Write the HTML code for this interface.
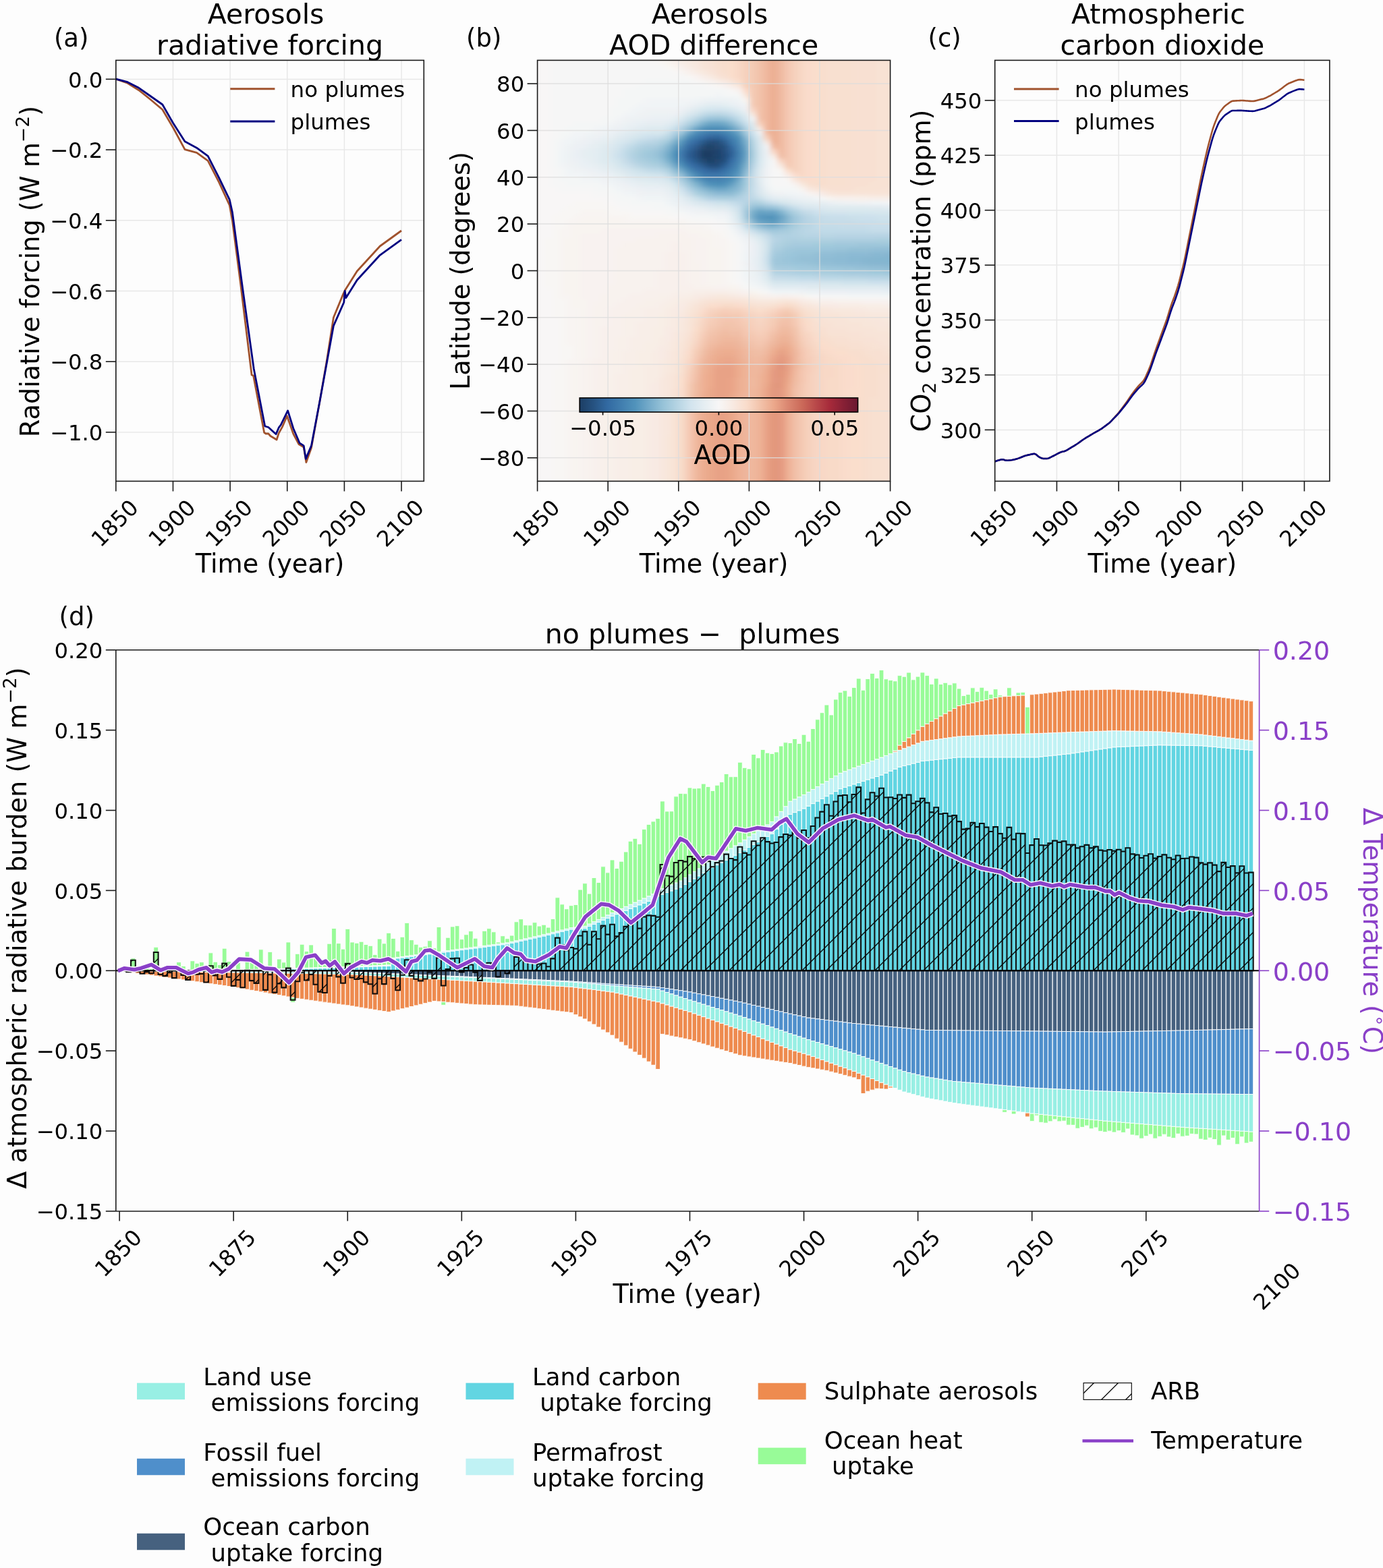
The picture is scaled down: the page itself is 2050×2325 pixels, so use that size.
<!DOCTYPE html>
<html><head><meta charset="utf-8"><title>figure</title>
<style>html,body{margin:0;padding:0;background:#fdfdfd;}svg{display:block;}text{font-family:"DejaVu Sans","Liberation Sans",sans-serif;white-space:pre;}</style>
</head><body>
<svg xmlns="http://www.w3.org/2000/svg" width="2050" height="2325" viewBox="0 0 2050 2325">
<rect x="0" y="0" width="2050" height="2325" fill="#fdfdfd"/>
<line x1="171.8" y1="89.4" x2="171.8" y2="713.5" stroke="#e8e8e8" stroke-width="1.5"/>
<line x1="256.45" y1="89.4" x2="256.45" y2="713.5" stroke="#e8e8e8" stroke-width="1.5"/>
<line x1="341.1" y1="89.4" x2="341.1" y2="713.5" stroke="#e8e8e8" stroke-width="1.5"/>
<line x1="425.75" y1="89.4" x2="425.75" y2="713.5" stroke="#e8e8e8" stroke-width="1.5"/>
<line x1="510.4" y1="89.4" x2="510.4" y2="713.5" stroke="#e8e8e8" stroke-width="1.5"/>
<line x1="595.05" y1="89.4" x2="595.05" y2="713.5" stroke="#e8e8e8" stroke-width="1.5"/>
<line x1="171.8" y1="117.4" x2="628.3" y2="117.4" stroke="#e8e8e8" stroke-width="1.5"/>
<line x1="171.8" y1="222.1" x2="628.3" y2="222.1" stroke="#e8e8e8" stroke-width="1.5"/>
<line x1="171.8" y1="326.8" x2="628.3" y2="326.8" stroke="#e8e8e8" stroke-width="1.5"/>
<line x1="171.8" y1="431.5" x2="628.3" y2="431.5" stroke="#e8e8e8" stroke-width="1.5"/>
<line x1="171.8" y1="536.2" x2="628.3" y2="536.2" stroke="#e8e8e8" stroke-width="1.5"/>
<line x1="171.8" y1="640.9" x2="628.3" y2="640.9" stroke="#e8e8e8" stroke-width="1.5"/>
<polyline points="171.7,117.2 189,123.3 205.8,133.7 223,147.5 240.8,162.5 257,190 274,221.7 291.5,226.3 308.2,238.3 324.8,270.6 340.3,304.4 344.4,327 356.7,421.5 373.1,556 375.6,557 391.6,641.3 394,643 397.8,643 400.9,646.5 410.1,652 413.2,642.4 418.4,633.1 425.5,616.7 434.8,643.4 443,658.8 450.2,663 453.9,685.5 461.5,664 473.8,596 484.1,536.6 494.4,470.8 508.8,435.9 511.8,429.7 529.3,402 563.2,365 595,342" fill="none" stroke="#a0522d" stroke-width="2.8" stroke-linejoin="round"/>
<polyline points="171.7,117.2 189,121.7 205.8,130.3 223,142.5 240.8,155 256.6,182.5 274,209.7 291.5,219.2 308.2,231.3 324.8,264 340.3,296.2 344.4,314.7 358.8,421.5 376.2,546.8 392.7,632 397.8,633.5 401.9,637.2 409.1,643.8 413.2,634.2 416.3,630 426.6,608.9 434.8,635.2 444,656.8 450.2,660.9 453.3,680.4 461.5,660.9 473.8,596 494.4,483.1 509.8,448.2 511.2,431.4 512.9,441.6 529.3,415.3 563.2,378.3 595,355.3" fill="none" stroke="#000080" stroke-width="2.8" stroke-linejoin="round"/>
<rect x="171.8" y="89.4" width="456.5" height="624.1" fill="none" stroke="#1a1a1a" stroke-width="1.6"/>
<line x1="171.8" y1="713.5" x2="171.8" y2="728.5" stroke="#1a1a1a" stroke-width="1.6"/>
<text x="169.5" y="787.31" font-size="32.3" text-anchor="middle" transform="rotate(-45 169.5 775.2)">1850</text>
<line x1="256.45" y1="713.5" x2="256.45" y2="728.5" stroke="#1a1a1a" stroke-width="1.6"/>
<text x="254.15" y="787.31" font-size="32.3" text-anchor="middle" transform="rotate(-45 254.15 775.2)">1900</text>
<line x1="341.1" y1="713.5" x2="341.1" y2="728.5" stroke="#1a1a1a" stroke-width="1.6"/>
<text x="338.8" y="787.31" font-size="32.3" text-anchor="middle" transform="rotate(-45 338.8 775.2)">1950</text>
<line x1="425.75" y1="713.5" x2="425.75" y2="728.5" stroke="#1a1a1a" stroke-width="1.6"/>
<text x="423.45" y="787.31" font-size="32.3" text-anchor="middle" transform="rotate(-45 423.45 775.2)">2000</text>
<line x1="510.4" y1="713.5" x2="510.4" y2="728.5" stroke="#1a1a1a" stroke-width="1.6"/>
<text x="508.1" y="787.31" font-size="32.3" text-anchor="middle" transform="rotate(-45 508.1 775.2)">2050</text>
<line x1="595.05" y1="713.5" x2="595.05" y2="728.5" stroke="#1a1a1a" stroke-width="1.6"/>
<text x="592.75" y="787.31" font-size="32.3" text-anchor="middle" transform="rotate(-45 592.75 775.2)">2100</text>
<line x1="156.8" y1="117.4" x2="171.8" y2="117.4" stroke="#1a1a1a" stroke-width="1.6"/>
<text x="152.4" y="129.51" font-size="32.3" text-anchor="end">0.0</text>
<line x1="156.8" y1="222.1" x2="171.8" y2="222.1" stroke="#1a1a1a" stroke-width="1.6"/>
<text x="152.4" y="234.21" font-size="32.3" text-anchor="end">−0.2</text>
<line x1="156.8" y1="326.8" x2="171.8" y2="326.8" stroke="#1a1a1a" stroke-width="1.6"/>
<text x="152.4" y="338.91" font-size="32.3" text-anchor="end">−0.4</text>
<line x1="156.8" y1="431.5" x2="171.8" y2="431.5" stroke="#1a1a1a" stroke-width="1.6"/>
<text x="152.4" y="443.61" font-size="32.3" text-anchor="end">−0.6</text>
<line x1="156.8" y1="536.2" x2="171.8" y2="536.2" stroke="#1a1a1a" stroke-width="1.6"/>
<text x="152.4" y="548.31" font-size="32.3" text-anchor="end">−0.8</text>
<line x1="156.8" y1="640.9" x2="171.8" y2="640.9" stroke="#1a1a1a" stroke-width="1.6"/>
<text x="152.4" y="653.01" font-size="32.3" text-anchor="end">−1.0</text>
<line x1="341.3" y1="131.8" x2="407.4" y2="131.8" stroke="#a0522d" stroke-width="3"/>
<line x1="341.3" y1="180" x2="407.4" y2="180" stroke="#000080" stroke-width="3"/>
<text x="430.6" y="144.2" font-size="32.5">no plumes</text>
<text x="430.6" y="191.7" font-size="32.5">plumes</text>
<text x="394.05" y="35.2" font-size="41" text-anchor="middle">Aerosols</text>
<text x="400.05" y="80.8" font-size="41" text-anchor="middle">radiative forcing</text>
<text x="79.9" y="68.9" font-size="37">(a)</text>
<text x="400.05" y="849.3" font-size="38.2" text-anchor="middle">Time (year)</text>
<text x="58.1" y="402.5" font-size="38.2" text-anchor="middle" transform="rotate(-90 58.1 402.5)">Radiative forcing (W m<tspan font-size="26.74" dy="-15">−2</tspan><tspan dy="15">)</tspan></text>
<line x1="1474.7" y1="89.4" x2="1474.7" y2="713.5" stroke="#e8e8e8" stroke-width="1.5"/>
<line x1="1566.44" y1="89.4" x2="1566.44" y2="713.5" stroke="#e8e8e8" stroke-width="1.5"/>
<line x1="1658.18" y1="89.4" x2="1658.18" y2="713.5" stroke="#e8e8e8" stroke-width="1.5"/>
<line x1="1749.92" y1="89.4" x2="1749.92" y2="713.5" stroke="#e8e8e8" stroke-width="1.5"/>
<line x1="1841.66" y1="89.4" x2="1841.66" y2="713.5" stroke="#e8e8e8" stroke-width="1.5"/>
<line x1="1933.4" y1="89.4" x2="1933.4" y2="713.5" stroke="#e8e8e8" stroke-width="1.5"/>
<line x1="1474.7" y1="637.4" x2="1970.9" y2="637.4" stroke="#e8e8e8" stroke-width="1.5"/>
<line x1="1474.7" y1="555.98" x2="1970.9" y2="555.98" stroke="#e8e8e8" stroke-width="1.5"/>
<line x1="1474.7" y1="474.55" x2="1970.9" y2="474.55" stroke="#e8e8e8" stroke-width="1.5"/>
<line x1="1474.7" y1="393.12" x2="1970.9" y2="393.12" stroke="#e8e8e8" stroke-width="1.5"/>
<line x1="1474.7" y1="311.7" x2="1970.9" y2="311.7" stroke="#e8e8e8" stroke-width="1.5"/>
<line x1="1474.7" y1="230.27" x2="1970.9" y2="230.27" stroke="#e8e8e8" stroke-width="1.5"/>
<line x1="1474.7" y1="148.85" x2="1970.9" y2="148.85" stroke="#e8e8e8" stroke-width="1.5"/>
<polyline points="1474.7,684.25 1476.53,683.66 1478.37,683.07 1480.2,682.49 1482.04,681.9 1483.87,681.38 1485.71,681.22 1487.54,681.59 1489.38,682.2 1491.21,682.67 1493.05,682.79 1494.88,682.66 1496.72,682.48 1498.55,682.29 1500.39,682.02 1502.22,681.63 1504.06,681.17 1505.89,680.71 1507.73,680.22 1509.56,679.63 1511.4,678.93 1513.23,678.2 1515.07,677.46 1516.9,676.73 1518.74,676.05 1520.57,675.5 1522.4,675.05 1524.24,674.63 1526.07,674.21 1527.91,673.79 1529.74,673.37 1531.58,672.95 1533.41,672.84 1535.25,673.59 1537.08,675.12 1538.92,676.65 1540.75,677.79 1542.59,678.77 1544.42,679.57 1546.26,679.94 1548.09,680 1549.93,680 1551.76,679.98 1553.6,679.7 1555.43,678.99 1557.27,678.07 1559.1,677.15 1560.94,676.23 1562.77,675.29 1564.61,674.35 1566.44,673.39 1568.27,672.44 1570.11,671.48 1571.94,670.63 1573.78,670.02 1575.61,669.6 1577.45,669.2 1579.28,668.58 1581.12,667.63 1582.95,666.53 1584.79,665.43 1586.62,664.32 1588.46,663.22 1590.29,662.12 1592.13,661.02 1593.96,659.92 1595.8,658.77 1597.63,657.51 1599.47,656.2 1601.3,654.88 1603.14,653.55 1604.97,652.24 1606.81,650.99 1608.64,649.84 1610.48,648.74 1612.31,647.64 1614.14,646.53 1615.98,645.43 1617.81,644.34 1619.65,643.25 1621.48,642.2 1623.32,641.16 1625.15,640.12 1626.99,639.08 1628.82,638.04 1630.66,636.99 1632.49,635.84 1634.33,634.56 1636.16,633.21 1638,631.87 1639.83,630.52 1641.67,629.17 1643.5,627.79 1645.34,626.19 1647.17,624.3 1649.01,622.28 1650.84,620.27 1652.68,618.25 1654.51,616.23 1656.35,614.18 1658.18,612 1660.01,609.63 1661.85,607.18 1663.68,604.73 1665.52,602.29 1667.35,599.84 1669.19,597.37 1671.02,594.8 1672.86,592.1 1674.69,589.34 1676.53,586.59 1678.36,583.92 1680.2,581.44 1682.03,579.11 1683.87,576.81 1685.7,574.53 1687.54,572.36 1689.37,570.42 1691.21,568.58 1693.04,566.75 1694.88,564.68 1696.71,561.8 1698.55,558.01 1700.38,553.88 1702.22,549.75 1704.05,545.36 1705.88,540.35 1707.72,534.93 1709.55,529.42 1711.39,523.93 1713.22,518.57 1715.06,513.43 1716.89,508.38 1718.73,503.34 1720.56,498.29 1722.4,493.25 1724.23,488.2 1726.07,483.15 1727.9,478.11 1729.74,472.83 1731.57,467.06 1733.41,460.98 1735.24,455.01 1737.08,449.57 1738.91,444.73 1740.75,439.89 1742.58,434.6 1744.42,429.09 1746.25,423.32 1748.09,416.83 1749.92,409.68 1751.75,402.34 1753.59,395 1755.42,387.23 1757.26,378.57 1759.09,369.42 1760.93,360.25 1762.76,351.08 1764.6,341.9 1766.43,332.73 1768.27,323.55 1770.1,314.38 1771.94,305.21 1773.77,296.03 1775.61,286.86 1777.44,277.68 1779.28,268.52 1781.11,259.58 1782.95,251.1 1784.78,242.85 1786.62,234.59 1788.45,226.47 1790.29,218.82 1792.12,211.73 1793.96,204.85 1795.79,197.97 1797.62,191.52 1799.46,186.07 1801.29,181.34 1803.13,176.75 1804.96,172.23 1806.8,168.34 1808.63,165.54 1810.47,163.24 1812.3,160.95 1814.14,158.77 1815.97,156.95 1817.81,155.5 1819.64,154.18 1821.48,152.86 1823.31,151.54 1825.15,150.42 1826.98,149.82 1828.82,149.61 1830.65,149.51 1832.49,149.4 1834.32,149.3 1836.16,149.19 1837.99,149.09 1839.83,149.02 1841.66,149.04 1843.49,149.15 1845.33,149.29 1847.16,149.43 1849,149.56 1850.83,149.7 1852.67,149.84 1854.5,149.98 1856.34,150.07 1858.17,149.98 1860.01,149.63 1861.84,149.17 1863.68,148.71 1865.51,148.25 1867.35,147.79 1869.18,147.33 1871.02,146.87 1872.85,146.41 1874.69,145.84 1876.52,145.04 1878.36,144.12 1880.19,143.2 1882.03,142.27 1883.86,141.27 1885.7,140.2 1887.53,139.1 1889.36,138 1891.2,136.9 1893.03,135.8 1894.87,134.66 1896.7,133.42 1898.54,132.06 1900.37,130.66 1902.21,129.25 1904.04,127.84 1905.88,126.44 1907.71,125.11 1909.55,124.02 1911.38,123.19 1913.22,122.46 1915.05,121.72 1916.89,120.99 1918.72,120.26 1920.56,119.54 1922.39,118.9 1924.23,118.36 1926.06,118.06 1927.9,118.11 1929.73,118.32 1931.57,118.52 1933.4,118.72" fill="none" stroke="#a0522d" stroke-width="2.6" stroke-linejoin="round"/>
<polyline points="1474.7,684.25 1476.53,683.66 1478.37,683.07 1480.2,682.49 1482.04,681.9 1483.87,681.38 1485.71,681.22 1487.54,681.59 1489.38,682.2 1491.21,682.67 1493.05,682.79 1494.88,682.66 1496.72,682.48 1498.55,682.29 1500.39,682.02 1502.22,681.63 1504.06,681.17 1505.89,680.71 1507.73,680.22 1509.56,679.63 1511.4,678.93 1513.23,678.2 1515.07,677.46 1516.9,676.73 1518.74,676.05 1520.57,675.5 1522.4,675.05 1524.24,674.63 1526.07,674.21 1527.91,673.79 1529.74,673.37 1531.58,672.95 1533.41,672.84 1535.25,673.59 1537.08,675.12 1538.92,676.65 1540.75,677.79 1542.59,678.77 1544.42,679.57 1546.26,679.94 1548.09,680 1549.93,680 1551.76,679.98 1553.6,679.7 1555.43,678.99 1557.27,678.07 1559.1,677.15 1560.94,676.23 1562.77,675.29 1564.61,674.35 1566.44,673.39 1568.27,672.44 1570.11,671.48 1571.94,670.63 1573.78,670.02 1575.61,669.6 1577.45,669.2 1579.28,668.58 1581.12,667.63 1582.95,666.53 1584.79,665.43 1586.62,664.32 1588.46,663.22 1590.29,662.12 1592.13,661.02 1593.96,659.92 1595.8,658.77 1597.63,657.51 1599.47,656.2 1601.3,654.88 1603.14,653.55 1604.97,652.24 1606.81,650.99 1608.64,649.84 1610.48,648.74 1612.31,647.64 1614.14,646.53 1615.98,645.43 1617.81,644.34 1619.65,643.25 1621.48,642.2 1623.32,641.16 1625.15,640.12 1626.99,639.08 1628.82,638.04 1630.66,636.99 1632.49,635.84 1634.33,634.56 1636.16,633.21 1638,631.87 1639.83,630.52 1641.67,629.17 1643.5,627.79 1645.34,626.19 1647.17,624.3 1649.01,622.28 1650.84,620.44 1652.68,618.6 1654.51,616.75 1656.35,614.88 1658.18,612.86 1660.01,610.67 1661.85,608.4 1663.68,606.12 1665.52,603.85 1667.35,601.58 1669.19,599.28 1671.02,596.88 1672.86,594.35 1674.69,591.78 1676.53,589.2 1678.36,586.68 1680.2,584.35 1682.03,582.17 1683.87,580.03 1685.7,577.89 1687.54,575.88 1689.37,574.09 1691.21,572.4 1693.04,570.72 1694.88,568.8 1696.71,566.07 1698.55,562.44 1700.38,558.46 1702.22,554.48 1704.05,550.24 1705.88,545.38 1707.72,540.1 1709.55,534.74 1711.39,529.39 1713.22,524.18 1715.06,519.17 1716.89,514.27 1718.73,509.37 1720.56,504.47 1722.4,499.56 1724.23,494.66 1726.07,489.76 1727.9,484.86 1729.74,479.73 1731.57,474.1 1733.41,468.16 1735.24,462.33 1737.08,457.03 1738.91,452.34 1740.75,447.64 1742.58,442.49 1744.42,437.13 1746.25,431.5 1748.09,425.15 1749.92,418.15 1751.75,410.98 1753.59,403.81 1755.42,396.21 1757.26,387.72 1759.09,378.74 1760.93,369.73 1762.76,360.73 1764.6,351.72 1766.43,342.72 1768.27,333.72 1770.1,324.71 1771.94,315.71 1773.77,306.7 1775.61,297.7 1777.44,288.69 1779.28,279.69 1781.11,270.93 1782.95,262.62 1784.78,254.53 1786.62,246.45 1788.45,238.49 1790.29,231.01 1792.12,224.09 1793.96,217.38 1795.79,210.67 1797.62,204.31 1799.46,198.95 1801.29,194.31 1803.13,189.82 1804.96,185.39 1806.8,181.59 1808.63,178.88 1810.47,176.68 1812.3,174.47 1814.14,172.39 1815.97,170.66 1817.81,169.3 1819.64,168.07 1821.48,166.84 1823.31,165.61 1825.15,164.58 1826.98,164.07 1828.82,163.96 1830.65,163.94 1832.49,163.93 1834.32,163.91 1836.16,163.9 1837.99,163.89 1839.83,163.91 1841.66,164.02 1843.49,164.11 1845.33,164.23 1847.16,164.35 1849,164.47 1850.83,164.59 1852.67,164.7 1854.5,164.82 1856.34,164.9 1858.17,164.78 1860.01,164.41 1861.84,163.93 1863.68,163.46 1865.51,162.98 1867.35,162.5 1869.18,162.02 1871.02,161.54 1872.85,161.06 1874.69,160.47 1876.52,159.65 1878.36,158.71 1880.19,157.77 1882.03,156.82 1883.86,155.8 1885.7,154.71 1887.53,153.59 1889.36,152.47 1891.2,151.35 1893.03,150.23 1894.87,149.08 1896.7,147.82 1898.54,146.44 1900.37,145.01 1902.21,143.59 1904.04,142.16 1905.88,140.74 1907.71,139.38 1909.55,138.28 1911.38,137.43 1913.22,136.68 1915.05,135.92 1916.89,135.17 1918.72,134.42 1920.56,133.69 1922.39,133.02 1924.23,132.46 1926.06,132.15 1927.9,132.18 1929.73,132.36 1931.57,132.54 1933.4,132.73" fill="none" stroke="#000080" stroke-width="2.6" stroke-linejoin="round"/>
<rect x="1474.7" y="89.4" width="496.2" height="624.1" fill="none" stroke="#1a1a1a" stroke-width="1.6"/>
<line x1="1474.7" y1="713.5" x2="1474.7" y2="728.5" stroke="#1a1a1a" stroke-width="1.6"/>
<text x="1472.4" y="787.31" font-size="32.3" text-anchor="middle" transform="rotate(-45 1472.4 775.2)">1850</text>
<line x1="1566.44" y1="713.5" x2="1566.44" y2="728.5" stroke="#1a1a1a" stroke-width="1.6"/>
<text x="1564.14" y="787.31" font-size="32.3" text-anchor="middle" transform="rotate(-45 1564.14 775.2)">1900</text>
<line x1="1658.18" y1="713.5" x2="1658.18" y2="728.5" stroke="#1a1a1a" stroke-width="1.6"/>
<text x="1655.88" y="787.31" font-size="32.3" text-anchor="middle" transform="rotate(-45 1655.88 775.2)">1950</text>
<line x1="1749.92" y1="713.5" x2="1749.92" y2="728.5" stroke="#1a1a1a" stroke-width="1.6"/>
<text x="1747.62" y="787.31" font-size="32.3" text-anchor="middle" transform="rotate(-45 1747.62 775.2)">2000</text>
<line x1="1841.66" y1="713.5" x2="1841.66" y2="728.5" stroke="#1a1a1a" stroke-width="1.6"/>
<text x="1839.36" y="787.31" font-size="32.3" text-anchor="middle" transform="rotate(-45 1839.36 775.2)">2050</text>
<line x1="1933.4" y1="713.5" x2="1933.4" y2="728.5" stroke="#1a1a1a" stroke-width="1.6"/>
<text x="1931.1" y="787.31" font-size="32.3" text-anchor="middle" transform="rotate(-45 1931.1 775.2)">2100</text>
<line x1="1459.7" y1="637.4" x2="1474.7" y2="637.4" stroke="#1a1a1a" stroke-width="1.6"/>
<text x="1455.3" y="649.51" font-size="32.3" text-anchor="end">300</text>
<line x1="1459.7" y1="555.98" x2="1474.7" y2="555.98" stroke="#1a1a1a" stroke-width="1.6"/>
<text x="1455.3" y="568.09" font-size="32.3" text-anchor="end">325</text>
<line x1="1459.7" y1="474.55" x2="1474.7" y2="474.55" stroke="#1a1a1a" stroke-width="1.6"/>
<text x="1455.3" y="486.66" font-size="32.3" text-anchor="end">350</text>
<line x1="1459.7" y1="393.12" x2="1474.7" y2="393.12" stroke="#1a1a1a" stroke-width="1.6"/>
<text x="1455.3" y="405.24" font-size="32.3" text-anchor="end">375</text>
<line x1="1459.7" y1="311.7" x2="1474.7" y2="311.7" stroke="#1a1a1a" stroke-width="1.6"/>
<text x="1455.3" y="323.81" font-size="32.3" text-anchor="end">400</text>
<line x1="1459.7" y1="230.27" x2="1474.7" y2="230.27" stroke="#1a1a1a" stroke-width="1.6"/>
<text x="1455.3" y="242.39" font-size="32.3" text-anchor="end">425</text>
<line x1="1459.7" y1="148.85" x2="1474.7" y2="148.85" stroke="#1a1a1a" stroke-width="1.6"/>
<text x="1455.3" y="160.96" font-size="32.3" text-anchor="end">450</text>
<line x1="1503" y1="132" x2="1569.6" y2="132" stroke="#a0522d" stroke-width="3"/>
<line x1="1503" y1="179.6" x2="1569.6" y2="179.6" stroke="#000080" stroke-width="3"/>
<text x="1593.1" y="144.2" font-size="32.5">no plumes</text>
<text x="1593.1" y="191.7" font-size="32.5">plumes</text>
<text x="1716.8" y="35.2" font-size="41" text-anchor="middle">Atmospheric</text>
<text x="1722.8" y="80.8" font-size="41" text-anchor="middle">carbon dioxide</text>
<text x="1375.6" y="68.9" font-size="37">(c)</text>
<text x="1722.8" y="849.3" font-size="38.2" text-anchor="middle">Time (year)</text>
<text x="1378.5" y="401.5" font-size="38.2" text-anchor="middle" transform="rotate(-90 1378.5 401.5)">CO<tspan font-size="26.74" dy="8">2</tspan><tspan dy="-8"> concentration (ppm)</tspan></text>
<defs><clipPath id="clipb"><rect x="796.6" y="89.4" width="523" height="624.1"/></clipPath>
<filter id="blurb" filterUnits="userSpaceOnUse" x="775.68" y="75.53" width="564.84" height="651.84"><feGaussianBlur stdDeviation="4 2.5"/></filter></defs>
<g clip-path="url(#clipb)"><g filter="url(#blurb)"><g transform="translate(775.68 75.53) scale(10.4600 6.9344)">
<path fill="#f8f6f6" d="M0 0h1.05v1.05h-1.05zM1 0h1.05v1.05h-1.05zM2 0h1.05v1.05h-1.05zM3 0h1.05v1.05h-1.05zM16 0h1.05v1.05h-1.05zM17 0h1.05v1.05h-1.05zM0 1h1.05v1.05h-1.05zM1 1h1.05v1.05h-1.05zM2 1h1.05v1.05h-1.05zM3 1h1.05v1.05h-1.05zM16 1h1.05v1.05h-1.05zM17 1h1.05v1.05h-1.05zM0 2h1.05v1.05h-1.05zM1 2h1.05v1.05h-1.05zM2 2h1.05v1.05h-1.05zM3 2h1.05v1.05h-1.05zM18 2h1.05v1.05h-1.05zM0 3h1.05v1.05h-1.05zM1 3h1.05v1.05h-1.05zM2 3h1.05v1.05h-1.05zM3 3h1.05v1.05h-1.05zM0 4h1.05v1.05h-1.05zM1 4h1.05v1.05h-1.05zM2 4h1.05v1.05h-1.05zM3 4h1.05v1.05h-1.05zM21 4h1.05v1.05h-1.05zM0 5h1.05v1.05h-1.05zM1 5h1.05v1.05h-1.05zM2 5h1.05v1.05h-1.05zM3 5h1.05v1.05h-1.05zM0 6h1.05v1.05h-1.05zM1 6h1.05v1.05h-1.05zM2 6h1.05v1.05h-1.05zM3 6h1.05v1.05h-1.05zM24 6h1.05v1.05h-1.05zM0 7h1.05v1.05h-1.05zM1 7h1.05v1.05h-1.05zM2 7h1.05v1.05h-1.05zM3 7h1.05v1.05h-1.05zM0 8h1.05v1.05h-1.05zM1 8h1.05v1.05h-1.05zM2 8h1.05v1.05h-1.05zM3 8h1.05v1.05h-1.05zM29 8h1.05v1.05h-1.05zM0 9h1.05v1.05h-1.05zM1 9h1.05v1.05h-1.05zM2 9h1.05v1.05h-1.05zM3 9h1.05v1.05h-1.05zM0 10h1.05v1.05h-1.05zM1 10h1.05v1.05h-1.05zM2 10h1.05v1.05h-1.05zM3 10h1.05v1.05h-1.05zM0 11h1.05v1.05h-1.05zM1 11h1.05v1.05h-1.05zM2 11h1.05v1.05h-1.05zM3 11h1.05v1.05h-1.05zM0 12h1.05v1.05h-1.05zM1 12h1.05v1.05h-1.05zM2 12h1.05v1.05h-1.05zM3 12h1.05v1.05h-1.05zM0 13h1.05v1.05h-1.05zM1 13h1.05v1.05h-1.05zM2 13h1.05v1.05h-1.05zM3 13h1.05v1.05h-1.05zM0 14h1.05v1.05h-1.05zM1 14h1.05v1.05h-1.05zM2 14h1.05v1.05h-1.05zM3 14h1.05v1.05h-1.05zM0 15h1.05v1.05h-1.05zM1 15h1.05v1.05h-1.05zM2 15h1.05v1.05h-1.05zM3 15h1.05v1.05h-1.05zM0 16h1.05v1.05h-1.05zM1 16h1.05v1.05h-1.05zM2 16h1.05v1.05h-1.05zM3 16h1.05v1.05h-1.05zM0 17h1.05v1.05h-1.05zM1 17h1.05v1.05h-1.05zM2 17h1.05v1.05h-1.05zM3 17h1.05v1.05h-1.05zM0 18h1.05v1.05h-1.05zM1 18h1.05v1.05h-1.05zM2 18h1.05v1.05h-1.05zM3 18h1.05v1.05h-1.05zM0 19h1.05v1.05h-1.05zM1 19h1.05v1.05h-1.05zM2 19h1.05v1.05h-1.05zM3 19h1.05v1.05h-1.05zM0 20h1.05v1.05h-1.05zM1 20h1.05v1.05h-1.05zM2 20h1.05v1.05h-1.05zM3 20h1.05v1.05h-1.05zM0 21h1.05v1.05h-1.05zM1 21h1.05v1.05h-1.05zM2 21h1.05v1.05h-1.05zM3 21h1.05v1.05h-1.05zM0 22h1.05v1.05h-1.05zM1 22h1.05v1.05h-1.05zM2 22h1.05v1.05h-1.05zM3 22h1.05v1.05h-1.05zM0 23h1.05v1.05h-1.05zM1 23h1.05v1.05h-1.05zM2 23h1.05v1.05h-1.05zM3 23h1.05v1.05h-1.05zM0 24h1.05v1.05h-1.05zM1 24h1.05v1.05h-1.05zM2 24h1.05v1.05h-1.05zM3 24h1.05v1.05h-1.05zM0 25h1.05v1.05h-1.05zM1 25h1.05v1.05h-1.05zM2 25h1.05v1.05h-1.05zM3 25h1.05v1.05h-1.05zM0 26h1.05v1.05h-1.05zM1 26h1.05v1.05h-1.05zM2 26h1.05v1.05h-1.05zM3 26h1.05v1.05h-1.05zM0 27h1.05v1.05h-1.05zM1 27h1.05v1.05h-1.05zM2 27h1.05v1.05h-1.05zM3 27h1.05v1.05h-1.05zM0 28h1.05v1.05h-1.05zM1 28h1.05v1.05h-1.05zM2 28h1.05v1.05h-1.05zM3 28h1.05v1.05h-1.05zM0 29h1.05v1.05h-1.05zM1 29h1.05v1.05h-1.05zM2 29h1.05v1.05h-1.05zM3 29h1.05v1.05h-1.05zM4 29h1.05v1.05h-1.05zM0 30h1.05v1.05h-1.05zM1 30h1.05v1.05h-1.05zM2 30h1.05v1.05h-1.05zM3 30h1.05v1.05h-1.05zM4 30h1.05v1.05h-1.05zM5 30h1.05v1.05h-1.05zM6 30h1.05v1.05h-1.05zM7 30h1.05v1.05h-1.05zM8 30h1.05v1.05h-1.05zM9 30h1.05v1.05h-1.05zM0 31h1.05v1.05h-1.05zM1 31h1.05v1.05h-1.05zM2 31h1.05v1.05h-1.05zM3 31h1.05v1.05h-1.05zM4 31h1.05v1.05h-1.05zM5 31h1.05v1.05h-1.05zM6 31h1.05v1.05h-1.05zM7 31h1.05v1.05h-1.05zM8 31h1.05v1.05h-1.05zM9 31h1.05v1.05h-1.05zM10 31h1.05v1.05h-1.05zM11 31h1.05v1.05h-1.05zM0 32h1.05v1.05h-1.05zM1 32h1.05v1.05h-1.05zM2 32h1.05v1.05h-1.05zM3 32h1.05v1.05h-1.05zM4 32h1.05v1.05h-1.05zM5 32h1.05v1.05h-1.05zM6 32h1.05v1.05h-1.05zM12 32h1.05v1.05h-1.05zM0 33h1.05v1.05h-1.05zM1 33h1.05v1.05h-1.05zM2 33h1.05v1.05h-1.05zM3 33h1.05v1.05h-1.05zM4 33h1.05v1.05h-1.05zM5 33h1.05v1.05h-1.05zM13 33h1.05v1.05h-1.05zM14 33h1.05v1.05h-1.05zM0 34h1.05v1.05h-1.05zM1 34h1.05v1.05h-1.05zM2 34h1.05v1.05h-1.05zM3 34h1.05v1.05h-1.05zM4 34h1.05v1.05h-1.05zM15 34h1.05v1.05h-1.05zM16 34h1.05v1.05h-1.05zM17 34h1.05v1.05h-1.05zM18 34h1.05v1.05h-1.05zM19 34h1.05v1.05h-1.05zM0 35h1.05v1.05h-1.05zM1 35h1.05v1.05h-1.05zM2 35h1.05v1.05h-1.05zM3 35h1.05v1.05h-1.05zM21 35h1.05v1.05h-1.05zM22 35h1.05v1.05h-1.05zM0 36h1.05v1.05h-1.05zM1 36h1.05v1.05h-1.05zM2 36h1.05v1.05h-1.05zM3 36h1.05v1.05h-1.05zM25 36h1.05v1.05h-1.05zM26 36h1.05v1.05h-1.05zM0 37h1.05v1.05h-1.05zM1 37h1.05v1.05h-1.05zM2 37h1.05v1.05h-1.05zM3 37h1.05v1.05h-1.05zM27 37h1.05v1.05h-1.05zM28 37h1.05v1.05h-1.05zM0 38h1.05v1.05h-1.05zM1 38h1.05v1.05h-1.05zM2 38h1.05v1.05h-1.05zM3 38h1.05v1.05h-1.05zM0 39h1.05v1.05h-1.05zM1 39h1.05v1.05h-1.05zM2 39h1.05v1.05h-1.05zM3 39h1.05v1.05h-1.05zM0 40h1.05v1.05h-1.05zM1 40h1.05v1.05h-1.05zM2 40h1.05v1.05h-1.05zM29 40h1.05v1.05h-1.05zM0 41h1.05v1.05h-1.05zM1 41h1.05v1.05h-1.05zM2 41h1.05v1.05h-1.05zM0 42h1.05v1.05h-1.05zM1 42h1.05v1.05h-1.05zM2 42h1.05v1.05h-1.05zM0 43h1.05v1.05h-1.05zM1 43h1.05v1.05h-1.05zM2 43h1.05v1.05h-1.05zM0 44h1.05v1.05h-1.05zM1 44h1.05v1.05h-1.05zM2 44h1.05v1.05h-1.05zM0 45h1.05v1.05h-1.05zM1 45h1.05v1.05h-1.05zM2 45h1.05v1.05h-1.05zM0 46h1.05v1.05h-1.05zM1 46h1.05v1.05h-1.05zM2 46h1.05v1.05h-1.05zM0 47h1.05v1.05h-1.05zM1 47h1.05v1.05h-1.05zM2 47h1.05v1.05h-1.05zM0 48h1.05v1.05h-1.05zM1 48h1.05v1.05h-1.05zM2 48h1.05v1.05h-1.05zM0 49h1.05v1.05h-1.05zM1 49h1.05v1.05h-1.05zM2 49h1.05v1.05h-1.05zM30 49h1.05v1.05h-1.05zM0 50h1.05v1.05h-1.05zM1 50h1.05v1.05h-1.05zM2 50h1.05v1.05h-1.05zM0 51h1.05v1.05h-1.05zM1 51h1.05v1.05h-1.05zM2 51h1.05v1.05h-1.05zM3 51h1.05v1.05h-1.05zM0 52h1.05v1.05h-1.05zM1 52h1.05v1.05h-1.05zM2 52h1.05v1.05h-1.05zM3 52h1.05v1.05h-1.05zM41 52h1.05v1.05h-1.05zM0 53h1.05v1.05h-1.05zM1 53h1.05v1.05h-1.05zM2 53h1.05v1.05h-1.05zM3 53h1.05v1.05h-1.05zM0 54h1.05v1.05h-1.05zM1 54h1.05v1.05h-1.05zM2 54h1.05v1.05h-1.05zM3 54h1.05v1.05h-1.05zM0 55h1.05v1.05h-1.05zM1 55h1.05v1.05h-1.05zM2 55h1.05v1.05h-1.05zM3 55h1.05v1.05h-1.05zM0 56h1.05v1.05h-1.05zM1 56h1.05v1.05h-1.05zM2 56h1.05v1.05h-1.05zM3 56h1.05v1.05h-1.05zM0 57h1.05v1.05h-1.05zM1 57h1.05v1.05h-1.05zM2 57h1.05v1.05h-1.05zM3 57h1.05v1.05h-1.05zM4 57h1.05v1.05h-1.05zM0 58h1.05v1.05h-1.05zM1 58h1.05v1.05h-1.05zM2 58h1.05v1.05h-1.05zM3 58h1.05v1.05h-1.05zM4 58h1.05v1.05h-1.05zM0 59h1.05v1.05h-1.05zM1 59h1.05v1.05h-1.05zM2 59h1.05v1.05h-1.05zM3 59h1.05v1.05h-1.05zM4 59h1.05v1.05h-1.05zM0 60h1.05v1.05h-1.05zM1 60h1.05v1.05h-1.05zM2 60h1.05v1.05h-1.05zM3 60h1.05v1.05h-1.05zM4 60h1.05v1.05h-1.05zM0 61h1.05v1.05h-1.05zM1 61h1.05v1.05h-1.05zM2 61h1.05v1.05h-1.05zM3 61h1.05v1.05h-1.05zM4 61h1.05v1.05h-1.05zM0 62h1.05v1.05h-1.05zM1 62h1.05v1.05h-1.05zM2 62h1.05v1.05h-1.05zM3 62h1.05v1.05h-1.05zM4 62h1.05v1.05h-1.05zM0 63h1.05v1.05h-1.05zM1 63h1.05v1.05h-1.05zM2 63h1.05v1.05h-1.05zM3 63h1.05v1.05h-1.05zM4 63h1.05v1.05h-1.05zM0 64h1.05v1.05h-1.05zM1 64h1.05v1.05h-1.05zM2 64h1.05v1.05h-1.05zM3 64h1.05v1.05h-1.05zM4 64h1.05v1.05h-1.05zM0 65h1.05v1.05h-1.05zM1 65h1.05v1.05h-1.05zM2 65h1.05v1.05h-1.05zM3 65h1.05v1.05h-1.05zM4 65h1.05v1.05h-1.05zM0 66h1.05v1.05h-1.05zM1 66h1.05v1.05h-1.05zM2 66h1.05v1.05h-1.05zM3 66h1.05v1.05h-1.05zM4 66h1.05v1.05h-1.05zM0 67h1.05v1.05h-1.05zM1 67h1.05v1.05h-1.05zM2 67h1.05v1.05h-1.05zM3 67h1.05v1.05h-1.05zM4 67h1.05v1.05h-1.05zM0 68h1.05v1.05h-1.05zM1 68h1.05v1.05h-1.05zM2 68h1.05v1.05h-1.05zM3 68h1.05v1.05h-1.05zM0 69h1.05v1.05h-1.05zM1 69h1.05v1.05h-1.05zM2 69h1.05v1.05h-1.05zM3 69h1.05v1.05h-1.05zM0 70h1.05v1.05h-1.05zM1 70h1.05v1.05h-1.05zM2 70h1.05v1.05h-1.05zM3 70h1.05v1.05h-1.05zM0 71h1.05v1.05h-1.05zM1 71h1.05v1.05h-1.05zM2 71h1.05v1.05h-1.05zM3 71h1.05v1.05h-1.05zM0 72h1.05v1.05h-1.05zM1 72h1.05v1.05h-1.05zM2 72h1.05v1.05h-1.05zM3 72h1.05v1.05h-1.05zM0 73h1.05v1.05h-1.05zM1 73h1.05v1.05h-1.05zM2 73h1.05v1.05h-1.05zM3 73h1.05v1.05h-1.05zM0 74h1.05v1.05h-1.05zM1 74h1.05v1.05h-1.05zM2 74h1.05v1.05h-1.05zM3 74h1.05v1.05h-1.05zM0 75h1.05v1.05h-1.05zM1 75h1.05v1.05h-1.05zM2 75h1.05v1.05h-1.05zM3 75h1.05v1.05h-1.05zM0 76h1.05v1.05h-1.05zM1 76h1.05v1.05h-1.05zM2 76h1.05v1.05h-1.05zM3 76h1.05v1.05h-1.05zM0 77h1.05v1.05h-1.05zM1 77h1.05v1.05h-1.05zM2 77h1.05v1.05h-1.05zM3 77h1.05v1.05h-1.05zM0 78h1.05v1.05h-1.05zM1 78h1.05v1.05h-1.05zM2 78h1.05v1.05h-1.05zM3 78h1.05v1.05h-1.05zM0 79h1.05v1.05h-1.05zM1 79h1.05v1.05h-1.05zM2 79h1.05v1.05h-1.05zM3 79h1.05v1.05h-1.05zM0 80h1.05v1.05h-1.05zM1 80h1.05v1.05h-1.05zM2 80h1.05v1.05h-1.05zM3 80h1.05v1.05h-1.05zM0 81h1.05v1.05h-1.05zM1 81h1.05v1.05h-1.05zM2 81h1.05v1.05h-1.05zM3 81h1.05v1.05h-1.05zM0 82h1.05v1.05h-1.05zM1 82h1.05v1.05h-1.05zM2 82h1.05v1.05h-1.05zM3 82h1.05v1.05h-1.05zM0 83h1.05v1.05h-1.05zM1 83h1.05v1.05h-1.05zM2 83h1.05v1.05h-1.05zM3 83h1.05v1.05h-1.05zM0 84h1.05v1.05h-1.05zM1 84h1.05v1.05h-1.05zM2 84h1.05v1.05h-1.05zM3 84h1.05v1.05h-1.05zM0 85h1.05v1.05h-1.05zM1 85h1.05v1.05h-1.05zM2 85h1.05v1.05h-1.05zM3 85h1.05v1.05h-1.05zM0 86h1.05v1.05h-1.05zM1 86h1.05v1.05h-1.05zM2 86h1.05v1.05h-1.05zM3 86h1.05v1.05h-1.05zM0 87h1.05v1.05h-1.05zM1 87h1.05v1.05h-1.05zM2 87h1.05v1.05h-1.05zM3 87h1.05v1.05h-1.05zM0 88h1.05v1.05h-1.05zM1 88h1.05v1.05h-1.05zM2 88h1.05v1.05h-1.05zM3 88h1.05v1.05h-1.05zM0 89h1.05v1.05h-1.05zM1 89h1.05v1.05h-1.05zM2 89h1.05v1.05h-1.05zM3 89h1.05v1.05h-1.05zM0 90h1.05v1.05h-1.05zM1 90h1.05v1.05h-1.05zM2 90h1.05v1.05h-1.05zM3 90h1.05v1.05h-1.05zM0 91h1.05v1.05h-1.05zM1 91h1.05v1.05h-1.05zM2 91h1.05v1.05h-1.05zM3 91h1.05v1.05h-1.05zM0 92h1.05v1.05h-1.05zM1 92h1.05v1.05h-1.05zM2 92h1.05v1.05h-1.05zM3 92h1.05v1.05h-1.05zM0 93h1.05v1.05h-1.05zM1 93h1.05v1.05h-1.05zM2 93h1.05v1.05h-1.05zM3 93h1.05v1.05h-1.05z"/>
<path fill="#f6f6f6" d="M4 0h1.05v1.05h-1.05zM5 0h1.05v1.05h-1.05zM6 0h1.05v1.05h-1.05zM7 0h1.05v1.05h-1.05zM8 0h1.05v1.05h-1.05zM9 0h1.05v1.05h-1.05zM10 0h1.05v1.05h-1.05zM11 0h1.05v1.05h-1.05zM12 0h1.05v1.05h-1.05zM13 0h1.05v1.05h-1.05zM14 0h1.05v1.05h-1.05zM15 0h1.05v1.05h-1.05zM4 1h1.05v1.05h-1.05zM5 1h1.05v1.05h-1.05zM6 1h1.05v1.05h-1.05zM7 1h1.05v1.05h-1.05zM8 1h1.05v1.05h-1.05zM9 1h1.05v1.05h-1.05zM10 1h1.05v1.05h-1.05zM11 1h1.05v1.05h-1.05zM12 1h1.05v1.05h-1.05zM13 1h1.05v1.05h-1.05zM14 1h1.05v1.05h-1.05zM15 1h1.05v1.05h-1.05zM4 2h1.05v1.05h-1.05zM5 2h1.05v1.05h-1.05zM6 2h1.05v1.05h-1.05zM7 2h1.05v1.05h-1.05zM8 2h1.05v1.05h-1.05zM9 2h1.05v1.05h-1.05zM10 2h1.05v1.05h-1.05zM11 2h1.05v1.05h-1.05zM12 2h1.05v1.05h-1.05zM13 2h1.05v1.05h-1.05zM14 2h1.05v1.05h-1.05zM15 2h1.05v1.05h-1.05zM16 2h1.05v1.05h-1.05zM17 2h1.05v1.05h-1.05zM4 3h1.05v1.05h-1.05zM5 3h1.05v1.05h-1.05zM6 3h1.05v1.05h-1.05zM7 3h1.05v1.05h-1.05zM8 3h1.05v1.05h-1.05zM9 3h1.05v1.05h-1.05zM10 3h1.05v1.05h-1.05zM11 3h1.05v1.05h-1.05zM12 3h1.05v1.05h-1.05zM13 3h1.05v1.05h-1.05zM14 3h1.05v1.05h-1.05zM15 3h1.05v1.05h-1.05zM16 3h1.05v1.05h-1.05zM17 3h1.05v1.05h-1.05zM18 3h1.05v1.05h-1.05zM19 3h1.05v1.05h-1.05zM4 4h1.05v1.05h-1.05zM5 4h1.05v1.05h-1.05zM6 4h1.05v1.05h-1.05zM7 4h1.05v1.05h-1.05zM8 4h1.05v1.05h-1.05zM9 4h1.05v1.05h-1.05zM10 4h1.05v1.05h-1.05zM11 4h1.05v1.05h-1.05zM12 4h1.05v1.05h-1.05zM13 4h1.05v1.05h-1.05zM14 4h1.05v1.05h-1.05zM15 4h1.05v1.05h-1.05zM16 4h1.05v1.05h-1.05zM17 4h1.05v1.05h-1.05zM18 4h1.05v1.05h-1.05zM19 4h1.05v1.05h-1.05zM20 4h1.05v1.05h-1.05zM4 5h1.05v1.05h-1.05zM5 5h1.05v1.05h-1.05zM6 5h1.05v1.05h-1.05zM7 5h1.05v1.05h-1.05zM8 5h1.05v1.05h-1.05zM9 5h1.05v1.05h-1.05zM10 5h1.05v1.05h-1.05zM11 5h1.05v1.05h-1.05zM12 5h1.05v1.05h-1.05zM13 5h1.05v1.05h-1.05zM14 5h1.05v1.05h-1.05zM15 5h1.05v1.05h-1.05zM16 5h1.05v1.05h-1.05zM17 5h1.05v1.05h-1.05zM18 5h1.05v1.05h-1.05zM19 5h1.05v1.05h-1.05zM20 5h1.05v1.05h-1.05zM21 5h1.05v1.05h-1.05zM22 5h1.05v1.05h-1.05zM4 6h1.05v1.05h-1.05zM5 6h1.05v1.05h-1.05zM6 6h1.05v1.05h-1.05zM7 6h1.05v1.05h-1.05zM8 6h1.05v1.05h-1.05zM9 6h1.05v1.05h-1.05zM10 6h1.05v1.05h-1.05zM11 6h1.05v1.05h-1.05zM12 6h1.05v1.05h-1.05zM13 6h1.05v1.05h-1.05zM14 6h1.05v1.05h-1.05zM15 6h1.05v1.05h-1.05zM16 6h1.05v1.05h-1.05zM4 7h1.05v1.05h-1.05zM5 7h1.05v1.05h-1.05zM6 7h1.05v1.05h-1.05zM7 7h1.05v1.05h-1.05zM8 7h1.05v1.05h-1.05zM9 7h1.05v1.05h-1.05zM10 7h1.05v1.05h-1.05zM11 7h1.05v1.05h-1.05zM12 7h1.05v1.05h-1.05zM13 7h1.05v1.05h-1.05zM14 7h1.05v1.05h-1.05zM15 7h1.05v1.05h-1.05zM26 7h1.05v1.05h-1.05zM4 8h1.05v1.05h-1.05zM5 8h1.05v1.05h-1.05zM6 8h1.05v1.05h-1.05zM7 8h1.05v1.05h-1.05zM8 8h1.05v1.05h-1.05zM9 8h1.05v1.05h-1.05zM10 8h1.05v1.05h-1.05zM11 8h1.05v1.05h-1.05zM12 8h1.05v1.05h-1.05zM13 8h1.05v1.05h-1.05zM4 9h1.05v1.05h-1.05zM5 9h1.05v1.05h-1.05zM6 9h1.05v1.05h-1.05zM7 9h1.05v1.05h-1.05zM8 9h1.05v1.05h-1.05zM9 9h1.05v1.05h-1.05zM10 9h1.05v1.05h-1.05zM11 9h1.05v1.05h-1.05zM12 9h1.05v1.05h-1.05zM13 9h1.05v1.05h-1.05zM4 10h1.05v1.05h-1.05zM5 10h1.05v1.05h-1.05zM6 10h1.05v1.05h-1.05zM7 10h1.05v1.05h-1.05zM8 10h1.05v1.05h-1.05zM9 10h1.05v1.05h-1.05zM10 10h1.05v1.05h-1.05zM11 10h1.05v1.05h-1.05zM12 10h1.05v1.05h-1.05zM4 11h1.05v1.05h-1.05zM5 11h1.05v1.05h-1.05zM6 11h1.05v1.05h-1.05zM7 11h1.05v1.05h-1.05zM8 11h1.05v1.05h-1.05zM9 11h1.05v1.05h-1.05zM10 11h1.05v1.05h-1.05zM11 11h1.05v1.05h-1.05zM12 11h1.05v1.05h-1.05zM4 12h1.05v1.05h-1.05zM5 12h1.05v1.05h-1.05zM6 12h1.05v1.05h-1.05zM7 12h1.05v1.05h-1.05zM8 12h1.05v1.05h-1.05zM9 12h1.05v1.05h-1.05zM10 12h1.05v1.05h-1.05zM11 12h1.05v1.05h-1.05zM4 13h1.05v1.05h-1.05zM5 13h1.05v1.05h-1.05zM6 13h1.05v1.05h-1.05zM7 13h1.05v1.05h-1.05zM8 13h1.05v1.05h-1.05zM9 13h1.05v1.05h-1.05zM10 13h1.05v1.05h-1.05zM11 13h1.05v1.05h-1.05zM4 14h1.05v1.05h-1.05zM5 14h1.05v1.05h-1.05zM6 14h1.05v1.05h-1.05zM7 14h1.05v1.05h-1.05zM8 14h1.05v1.05h-1.05zM9 14h1.05v1.05h-1.05zM10 14h1.05v1.05h-1.05zM4 15h1.05v1.05h-1.05zM5 15h1.05v1.05h-1.05zM6 15h1.05v1.05h-1.05zM4 16h1.05v1.05h-1.05zM5 16h1.05v1.05h-1.05zM4 17h1.05v1.05h-1.05zM4 18h1.05v1.05h-1.05zM35 23h1.05v1.05h-1.05zM35 24h1.05v1.05h-1.05zM4 25h1.05v1.05h-1.05zM35 25h1.05v1.05h-1.05zM4 26h1.05v1.05h-1.05zM35 26h1.05v1.05h-1.05zM36 26h1.05v1.05h-1.05zM4 27h1.05v1.05h-1.05zM35 27h1.05v1.05h-1.05zM36 27h1.05v1.05h-1.05zM4 28h1.05v1.05h-1.05zM5 28h1.05v1.05h-1.05zM35 28h1.05v1.05h-1.05zM36 28h1.05v1.05h-1.05zM37 28h1.05v1.05h-1.05zM5 29h1.05v1.05h-1.05zM6 29h1.05v1.05h-1.05zM7 29h1.05v1.05h-1.05zM8 29h1.05v1.05h-1.05zM9 29h1.05v1.05h-1.05zM10 30h1.05v1.05h-1.05zM11 30h1.05v1.05h-1.05zM12 31h1.05v1.05h-1.05zM42 31h1.05v1.05h-1.05zM13 32h1.05v1.05h-1.05zM14 32h1.05v1.05h-1.05zM15 33h1.05v1.05h-1.05zM16 33h1.05v1.05h-1.05zM17 33h1.05v1.05h-1.05zM20 34h1.05v1.05h-1.05zM23 35h1.05v1.05h-1.05zM27 36h1.05v1.05h-1.05zM29 39h1.05v1.05h-1.05zM30 41h1.05v1.05h-1.05zM30 42h1.05v1.05h-1.05zM30 43h1.05v1.05h-1.05zM30 44h1.05v1.05h-1.05zM30 45h1.05v1.05h-1.05zM30 46h1.05v1.05h-1.05zM30 47h1.05v1.05h-1.05zM30 48h1.05v1.05h-1.05zM31 50h1.05v1.05h-1.05zM34 51h1.05v1.05h-1.05zM42 52h1.05v1.05h-1.05zM43 52h1.05v1.05h-1.05zM44 52h1.05v1.05h-1.05zM45 52h1.05v1.05h-1.05z"/>
<path fill="#f8f6f4" d="M18 0h1.05v1.05h-1.05zM18 1h1.05v1.05h-1.05zM19 2h1.05v1.05h-1.05zM20 3h1.05v1.05h-1.05zM23 5h1.05v1.05h-1.05zM27 7h1.05v1.05h-1.05zM36 25h1.05v1.05h-1.05zM37 27h1.05v1.05h-1.05zM7 32h1.05v1.05h-1.05zM8 32h1.05v1.05h-1.05zM9 32h1.05v1.05h-1.05zM10 32h1.05v1.05h-1.05zM11 32h1.05v1.05h-1.05zM6 33h1.05v1.05h-1.05zM7 33h1.05v1.05h-1.05zM8 33h1.05v1.05h-1.05zM9 33h1.05v1.05h-1.05zM10 33h1.05v1.05h-1.05zM11 33h1.05v1.05h-1.05zM12 33h1.05v1.05h-1.05zM5 34h1.05v1.05h-1.05zM6 34h1.05v1.05h-1.05zM7 34h1.05v1.05h-1.05zM12 34h1.05v1.05h-1.05zM13 34h1.05v1.05h-1.05zM14 34h1.05v1.05h-1.05zM4 35h1.05v1.05h-1.05zM5 35h1.05v1.05h-1.05zM6 35h1.05v1.05h-1.05zM15 35h1.05v1.05h-1.05zM16 35h1.05v1.05h-1.05zM17 35h1.05v1.05h-1.05zM18 35h1.05v1.05h-1.05zM19 35h1.05v1.05h-1.05zM20 35h1.05v1.05h-1.05zM4 36h1.05v1.05h-1.05zM5 36h1.05v1.05h-1.05zM23 36h1.05v1.05h-1.05zM24 36h1.05v1.05h-1.05zM4 37h1.05v1.05h-1.05zM5 37h1.05v1.05h-1.05zM26 37h1.05v1.05h-1.05zM4 38h1.05v1.05h-1.05zM27 38h1.05v1.05h-1.05zM28 38h1.05v1.05h-1.05zM4 39h1.05v1.05h-1.05zM28 39h1.05v1.05h-1.05zM3 40h1.05v1.05h-1.05zM4 40h1.05v1.05h-1.05zM3 41h1.05v1.05h-1.05zM4 41h1.05v1.05h-1.05zM29 41h1.05v1.05h-1.05zM3 42h1.05v1.05h-1.05zM4 42h1.05v1.05h-1.05zM29 42h1.05v1.05h-1.05zM3 43h1.05v1.05h-1.05zM4 43h1.05v1.05h-1.05zM29 43h1.05v1.05h-1.05zM3 44h1.05v1.05h-1.05zM4 44h1.05v1.05h-1.05zM29 44h1.05v1.05h-1.05zM3 45h1.05v1.05h-1.05zM4 45h1.05v1.05h-1.05zM29 45h1.05v1.05h-1.05zM3 46h1.05v1.05h-1.05zM4 46h1.05v1.05h-1.05zM29 46h1.05v1.05h-1.05zM3 47h1.05v1.05h-1.05zM4 47h1.05v1.05h-1.05zM29 47h1.05v1.05h-1.05zM3 48h1.05v1.05h-1.05zM4 48h1.05v1.05h-1.05zM29 48h1.05v1.05h-1.05zM3 49h1.05v1.05h-1.05zM4 49h1.05v1.05h-1.05zM29 49h1.05v1.05h-1.05zM3 50h1.05v1.05h-1.05zM4 50h1.05v1.05h-1.05zM4 51h1.05v1.05h-1.05zM33 51h1.05v1.05h-1.05zM4 52h1.05v1.05h-1.05zM40 52h1.05v1.05h-1.05zM4 53h1.05v1.05h-1.05zM5 53h1.05v1.05h-1.05zM4 54h1.05v1.05h-1.05zM5 54h1.05v1.05h-1.05zM4 55h1.05v1.05h-1.05zM5 55h1.05v1.05h-1.05zM4 56h1.05v1.05h-1.05zM5 56h1.05v1.05h-1.05zM5 57h1.05v1.05h-1.05zM5 58h1.05v1.05h-1.05zM5 59h1.05v1.05h-1.05zM5 60h1.05v1.05h-1.05zM5 61h1.05v1.05h-1.05zM5 62h1.05v1.05h-1.05zM5 63h1.05v1.05h-1.05zM6 63h1.05v1.05h-1.05zM5 64h1.05v1.05h-1.05zM6 64h1.05v1.05h-1.05zM5 65h1.05v1.05h-1.05zM6 65h1.05v1.05h-1.05zM5 66h1.05v1.05h-1.05zM5 67h1.05v1.05h-1.05zM4 68h1.05v1.05h-1.05zM5 68h1.05v1.05h-1.05zM4 69h1.05v1.05h-1.05zM5 69h1.05v1.05h-1.05zM4 70h1.05v1.05h-1.05zM5 70h1.05v1.05h-1.05zM4 71h1.05v1.05h-1.05zM5 71h1.05v1.05h-1.05zM4 72h1.05v1.05h-1.05zM5 72h1.05v1.05h-1.05zM4 73h1.05v1.05h-1.05zM5 73h1.05v1.05h-1.05zM4 74h1.05v1.05h-1.05zM5 74h1.05v1.05h-1.05zM4 75h1.05v1.05h-1.05zM5 75h1.05v1.05h-1.05zM4 76h1.05v1.05h-1.05zM5 76h1.05v1.05h-1.05zM4 77h1.05v1.05h-1.05zM5 77h1.05v1.05h-1.05zM4 78h1.05v1.05h-1.05zM5 78h1.05v1.05h-1.05zM4 79h1.05v1.05h-1.05zM5 79h1.05v1.05h-1.05zM4 80h1.05v1.05h-1.05zM5 80h1.05v1.05h-1.05zM4 81h1.05v1.05h-1.05zM5 81h1.05v1.05h-1.05zM4 82h1.05v1.05h-1.05zM5 82h1.05v1.05h-1.05zM4 83h1.05v1.05h-1.05zM5 83h1.05v1.05h-1.05zM4 84h1.05v1.05h-1.05zM5 84h1.05v1.05h-1.05zM4 85h1.05v1.05h-1.05zM5 85h1.05v1.05h-1.05zM4 86h1.05v1.05h-1.05zM5 86h1.05v1.05h-1.05zM4 87h1.05v1.05h-1.05zM5 87h1.05v1.05h-1.05zM4 88h1.05v1.05h-1.05zM5 88h1.05v1.05h-1.05zM4 89h1.05v1.05h-1.05zM5 89h1.05v1.05h-1.05zM4 90h1.05v1.05h-1.05zM5 90h1.05v1.05h-1.05zM4 91h1.05v1.05h-1.05zM5 91h1.05v1.05h-1.05zM4 92h1.05v1.05h-1.05zM5 92h1.05v1.05h-1.05zM4 93h1.05v1.05h-1.05zM5 93h1.05v1.05h-1.05z"/>
<path fill="#f8f4f2" d="M19 0h1.05v1.05h-1.05zM19 1h1.05v1.05h-1.05zM22 4h1.05v1.05h-1.05zM25 6h1.05v1.05h-1.05zM40 30h1.05v1.05h-1.05zM8 34h1.05v1.05h-1.05zM9 34h1.05v1.05h-1.05zM10 34h1.05v1.05h-1.05zM11 34h1.05v1.05h-1.05zM7 35h1.05v1.05h-1.05zM8 35h1.05v1.05h-1.05zM9 35h1.05v1.05h-1.05zM10 35h1.05v1.05h-1.05zM11 35h1.05v1.05h-1.05zM12 35h1.05v1.05h-1.05zM13 35h1.05v1.05h-1.05zM14 35h1.05v1.05h-1.05zM6 36h1.05v1.05h-1.05zM7 36h1.05v1.05h-1.05zM14 36h1.05v1.05h-1.05zM15 36h1.05v1.05h-1.05zM16 36h1.05v1.05h-1.05zM17 36h1.05v1.05h-1.05zM18 36h1.05v1.05h-1.05zM19 36h1.05v1.05h-1.05zM20 36h1.05v1.05h-1.05zM21 36h1.05v1.05h-1.05zM22 36h1.05v1.05h-1.05zM6 37h1.05v1.05h-1.05zM23 37h1.05v1.05h-1.05zM24 37h1.05v1.05h-1.05zM25 37h1.05v1.05h-1.05zM5 38h1.05v1.05h-1.05zM6 38h1.05v1.05h-1.05zM25 38h1.05v1.05h-1.05zM26 38h1.05v1.05h-1.05zM5 39h1.05v1.05h-1.05zM6 39h1.05v1.05h-1.05zM27 39h1.05v1.05h-1.05zM5 40h1.05v1.05h-1.05zM27 40h1.05v1.05h-1.05zM28 40h1.05v1.05h-1.05zM5 41h1.05v1.05h-1.05zM27 41h1.05v1.05h-1.05zM28 41h1.05v1.05h-1.05zM5 42h1.05v1.05h-1.05zM28 42h1.05v1.05h-1.05zM5 43h1.05v1.05h-1.05zM28 43h1.05v1.05h-1.05zM5 44h1.05v1.05h-1.05zM28 44h1.05v1.05h-1.05zM5 45h1.05v1.05h-1.05zM28 45h1.05v1.05h-1.05zM5 46h1.05v1.05h-1.05zM28 46h1.05v1.05h-1.05zM5 47h1.05v1.05h-1.05zM28 47h1.05v1.05h-1.05zM5 48h1.05v1.05h-1.05zM28 48h1.05v1.05h-1.05zM5 49h1.05v1.05h-1.05zM28 49h1.05v1.05h-1.05zM5 50h1.05v1.05h-1.05zM30 50h1.05v1.05h-1.05zM5 51h1.05v1.05h-1.05zM5 52h1.05v1.05h-1.05zM6 52h1.05v1.05h-1.05zM6 53h1.05v1.05h-1.05zM6 54h1.05v1.05h-1.05zM6 55h1.05v1.05h-1.05zM7 55h1.05v1.05h-1.05zM6 56h1.05v1.05h-1.05zM7 56h1.05v1.05h-1.05zM6 57h1.05v1.05h-1.05zM7 57h1.05v1.05h-1.05zM6 58h1.05v1.05h-1.05zM7 58h1.05v1.05h-1.05zM6 59h1.05v1.05h-1.05zM7 59h1.05v1.05h-1.05zM6 60h1.05v1.05h-1.05zM7 60h1.05v1.05h-1.05zM6 61h1.05v1.05h-1.05zM7 61h1.05v1.05h-1.05zM6 62h1.05v1.05h-1.05zM7 62h1.05v1.05h-1.05zM7 63h1.05v1.05h-1.05zM7 64h1.05v1.05h-1.05zM7 65h1.05v1.05h-1.05zM6 66h1.05v1.05h-1.05zM7 66h1.05v1.05h-1.05zM6 67h1.05v1.05h-1.05zM6 68h1.05v1.05h-1.05zM6 69h1.05v1.05h-1.05zM6 70h1.05v1.05h-1.05zM6 71h1.05v1.05h-1.05zM6 72h1.05v1.05h-1.05zM6 73h1.05v1.05h-1.05zM6 74h1.05v1.05h-1.05zM6 75h1.05v1.05h-1.05zM6 76h1.05v1.05h-1.05zM6 77h1.05v1.05h-1.05zM6 78h1.05v1.05h-1.05zM6 79h1.05v1.05h-1.05zM6 80h1.05v1.05h-1.05zM6 81h1.05v1.05h-1.05zM6 82h1.05v1.05h-1.05zM6 83h1.05v1.05h-1.05zM6 84h1.05v1.05h-1.05zM6 85h1.05v1.05h-1.05zM6 86h1.05v1.05h-1.05zM6 87h1.05v1.05h-1.05zM6 88h1.05v1.05h-1.05zM6 89h1.05v1.05h-1.05zM6 90h1.05v1.05h-1.05zM6 91h1.05v1.05h-1.05zM6 92h1.05v1.05h-1.05zM6 93h1.05v1.05h-1.05z"/>
<path fill="#f8f2ee" d="M20 0h1.05v1.05h-1.05zM20 1h1.05v1.05h-1.05zM26 6h1.05v1.05h-1.05zM19 39h1.05v1.05h-1.05zM20 39h1.05v1.05h-1.05zM21 39h1.05v1.05h-1.05zM22 39h1.05v1.05h-1.05zM16 40h1.05v1.05h-1.05zM17 40h1.05v1.05h-1.05zM18 40h1.05v1.05h-1.05zM19 40h1.05v1.05h-1.05zM20 40h1.05v1.05h-1.05zM21 40h1.05v1.05h-1.05zM22 40h1.05v1.05h-1.05zM23 40h1.05v1.05h-1.05zM14 41h1.05v1.05h-1.05zM15 41h1.05v1.05h-1.05zM16 41h1.05v1.05h-1.05zM17 41h1.05v1.05h-1.05zM18 41h1.05v1.05h-1.05zM19 41h1.05v1.05h-1.05zM20 41h1.05v1.05h-1.05zM22 41h1.05v1.05h-1.05zM23 41h1.05v1.05h-1.05zM13 42h1.05v1.05h-1.05zM14 42h1.05v1.05h-1.05zM15 42h1.05v1.05h-1.05zM16 42h1.05v1.05h-1.05zM17 42h1.05v1.05h-1.05zM18 42h1.05v1.05h-1.05zM19 42h1.05v1.05h-1.05zM20 42h1.05v1.05h-1.05zM22 42h1.05v1.05h-1.05zM23 42h1.05v1.05h-1.05zM13 43h1.05v1.05h-1.05zM14 43h1.05v1.05h-1.05zM15 43h1.05v1.05h-1.05zM16 43h1.05v1.05h-1.05zM17 43h1.05v1.05h-1.05zM18 43h1.05v1.05h-1.05zM19 43h1.05v1.05h-1.05zM23 43h1.05v1.05h-1.05zM13 44h1.05v1.05h-1.05zM14 44h1.05v1.05h-1.05zM15 44h1.05v1.05h-1.05zM16 44h1.05v1.05h-1.05zM17 44h1.05v1.05h-1.05zM18 44h1.05v1.05h-1.05zM19 44h1.05v1.05h-1.05zM23 44h1.05v1.05h-1.05zM13 45h1.05v1.05h-1.05zM14 45h1.05v1.05h-1.05zM15 45h1.05v1.05h-1.05zM16 45h1.05v1.05h-1.05zM17 45h1.05v1.05h-1.05zM18 45h1.05v1.05h-1.05zM19 45h1.05v1.05h-1.05zM23 45h1.05v1.05h-1.05zM24 45h1.05v1.05h-1.05zM13 46h1.05v1.05h-1.05zM14 46h1.05v1.05h-1.05zM15 46h1.05v1.05h-1.05zM16 46h1.05v1.05h-1.05zM17 46h1.05v1.05h-1.05zM18 46h1.05v1.05h-1.05zM19 46h1.05v1.05h-1.05zM23 46h1.05v1.05h-1.05zM24 46h1.05v1.05h-1.05zM13 47h1.05v1.05h-1.05zM14 47h1.05v1.05h-1.05zM15 47h1.05v1.05h-1.05zM16 47h1.05v1.05h-1.05zM17 47h1.05v1.05h-1.05zM18 47h1.05v1.05h-1.05zM23 47h1.05v1.05h-1.05zM24 47h1.05v1.05h-1.05zM13 48h1.05v1.05h-1.05zM14 48h1.05v1.05h-1.05zM15 48h1.05v1.05h-1.05zM16 48h1.05v1.05h-1.05zM17 48h1.05v1.05h-1.05zM18 48h1.05v1.05h-1.05zM23 48h1.05v1.05h-1.05zM24 48h1.05v1.05h-1.05zM13 49h1.05v1.05h-1.05zM14 49h1.05v1.05h-1.05zM15 49h1.05v1.05h-1.05zM16 49h1.05v1.05h-1.05zM17 49h1.05v1.05h-1.05zM18 49h1.05v1.05h-1.05zM23 49h1.05v1.05h-1.05zM24 49h1.05v1.05h-1.05zM12 50h1.05v1.05h-1.05zM13 50h1.05v1.05h-1.05zM14 50h1.05v1.05h-1.05zM15 50h1.05v1.05h-1.05zM16 50h1.05v1.05h-1.05zM17 50h1.05v1.05h-1.05zM18 50h1.05v1.05h-1.05zM24 50h1.05v1.05h-1.05zM25 50h1.05v1.05h-1.05zM26 50h1.05v1.05h-1.05zM12 51h1.05v1.05h-1.05zM13 51h1.05v1.05h-1.05zM14 51h1.05v1.05h-1.05zM15 51h1.05v1.05h-1.05zM16 51h1.05v1.05h-1.05zM11 52h1.05v1.05h-1.05zM12 52h1.05v1.05h-1.05zM13 52h1.05v1.05h-1.05zM14 52h1.05v1.05h-1.05zM35 52h1.05v1.05h-1.05zM38 52h1.05v1.05h-1.05zM11 53h1.05v1.05h-1.05zM12 53h1.05v1.05h-1.05zM13 53h1.05v1.05h-1.05zM44 53h1.05v1.05h-1.05zM45 53h1.05v1.05h-1.05zM46 53h1.05v1.05h-1.05zM47 53h1.05v1.05h-1.05zM10 54h1.05v1.05h-1.05zM11 54h1.05v1.05h-1.05zM12 54h1.05v1.05h-1.05zM10 55h1.05v1.05h-1.05zM11 55h1.05v1.05h-1.05zM10 56h1.05v1.05h-1.05zM11 56h1.05v1.05h-1.05zM10 57h1.05v1.05h-1.05zM11 57h1.05v1.05h-1.05zM10 58h1.05v1.05h-1.05zM11 58h1.05v1.05h-1.05zM10 59h1.05v1.05h-1.05zM10 60h1.05v1.05h-1.05zM10 61h1.05v1.05h-1.05zM10 62h1.05v1.05h-1.05zM10 63h1.05v1.05h-1.05zM10 64h1.05v1.05h-1.05zM10 65h1.05v1.05h-1.05zM9 66h1.05v1.05h-1.05zM9 67h1.05v1.05h-1.05zM9 68h1.05v1.05h-1.05zM9 69h1.05v1.05h-1.05zM9 70h1.05v1.05h-1.05zM9 71h1.05v1.05h-1.05zM9 72h1.05v1.05h-1.05zM9 73h1.05v1.05h-1.05zM9 74h1.05v1.05h-1.05zM9 75h1.05v1.05h-1.05zM9 76h1.05v1.05h-1.05zM9 77h1.05v1.05h-1.05zM9 78h1.05v1.05h-1.05zM9 79h1.05v1.05h-1.05zM9 80h1.05v1.05h-1.05zM9 81h1.05v1.05h-1.05zM9 82h1.05v1.05h-1.05zM9 83h1.05v1.05h-1.05zM9 84h1.05v1.05h-1.05zM9 85h1.05v1.05h-1.05zM9 86h1.05v1.05h-1.05zM9 87h1.05v1.05h-1.05zM9 88h1.05v1.05h-1.05zM9 89h1.05v1.05h-1.05zM9 90h1.05v1.05h-1.05zM9 91h1.05v1.05h-1.05zM9 92h1.05v1.05h-1.05zM9 93h1.05v1.05h-1.05z"/>
<path fill="#f8eee8" d="M21 0h1.05v1.05h-1.05zM21 1h1.05v1.05h-1.05zM25 5h1.05v1.05h-1.05zM27 6h1.05v1.05h-1.05zM29 7h1.05v1.05h-1.05zM49 31h1.05v1.05h-1.05zM50 31h1.05v1.05h-1.05zM51 31h1.05v1.05h-1.05zM52 31h1.05v1.05h-1.05zM53 31h1.05v1.05h-1.05zM24 51h1.05v1.05h-1.05zM25 51h1.05v1.05h-1.05zM26 51h1.05v1.05h-1.05zM27 51h1.05v1.05h-1.05zM28 51h1.05v1.05h-1.05zM21 52h1.05v1.05h-1.05zM22 52h1.05v1.05h-1.05zM20 53h1.05v1.05h-1.05zM19 54h1.05v1.05h-1.05zM51 54h1.05v1.05h-1.05zM52 54h1.05v1.05h-1.05zM53 54h1.05v1.05h-1.05zM17 55h1.05v1.05h-1.05zM18 55h1.05v1.05h-1.05zM19 55h1.05v1.05h-1.05zM17 56h1.05v1.05h-1.05zM18 56h1.05v1.05h-1.05zM17 57h1.05v1.05h-1.05zM18 57h1.05v1.05h-1.05zM16 58h1.05v1.05h-1.05zM17 58h1.05v1.05h-1.05zM18 58h1.05v1.05h-1.05zM16 59h1.05v1.05h-1.05zM17 59h1.05v1.05h-1.05zM16 60h1.05v1.05h-1.05zM17 60h1.05v1.05h-1.05zM15 61h1.05v1.05h-1.05zM16 61h1.05v1.05h-1.05zM17 61h1.05v1.05h-1.05zM15 62h1.05v1.05h-1.05zM16 62h1.05v1.05h-1.05zM15 63h1.05v1.05h-1.05zM16 63h1.05v1.05h-1.05zM14 64h1.05v1.05h-1.05zM15 64h1.05v1.05h-1.05zM14 65h1.05v1.05h-1.05zM15 65h1.05v1.05h-1.05zM14 66h1.05v1.05h-1.05zM15 66h1.05v1.05h-1.05zM14 67h1.05v1.05h-1.05zM15 67h1.05v1.05h-1.05zM14 68h1.05v1.05h-1.05zM13 69h1.05v1.05h-1.05zM14 69h1.05v1.05h-1.05zM13 70h1.05v1.05h-1.05zM14 70h1.05v1.05h-1.05zM13 71h1.05v1.05h-1.05zM14 71h1.05v1.05h-1.05zM13 72h1.05v1.05h-1.05zM14 72h1.05v1.05h-1.05zM13 73h1.05v1.05h-1.05zM14 73h1.05v1.05h-1.05zM13 74h1.05v1.05h-1.05zM14 74h1.05v1.05h-1.05zM13 75h1.05v1.05h-1.05zM14 75h1.05v1.05h-1.05zM13 76h1.05v1.05h-1.05zM14 76h1.05v1.05h-1.05zM13 77h1.05v1.05h-1.05zM14 77h1.05v1.05h-1.05zM13 78h1.05v1.05h-1.05zM14 78h1.05v1.05h-1.05zM13 79h1.05v1.05h-1.05zM14 79h1.05v1.05h-1.05zM13 80h1.05v1.05h-1.05zM14 80h1.05v1.05h-1.05zM13 81h1.05v1.05h-1.05zM14 81h1.05v1.05h-1.05zM13 82h1.05v1.05h-1.05zM14 82h1.05v1.05h-1.05zM13 83h1.05v1.05h-1.05zM14 83h1.05v1.05h-1.05zM13 84h1.05v1.05h-1.05zM14 84h1.05v1.05h-1.05zM13 85h1.05v1.05h-1.05zM14 85h1.05v1.05h-1.05zM13 86h1.05v1.05h-1.05zM14 86h1.05v1.05h-1.05zM13 87h1.05v1.05h-1.05zM14 87h1.05v1.05h-1.05zM13 88h1.05v1.05h-1.05zM14 88h1.05v1.05h-1.05zM13 89h1.05v1.05h-1.05zM14 89h1.05v1.05h-1.05zM13 90h1.05v1.05h-1.05zM14 90h1.05v1.05h-1.05zM13 91h1.05v1.05h-1.05zM14 91h1.05v1.05h-1.05zM13 92h1.05v1.05h-1.05zM14 92h1.05v1.05h-1.05zM13 93h1.05v1.05h-1.05zM14 93h1.05v1.05h-1.05z"/>
<path fill="#f8ece4" d="M22 0h1.05v1.05h-1.05zM22 1h1.05v1.05h-1.05zM23 3h1.05v1.05h-1.05zM24 4h1.05v1.05h-1.05zM35 22h1.05v1.05h-1.05zM31 52h1.05v1.05h-1.05zM22 53h1.05v1.05h-1.05zM21 54h1.05v1.05h-1.05zM45 54h1.05v1.05h-1.05zM46 54h1.05v1.05h-1.05zM47 54h1.05v1.05h-1.05zM20 55h1.05v1.05h-1.05zM20 56h1.05v1.05h-1.05zM20 57h1.05v1.05h-1.05zM20 58h1.05v1.05h-1.05zM19 61h1.05v1.05h-1.05zM19 62h1.05v1.05h-1.05zM18 64h1.05v1.05h-1.05zM18 65h1.05v1.05h-1.05zM18 66h1.05v1.05h-1.05zM17 67h1.05v1.05h-1.05zM18 67h1.05v1.05h-1.05zM17 68h1.05v1.05h-1.05zM18 68h1.05v1.05h-1.05zM17 69h1.05v1.05h-1.05zM18 69h1.05v1.05h-1.05zM17 70h1.05v1.05h-1.05zM18 70h1.05v1.05h-1.05zM17 71h1.05v1.05h-1.05zM17 72h1.05v1.05h-1.05zM17 73h1.05v1.05h-1.05zM17 74h1.05v1.05h-1.05zM17 75h1.05v1.05h-1.05zM17 76h1.05v1.05h-1.05zM17 77h1.05v1.05h-1.05zM17 78h1.05v1.05h-1.05zM17 79h1.05v1.05h-1.05zM17 80h1.05v1.05h-1.05zM17 81h1.05v1.05h-1.05zM17 82h1.05v1.05h-1.05zM17 83h1.05v1.05h-1.05zM17 84h1.05v1.05h-1.05zM17 85h1.05v1.05h-1.05zM17 86h1.05v1.05h-1.05zM17 87h1.05v1.05h-1.05zM17 88h1.05v1.05h-1.05zM17 89h1.05v1.05h-1.05zM17 90h1.05v1.05h-1.05zM17 91h1.05v1.05h-1.05zM17 92h1.05v1.05h-1.05zM17 93h1.05v1.05h-1.05z"/>
<path fill="#f8eae2" d="M23 0h1.05v1.05h-1.05zM23 1h1.05v1.05h-1.05zM23 2h1.05v1.05h-1.05zM26 5h1.05v1.05h-1.05zM25 52h1.05v1.05h-1.05zM30 52h1.05v1.05h-1.05zM23 53h1.05v1.05h-1.05zM42 54h1.05v1.05h-1.05zM22 55h1.05v1.05h-1.05zM49 55h1.05v1.05h-1.05zM50 55h1.05v1.05h-1.05zM51 55h1.05v1.05h-1.05zM52 55h1.05v1.05h-1.05zM53 55h1.05v1.05h-1.05zM21 56h1.05v1.05h-1.05zM21 57h1.05v1.05h-1.05zM21 58h1.05v1.05h-1.05zM21 59h1.05v1.05h-1.05zM20 62h1.05v1.05h-1.05zM20 63h1.05v1.05h-1.05zM19 66h1.05v1.05h-1.05zM19 67h1.05v1.05h-1.05zM19 68h1.05v1.05h-1.05zM19 69h1.05v1.05h-1.05z"/>
<path fill="#f8e8de" d="M24 0h1.05v1.05h-1.05zM24 1h1.05v1.05h-1.05zM24 2h1.05v1.05h-1.05zM25 4h1.05v1.05h-1.05zM30 7h1.05v1.05h-1.05zM31 9h1.05v1.05h-1.05zM32 13h1.05v1.05h-1.05zM33 16h1.05v1.05h-1.05zM39 28h1.05v1.05h-1.05zM27 52h1.05v1.05h-1.05zM28 52h1.05v1.05h-1.05zM24 53h1.05v1.05h-1.05zM33 53h1.05v1.05h-1.05zM34 53h1.05v1.05h-1.05zM35 53h1.05v1.05h-1.05zM23 54h1.05v1.05h-1.05zM44 55h1.05v1.05h-1.05zM45 55h1.05v1.05h-1.05zM46 55h1.05v1.05h-1.05zM49 56h1.05v1.05h-1.05zM50 56h1.05v1.05h-1.05zM51 56h1.05v1.05h-1.05zM51 57h1.05v1.05h-1.05zM52 57h1.05v1.05h-1.05zM53 57h1.05v1.05h-1.05zM22 58h1.05v1.05h-1.05zM22 59h1.05v1.05h-1.05zM21 62h1.05v1.05h-1.05zM21 63h1.05v1.05h-1.05zM20 66h1.05v1.05h-1.05zM20 67h1.05v1.05h-1.05zM20 68h1.05v1.05h-1.05z"/>
<path fill="#f8e4d8" d="M25 0h1.05v1.05h-1.05zM25 1h1.05v1.05h-1.05zM25 2h1.05v1.05h-1.05zM25 3h1.05v1.05h-1.05zM26 4h1.05v1.05h-1.05zM27 5h1.05v1.05h-1.05zM29 6h1.05v1.05h-1.05zM41 29h1.05v1.05h-1.05zM44 30h1.05v1.05h-1.05zM45 30h1.05v1.05h-1.05zM46 30h1.05v1.05h-1.05zM47 30h1.05v1.05h-1.05zM48 30h1.05v1.05h-1.05zM49 30h1.05v1.05h-1.05zM50 30h1.05v1.05h-1.05zM51 30h1.05v1.05h-1.05zM52 30h1.05v1.05h-1.05zM53 30h1.05v1.05h-1.05zM25 53h1.05v1.05h-1.05zM31 53h1.05v1.05h-1.05zM37 53h1.05v1.05h-1.05zM24 54h1.05v1.05h-1.05zM39 54h1.05v1.05h-1.05zM41 55h1.05v1.05h-1.05zM23 56h1.05v1.05h-1.05zM42 56h1.05v1.05h-1.05zM43 56h1.05v1.05h-1.05zM44 56h1.05v1.05h-1.05zM23 57h1.05v1.05h-1.05zM43 57h1.05v1.05h-1.05zM44 57h1.05v1.05h-1.05zM45 57h1.05v1.05h-1.05zM23 58h1.05v1.05h-1.05zM44 58h1.05v1.05h-1.05zM45 58h1.05v1.05h-1.05zM46 58h1.05v1.05h-1.05zM47 58h1.05v1.05h-1.05zM23 59h1.05v1.05h-1.05zM46 59h1.05v1.05h-1.05zM47 59h1.05v1.05h-1.05zM48 59h1.05v1.05h-1.05zM49 59h1.05v1.05h-1.05zM48 60h1.05v1.05h-1.05zM49 60h1.05v1.05h-1.05zM50 60h1.05v1.05h-1.05zM51 60h1.05v1.05h-1.05zM50 61h1.05v1.05h-1.05zM51 61h1.05v1.05h-1.05zM52 61h1.05v1.05h-1.05zM53 61h1.05v1.05h-1.05zM22 62h1.05v1.05h-1.05zM51 62h1.05v1.05h-1.05zM52 62h1.05v1.05h-1.05zM53 62h1.05v1.05h-1.05zM22 63h1.05v1.05h-1.05zM21 69h1.05v1.05h-1.05zM21 70h1.05v1.05h-1.05zM21 71h1.05v1.05h-1.05z"/>
<path fill="#f8e2d6" d="M26 0h1.05v1.05h-1.05zM26 1h1.05v1.05h-1.05zM26 2h1.05v1.05h-1.05zM26 3h1.05v1.05h-1.05zM51 29h1.05v1.05h-1.05zM52 29h1.05v1.05h-1.05zM53 29h1.05v1.05h-1.05zM26 53h1.05v1.05h-1.05zM30 53h1.05v1.05h-1.05zM42 57h1.05v1.05h-1.05zM43 58h1.05v1.05h-1.05zM43 59h1.05v1.05h-1.05zM44 59h1.05v1.05h-1.05zM45 59h1.05v1.05h-1.05zM23 60h1.05v1.05h-1.05zM46 60h1.05v1.05h-1.05zM47 60h1.05v1.05h-1.05zM48 61h1.05v1.05h-1.05zM49 61h1.05v1.05h-1.05zM50 62h1.05v1.05h-1.05zM51 63h1.05v1.05h-1.05zM52 63h1.05v1.05h-1.05zM53 63h1.05v1.05h-1.05zM22 64h1.05v1.05h-1.05zM21 72h1.05v1.05h-1.05zM21 73h1.05v1.05h-1.05zM21 74h1.05v1.05h-1.05zM21 75h1.05v1.05h-1.05z"/>
<path fill="#f8e0d0" d="M27 0h1.05v1.05h-1.05zM43 0h1.05v1.05h-1.05zM44 0h1.05v1.05h-1.05zM45 0h1.05v1.05h-1.05zM46 0h1.05v1.05h-1.05zM27 1h1.05v1.05h-1.05zM43 1h1.05v1.05h-1.05zM44 1h1.05v1.05h-1.05zM45 1h1.05v1.05h-1.05zM46 1h1.05v1.05h-1.05zM27 2h1.05v1.05h-1.05zM43 2h1.05v1.05h-1.05zM44 2h1.05v1.05h-1.05zM45 2h1.05v1.05h-1.05zM46 2h1.05v1.05h-1.05zM27 3h1.05v1.05h-1.05zM43 3h1.05v1.05h-1.05zM44 3h1.05v1.05h-1.05zM45 3h1.05v1.05h-1.05zM46 3h1.05v1.05h-1.05zM43 4h1.05v1.05h-1.05zM44 4h1.05v1.05h-1.05zM45 4h1.05v1.05h-1.05zM46 4h1.05v1.05h-1.05zM43 5h1.05v1.05h-1.05zM44 5h1.05v1.05h-1.05zM45 5h1.05v1.05h-1.05zM46 5h1.05v1.05h-1.05zM43 6h1.05v1.05h-1.05zM44 6h1.05v1.05h-1.05zM45 6h1.05v1.05h-1.05zM46 6h1.05v1.05h-1.05zM43 7h1.05v1.05h-1.05zM44 7h1.05v1.05h-1.05zM45 7h1.05v1.05h-1.05zM46 7h1.05v1.05h-1.05zM43 8h1.05v1.05h-1.05zM44 8h1.05v1.05h-1.05zM45 8h1.05v1.05h-1.05zM46 8h1.05v1.05h-1.05zM43 9h1.05v1.05h-1.05zM44 9h1.05v1.05h-1.05zM45 9h1.05v1.05h-1.05zM46 9h1.05v1.05h-1.05zM43 10h1.05v1.05h-1.05zM44 10h1.05v1.05h-1.05zM45 10h1.05v1.05h-1.05zM46 10h1.05v1.05h-1.05zM43 11h1.05v1.05h-1.05zM44 11h1.05v1.05h-1.05zM45 11h1.05v1.05h-1.05zM46 11h1.05v1.05h-1.05zM43 12h1.05v1.05h-1.05zM44 12h1.05v1.05h-1.05zM45 12h1.05v1.05h-1.05zM46 12h1.05v1.05h-1.05zM43 13h1.05v1.05h-1.05zM44 13h1.05v1.05h-1.05zM45 13h1.05v1.05h-1.05zM46 13h1.05v1.05h-1.05zM43 14h1.05v1.05h-1.05zM44 14h1.05v1.05h-1.05zM45 14h1.05v1.05h-1.05zM46 14h1.05v1.05h-1.05zM43 15h1.05v1.05h-1.05zM44 15h1.05v1.05h-1.05zM45 15h1.05v1.05h-1.05zM46 15h1.05v1.05h-1.05zM43 16h1.05v1.05h-1.05zM44 16h1.05v1.05h-1.05zM45 16h1.05v1.05h-1.05zM46 16h1.05v1.05h-1.05zM43 17h1.05v1.05h-1.05zM44 17h1.05v1.05h-1.05zM45 17h1.05v1.05h-1.05zM46 17h1.05v1.05h-1.05zM43 18h1.05v1.05h-1.05zM44 18h1.05v1.05h-1.05zM45 18h1.05v1.05h-1.05zM46 18h1.05v1.05h-1.05zM43 19h1.05v1.05h-1.05zM44 19h1.05v1.05h-1.05zM45 19h1.05v1.05h-1.05zM46 19h1.05v1.05h-1.05zM43 20h1.05v1.05h-1.05zM44 20h1.05v1.05h-1.05zM45 20h1.05v1.05h-1.05zM46 20h1.05v1.05h-1.05zM43 21h1.05v1.05h-1.05zM44 21h1.05v1.05h-1.05zM45 21h1.05v1.05h-1.05zM46 21h1.05v1.05h-1.05zM43 22h1.05v1.05h-1.05zM44 22h1.05v1.05h-1.05zM45 22h1.05v1.05h-1.05zM46 22h1.05v1.05h-1.05zM43 23h1.05v1.05h-1.05zM44 23h1.05v1.05h-1.05zM45 23h1.05v1.05h-1.05zM46 23h1.05v1.05h-1.05zM43 24h1.05v1.05h-1.05zM44 24h1.05v1.05h-1.05zM45 24h1.05v1.05h-1.05zM46 24h1.05v1.05h-1.05zM43 25h1.05v1.05h-1.05zM44 25h1.05v1.05h-1.05zM45 25h1.05v1.05h-1.05zM46 25h1.05v1.05h-1.05zM43 26h1.05v1.05h-1.05zM44 26h1.05v1.05h-1.05zM45 26h1.05v1.05h-1.05zM46 26h1.05v1.05h-1.05zM43 27h1.05v1.05h-1.05zM44 27h1.05v1.05h-1.05zM45 27h1.05v1.05h-1.05zM40 28h1.05v1.05h-1.05zM43 28h1.05v1.05h-1.05zM44 28h1.05v1.05h-1.05zM45 28h1.05v1.05h-1.05zM35 54h1.05v1.05h-1.05zM24 56h1.05v1.05h-1.05zM40 56h1.05v1.05h-1.05zM24 57h1.05v1.05h-1.05zM41 59h1.05v1.05h-1.05zM42 60h1.05v1.05h-1.05zM43 61h1.05v1.05h-1.05zM23 62h1.05v1.05h-1.05zM44 62h1.05v1.05h-1.05zM45 62h1.05v1.05h-1.05zM46 63h1.05v1.05h-1.05zM47 63h1.05v1.05h-1.05zM48 64h1.05v1.05h-1.05zM49 65h1.05v1.05h-1.05zM50 66h1.05v1.05h-1.05zM22 67h1.05v1.05h-1.05zM50 67h1.05v1.05h-1.05zM51 67h1.05v1.05h-1.05zM22 68h1.05v1.05h-1.05zM50 68h1.05v1.05h-1.05zM51 68h1.05v1.05h-1.05zM50 69h1.05v1.05h-1.05zM50 70h1.05v1.05h-1.05zM50 71h1.05v1.05h-1.05zM50 72h1.05v1.05h-1.05zM50 73h1.05v1.05h-1.05zM49 74h1.05v1.05h-1.05zM50 74h1.05v1.05h-1.05zM49 75h1.05v1.05h-1.05zM50 75h1.05v1.05h-1.05zM49 76h1.05v1.05h-1.05zM50 76h1.05v1.05h-1.05zM49 77h1.05v1.05h-1.05zM50 77h1.05v1.05h-1.05zM49 78h1.05v1.05h-1.05zM50 78h1.05v1.05h-1.05zM49 79h1.05v1.05h-1.05zM50 79h1.05v1.05h-1.05zM49 80h1.05v1.05h-1.05zM50 80h1.05v1.05h-1.05zM49 81h1.05v1.05h-1.05zM50 81h1.05v1.05h-1.05zM49 82h1.05v1.05h-1.05zM50 82h1.05v1.05h-1.05zM49 83h1.05v1.05h-1.05zM50 83h1.05v1.05h-1.05zM49 84h1.05v1.05h-1.05zM50 84h1.05v1.05h-1.05zM49 85h1.05v1.05h-1.05zM50 85h1.05v1.05h-1.05zM49 86h1.05v1.05h-1.05zM50 86h1.05v1.05h-1.05zM49 87h1.05v1.05h-1.05zM50 87h1.05v1.05h-1.05zM49 88h1.05v1.05h-1.05zM50 88h1.05v1.05h-1.05zM49 89h1.05v1.05h-1.05zM50 89h1.05v1.05h-1.05zM49 90h1.05v1.05h-1.05zM50 90h1.05v1.05h-1.05zM49 91h1.05v1.05h-1.05zM50 91h1.05v1.05h-1.05zM49 92h1.05v1.05h-1.05zM50 92h1.05v1.05h-1.05zM49 93h1.05v1.05h-1.05zM50 93h1.05v1.05h-1.05z"/>
<path fill="#f8dece" d="M28 0h1.05v1.05h-1.05zM42 0h1.05v1.05h-1.05zM28 1h1.05v1.05h-1.05zM42 1h1.05v1.05h-1.05zM28 2h1.05v1.05h-1.05zM42 2h1.05v1.05h-1.05zM28 3h1.05v1.05h-1.05zM42 3h1.05v1.05h-1.05zM28 4h1.05v1.05h-1.05zM42 4h1.05v1.05h-1.05zM42 5h1.05v1.05h-1.05zM42 6h1.05v1.05h-1.05zM42 7h1.05v1.05h-1.05zM42 8h1.05v1.05h-1.05zM42 9h1.05v1.05h-1.05zM42 10h1.05v1.05h-1.05zM42 11h1.05v1.05h-1.05zM42 12h1.05v1.05h-1.05zM42 13h1.05v1.05h-1.05zM42 14h1.05v1.05h-1.05zM42 15h1.05v1.05h-1.05zM42 16h1.05v1.05h-1.05zM42 17h1.05v1.05h-1.05zM42 18h1.05v1.05h-1.05zM42 19h1.05v1.05h-1.05zM42 20h1.05v1.05h-1.05zM42 21h1.05v1.05h-1.05zM42 22h1.05v1.05h-1.05zM42 23h1.05v1.05h-1.05zM42 24h1.05v1.05h-1.05zM42 25h1.05v1.05h-1.05zM42 26h1.05v1.05h-1.05zM39 27h1.05v1.05h-1.05zM42 27h1.05v1.05h-1.05zM41 28h1.05v1.05h-1.05zM42 28h1.05v1.05h-1.05zM31 54h1.05v1.05h-1.05zM38 54h1.05v1.05h-1.05zM39 55h1.05v1.05h-1.05zM40 57h1.05v1.05h-1.05zM24 58h1.05v1.05h-1.05zM41 60h1.05v1.05h-1.05zM42 61h1.05v1.05h-1.05zM43 62h1.05v1.05h-1.05zM23 63h1.05v1.05h-1.05zM44 63h1.05v1.05h-1.05zM45 63h1.05v1.05h-1.05zM46 64h1.05v1.05h-1.05zM47 64h1.05v1.05h-1.05zM47 65h1.05v1.05h-1.05zM48 65h1.05v1.05h-1.05zM48 66h1.05v1.05h-1.05zM49 66h1.05v1.05h-1.05zM48 67h1.05v1.05h-1.05zM49 67h1.05v1.05h-1.05zM48 68h1.05v1.05h-1.05zM49 68h1.05v1.05h-1.05zM22 69h1.05v1.05h-1.05zM48 69h1.05v1.05h-1.05zM49 69h1.05v1.05h-1.05zM48 70h1.05v1.05h-1.05zM49 70h1.05v1.05h-1.05zM48 71h1.05v1.05h-1.05zM49 71h1.05v1.05h-1.05zM48 72h1.05v1.05h-1.05zM49 72h1.05v1.05h-1.05zM48 73h1.05v1.05h-1.05zM49 73h1.05v1.05h-1.05zM48 74h1.05v1.05h-1.05zM48 75h1.05v1.05h-1.05zM48 76h1.05v1.05h-1.05zM48 77h1.05v1.05h-1.05zM48 78h1.05v1.05h-1.05zM48 79h1.05v1.05h-1.05zM48 80h1.05v1.05h-1.05zM48 81h1.05v1.05h-1.05zM48 82h1.05v1.05h-1.05zM48 83h1.05v1.05h-1.05zM48 84h1.05v1.05h-1.05zM48 85h1.05v1.05h-1.05zM48 86h1.05v1.05h-1.05zM48 87h1.05v1.05h-1.05zM48 88h1.05v1.05h-1.05zM48 89h1.05v1.05h-1.05zM48 90h1.05v1.05h-1.05zM48 91h1.05v1.05h-1.05zM48 92h1.05v1.05h-1.05zM48 93h1.05v1.05h-1.05z"/>
<path fill="#fadecc" d="M29 0h1.05v1.05h-1.05zM41 0h1.05v1.05h-1.05zM29 1h1.05v1.05h-1.05zM41 1h1.05v1.05h-1.05zM29 2h1.05v1.05h-1.05zM41 2h1.05v1.05h-1.05zM29 3h1.05v1.05h-1.05zM41 3h1.05v1.05h-1.05zM29 4h1.05v1.05h-1.05zM41 4h1.05v1.05h-1.05zM29 5h1.05v1.05h-1.05zM41 5h1.05v1.05h-1.05zM30 6h1.05v1.05h-1.05zM41 6h1.05v1.05h-1.05zM41 7h1.05v1.05h-1.05zM41 8h1.05v1.05h-1.05zM41 9h1.05v1.05h-1.05zM41 10h1.05v1.05h-1.05zM41 11h1.05v1.05h-1.05zM41 12h1.05v1.05h-1.05zM41 13h1.05v1.05h-1.05zM41 14h1.05v1.05h-1.05zM41 15h1.05v1.05h-1.05zM41 16h1.05v1.05h-1.05zM41 17h1.05v1.05h-1.05zM41 18h1.05v1.05h-1.05zM41 19h1.05v1.05h-1.05zM41 20h1.05v1.05h-1.05zM41 21h1.05v1.05h-1.05zM41 22h1.05v1.05h-1.05zM41 23h1.05v1.05h-1.05zM41 24h1.05v1.05h-1.05zM37 25h1.05v1.05h-1.05zM41 25h1.05v1.05h-1.05zM41 26h1.05v1.05h-1.05zM41 27h1.05v1.05h-1.05zM26 54h1.05v1.05h-1.05zM33 55h1.05v1.05h-1.05zM40 58h1.05v1.05h-1.05zM24 59h1.05v1.05h-1.05zM42 62h1.05v1.05h-1.05zM43 63h1.05v1.05h-1.05zM44 64h1.05v1.05h-1.05zM45 64h1.05v1.05h-1.05zM46 65h1.05v1.05h-1.05zM46 66h1.05v1.05h-1.05zM47 66h1.05v1.05h-1.05zM47 67h1.05v1.05h-1.05zM47 68h1.05v1.05h-1.05zM47 69h1.05v1.05h-1.05zM22 70h1.05v1.05h-1.05zM47 70h1.05v1.05h-1.05zM22 71h1.05v1.05h-1.05zM47 71h1.05v1.05h-1.05zM46 72h1.05v1.05h-1.05zM47 72h1.05v1.05h-1.05zM46 73h1.05v1.05h-1.05zM47 73h1.05v1.05h-1.05zM46 74h1.05v1.05h-1.05zM47 74h1.05v1.05h-1.05zM46 75h1.05v1.05h-1.05zM47 75h1.05v1.05h-1.05zM46 76h1.05v1.05h-1.05zM47 76h1.05v1.05h-1.05zM46 77h1.05v1.05h-1.05zM47 77h1.05v1.05h-1.05zM46 78h1.05v1.05h-1.05zM47 78h1.05v1.05h-1.05zM46 79h1.05v1.05h-1.05zM47 79h1.05v1.05h-1.05zM46 80h1.05v1.05h-1.05zM47 80h1.05v1.05h-1.05zM46 81h1.05v1.05h-1.05zM47 81h1.05v1.05h-1.05zM46 82h1.05v1.05h-1.05zM47 82h1.05v1.05h-1.05zM46 83h1.05v1.05h-1.05zM47 83h1.05v1.05h-1.05zM46 84h1.05v1.05h-1.05zM47 84h1.05v1.05h-1.05zM46 85h1.05v1.05h-1.05zM47 85h1.05v1.05h-1.05zM46 86h1.05v1.05h-1.05zM47 86h1.05v1.05h-1.05zM46 87h1.05v1.05h-1.05zM47 87h1.05v1.05h-1.05zM46 88h1.05v1.05h-1.05zM47 88h1.05v1.05h-1.05zM46 89h1.05v1.05h-1.05zM47 89h1.05v1.05h-1.05zM46 90h1.05v1.05h-1.05zM47 90h1.05v1.05h-1.05zM46 91h1.05v1.05h-1.05zM47 91h1.05v1.05h-1.05zM46 92h1.05v1.05h-1.05zM47 92h1.05v1.05h-1.05zM46 93h1.05v1.05h-1.05zM47 93h1.05v1.05h-1.05z"/>
<path fill="#f8d8c6" d="M30 0h1.05v1.05h-1.05zM39 0h1.05v1.05h-1.05zM30 1h1.05v1.05h-1.05zM39 1h1.05v1.05h-1.05zM30 2h1.05v1.05h-1.05zM39 2h1.05v1.05h-1.05zM30 3h1.05v1.05h-1.05zM39 3h1.05v1.05h-1.05zM30 4h1.05v1.05h-1.05zM39 4h1.05v1.05h-1.05zM30 5h1.05v1.05h-1.05zM39 5h1.05v1.05h-1.05zM39 6h1.05v1.05h-1.05zM39 7h1.05v1.05h-1.05zM39 8h1.05v1.05h-1.05zM39 9h1.05v1.05h-1.05zM39 10h1.05v1.05h-1.05zM39 11h1.05v1.05h-1.05zM39 12h1.05v1.05h-1.05zM39 13h1.05v1.05h-1.05zM39 14h1.05v1.05h-1.05zM39 15h1.05v1.05h-1.05zM39 16h1.05v1.05h-1.05zM39 17h1.05v1.05h-1.05zM39 18h1.05v1.05h-1.05zM39 19h1.05v1.05h-1.05zM39 20h1.05v1.05h-1.05zM39 21h1.05v1.05h-1.05zM39 22h1.05v1.05h-1.05zM39 23h1.05v1.05h-1.05zM39 24h1.05v1.05h-1.05zM39 25h1.05v1.05h-1.05zM39 26h1.05v1.05h-1.05zM25 56h1.05v1.05h-1.05zM33 56h1.05v1.05h-1.05zM39 57h1.05v1.05h-1.05zM40 60h1.05v1.05h-1.05zM24 61h1.05v1.05h-1.05zM41 63h1.05v1.05h-1.05zM42 65h1.05v1.05h-1.05zM42 66h1.05v1.05h-1.05zM42 67h1.05v1.05h-1.05zM43 67h1.05v1.05h-1.05zM42 68h1.05v1.05h-1.05zM43 68h1.05v1.05h-1.05zM42 69h1.05v1.05h-1.05zM43 69h1.05v1.05h-1.05zM42 70h1.05v1.05h-1.05zM42 71h1.05v1.05h-1.05zM42 72h1.05v1.05h-1.05zM42 73h1.05v1.05h-1.05zM42 74h1.05v1.05h-1.05zM42 75h1.05v1.05h-1.05zM42 76h1.05v1.05h-1.05zM42 77h1.05v1.05h-1.05zM42 78h1.05v1.05h-1.05zM42 79h1.05v1.05h-1.05zM42 80h1.05v1.05h-1.05zM42 81h1.05v1.05h-1.05zM42 82h1.05v1.05h-1.05zM42 83h1.05v1.05h-1.05zM42 84h1.05v1.05h-1.05zM42 85h1.05v1.05h-1.05zM42 86h1.05v1.05h-1.05zM42 87h1.05v1.05h-1.05zM42 88h1.05v1.05h-1.05zM42 89h1.05v1.05h-1.05zM42 90h1.05v1.05h-1.05zM42 91h1.05v1.05h-1.05zM42 92h1.05v1.05h-1.05zM42 93h1.05v1.05h-1.05z"/>
<path fill="#f6d2be" d="M31 0h1.05v1.05h-1.05zM38 0h1.05v1.05h-1.05zM31 1h1.05v1.05h-1.05zM38 1h1.05v1.05h-1.05zM31 2h1.05v1.05h-1.05zM38 2h1.05v1.05h-1.05zM31 3h1.05v1.05h-1.05zM38 3h1.05v1.05h-1.05zM31 4h1.05v1.05h-1.05zM38 4h1.05v1.05h-1.05zM31 5h1.05v1.05h-1.05zM38 5h1.05v1.05h-1.05zM31 6h1.05v1.05h-1.05zM38 6h1.05v1.05h-1.05zM31 7h1.05v1.05h-1.05zM38 7h1.05v1.05h-1.05zM38 8h1.05v1.05h-1.05zM38 9h1.05v1.05h-1.05zM38 10h1.05v1.05h-1.05zM38 11h1.05v1.05h-1.05zM38 12h1.05v1.05h-1.05zM38 13h1.05v1.05h-1.05zM38 14h1.05v1.05h-1.05zM38 15h1.05v1.05h-1.05zM38 16h1.05v1.05h-1.05zM38 17h1.05v1.05h-1.05zM38 18h1.05v1.05h-1.05zM38 19h1.05v1.05h-1.05zM38 20h1.05v1.05h-1.05zM38 21h1.05v1.05h-1.05zM38 22h1.05v1.05h-1.05zM38 23h1.05v1.05h-1.05zM38 24h1.05v1.05h-1.05zM38 25h1.05v1.05h-1.05zM27 55h1.05v1.05h-1.05zM32 57h1.05v1.05h-1.05zM34 57h1.05v1.05h-1.05zM25 59h1.05v1.05h-1.05zM33 59h1.05v1.05h-1.05zM39 60h1.05v1.05h-1.05zM40 63h1.05v1.05h-1.05zM41 67h1.05v1.05h-1.05zM23 68h1.05v1.05h-1.05zM40 75h1.05v1.05h-1.05zM40 76h1.05v1.05h-1.05zM40 77h1.05v1.05h-1.05zM40 78h1.05v1.05h-1.05zM40 79h1.05v1.05h-1.05zM40 80h1.05v1.05h-1.05zM40 81h1.05v1.05h-1.05zM40 82h1.05v1.05h-1.05zM40 83h1.05v1.05h-1.05zM40 84h1.05v1.05h-1.05zM40 85h1.05v1.05h-1.05zM40 86h1.05v1.05h-1.05zM40 87h1.05v1.05h-1.05zM40 88h1.05v1.05h-1.05zM40 89h1.05v1.05h-1.05zM40 90h1.05v1.05h-1.05zM40 91h1.05v1.05h-1.05zM40 92h1.05v1.05h-1.05zM40 93h1.05v1.05h-1.05z"/>
<path fill="#f4cab4" d="M32 0h1.05v1.05h-1.05zM32 1h1.05v1.05h-1.05zM32 2h1.05v1.05h-1.05zM32 3h1.05v1.05h-1.05zM32 4h1.05v1.05h-1.05zM32 5h1.05v1.05h-1.05zM32 6h1.05v1.05h-1.05zM32 7h1.05v1.05h-1.05zM32 8h1.05v1.05h-1.05zM32 9h1.05v1.05h-1.05zM32 10h1.05v1.05h-1.05zM32 11h1.05v1.05h-1.05zM37 24h1.05v1.05h-1.05zM29 56h1.05v1.05h-1.05zM30 56h1.05v1.05h-1.05zM27 57h1.05v1.05h-1.05zM38 57h1.05v1.05h-1.05zM35 58h1.05v1.05h-1.05zM32 60h1.05v1.05h-1.05zM34 60h1.05v1.05h-1.05zM25 61h1.05v1.05h-1.05zM33 61h1.05v1.05h-1.05zM23 73h1.05v1.05h-1.05zM39 73h1.05v1.05h-1.05zM23 74h1.05v1.05h-1.05zM39 74h1.05v1.05h-1.05zM39 75h1.05v1.05h-1.05zM39 76h1.05v1.05h-1.05zM39 77h1.05v1.05h-1.05zM39 78h1.05v1.05h-1.05zM39 79h1.05v1.05h-1.05zM39 80h1.05v1.05h-1.05zM39 81h1.05v1.05h-1.05zM39 82h1.05v1.05h-1.05zM39 83h1.05v1.05h-1.05zM39 84h1.05v1.05h-1.05zM39 85h1.05v1.05h-1.05zM39 86h1.05v1.05h-1.05zM39 87h1.05v1.05h-1.05zM39 88h1.05v1.05h-1.05zM39 89h1.05v1.05h-1.05zM39 90h1.05v1.05h-1.05zM39 91h1.05v1.05h-1.05zM39 92h1.05v1.05h-1.05zM39 93h1.05v1.05h-1.05z"/>
<path fill="#f2c2aa" d="M33 0h1.05v1.05h-1.05zM33 1h1.05v1.05h-1.05zM33 2h1.05v1.05h-1.05zM33 3h1.05v1.05h-1.05zM33 4h1.05v1.05h-1.05zM33 5h1.05v1.05h-1.05zM33 6h1.05v1.05h-1.05zM33 7h1.05v1.05h-1.05zM33 8h1.05v1.05h-1.05zM33 9h1.05v1.05h-1.05zM33 10h1.05v1.05h-1.05zM33 11h1.05v1.05h-1.05zM33 12h1.05v1.05h-1.05zM33 13h1.05v1.05h-1.05zM33 14h1.05v1.05h-1.05zM37 57h1.05v1.05h-1.05zM29 59h1.05v1.05h-1.05zM30 59h1.05v1.05h-1.05zM38 60h1.05v1.05h-1.05zM31 61h1.05v1.05h-1.05zM32 62h1.05v1.05h-1.05zM25 63h1.05v1.05h-1.05zM33 63h1.05v1.05h-1.05zM24 67h1.05v1.05h-1.05zM24 68h1.05v1.05h-1.05z"/>
<path fill="#f0b89e" d="M34 0h1.05v1.05h-1.05zM34 1h1.05v1.05h-1.05zM34 2h1.05v1.05h-1.05zM34 3h1.05v1.05h-1.05zM34 4h1.05v1.05h-1.05zM34 5h1.05v1.05h-1.05zM34 6h1.05v1.05h-1.05zM34 7h1.05v1.05h-1.05zM34 8h1.05v1.05h-1.05zM34 9h1.05v1.05h-1.05zM34 10h1.05v1.05h-1.05zM34 11h1.05v1.05h-1.05zM34 12h1.05v1.05h-1.05zM34 13h1.05v1.05h-1.05zM34 14h1.05v1.05h-1.05zM34 15h1.05v1.05h-1.05zM34 16h1.05v1.05h-1.05zM35 20h1.05v1.05h-1.05zM36 60h1.05v1.05h-1.05zM37 60h1.05v1.05h-1.05zM28 61h1.05v1.05h-1.05zM29 61h1.05v1.05h-1.05zM27 62h1.05v1.05h-1.05zM26 63h1.05v1.05h-1.05zM38 63h1.05v1.05h-1.05zM31 64h1.05v1.05h-1.05zM34 64h1.05v1.05h-1.05zM32 66h1.05v1.05h-1.05zM33 66h1.05v1.05h-1.05zM32 67h1.05v1.05h-1.05zM32 68h1.05v1.05h-1.05zM38 68h1.05v1.05h-1.05zM32 69h1.05v1.05h-1.05zM32 72h1.05v1.05h-1.05zM32 73h1.05v1.05h-1.05zM32 74h1.05v1.05h-1.05zM32 75h1.05v1.05h-1.05zM24 76h1.05v1.05h-1.05zM32 76h1.05v1.05h-1.05zM24 77h1.05v1.05h-1.05zM32 77h1.05v1.05h-1.05zM24 78h1.05v1.05h-1.05zM32 78h1.05v1.05h-1.05zM24 79h1.05v1.05h-1.05zM32 79h1.05v1.05h-1.05zM24 80h1.05v1.05h-1.05zM32 80h1.05v1.05h-1.05zM24 81h1.05v1.05h-1.05zM32 81h1.05v1.05h-1.05zM24 82h1.05v1.05h-1.05zM32 82h1.05v1.05h-1.05zM24 83h1.05v1.05h-1.05zM32 83h1.05v1.05h-1.05zM24 84h1.05v1.05h-1.05zM32 84h1.05v1.05h-1.05zM24 85h1.05v1.05h-1.05zM32 85h1.05v1.05h-1.05zM24 86h1.05v1.05h-1.05zM32 86h1.05v1.05h-1.05zM24 87h1.05v1.05h-1.05zM32 87h1.05v1.05h-1.05zM24 88h1.05v1.05h-1.05zM32 88h1.05v1.05h-1.05zM24 89h1.05v1.05h-1.05zM32 89h1.05v1.05h-1.05zM24 90h1.05v1.05h-1.05zM32 90h1.05v1.05h-1.05zM24 91h1.05v1.05h-1.05zM32 91h1.05v1.05h-1.05zM24 92h1.05v1.05h-1.05zM32 92h1.05v1.05h-1.05zM24 93h1.05v1.05h-1.05zM32 93h1.05v1.05h-1.05z"/>
<path fill="#ecae92" d="M35 0h1.05v1.05h-1.05zM35 1h1.05v1.05h-1.05zM35 2h1.05v1.05h-1.05zM35 3h1.05v1.05h-1.05zM35 4h1.05v1.05h-1.05zM35 5h1.05v1.05h-1.05zM35 6h1.05v1.05h-1.05zM35 7h1.05v1.05h-1.05zM35 8h1.05v1.05h-1.05zM35 9h1.05v1.05h-1.05zM35 10h1.05v1.05h-1.05zM35 11h1.05v1.05h-1.05zM35 12h1.05v1.05h-1.05zM35 13h1.05v1.05h-1.05zM35 14h1.05v1.05h-1.05zM35 15h1.05v1.05h-1.05zM35 16h1.05v1.05h-1.05zM35 17h1.05v1.05h-1.05zM35 18h1.05v1.05h-1.05zM35 19h1.05v1.05h-1.05zM36 62h1.05v1.05h-1.05zM37 62h1.05v1.05h-1.05zM27 64h1.05v1.05h-1.05zM30 65h1.05v1.05h-1.05zM26 66h1.05v1.05h-1.05zM34 67h1.05v1.05h-1.05zM30 70h1.05v1.05h-1.05zM30 71h1.05v1.05h-1.05zM30 72h1.05v1.05h-1.05zM25 73h1.05v1.05h-1.05zM25 74h1.05v1.05h-1.05zM37 74h1.05v1.05h-1.05zM25 75h1.05v1.05h-1.05zM37 75h1.05v1.05h-1.05zM25 76h1.05v1.05h-1.05zM37 76h1.05v1.05h-1.05zM25 77h1.05v1.05h-1.05zM25 78h1.05v1.05h-1.05zM25 79h1.05v1.05h-1.05zM25 80h1.05v1.05h-1.05zM25 81h1.05v1.05h-1.05zM25 82h1.05v1.05h-1.05zM25 83h1.05v1.05h-1.05zM25 84h1.05v1.05h-1.05zM25 85h1.05v1.05h-1.05zM25 86h1.05v1.05h-1.05zM25 87h1.05v1.05h-1.05zM25 88h1.05v1.05h-1.05zM25 89h1.05v1.05h-1.05zM25 90h1.05v1.05h-1.05zM25 91h1.05v1.05h-1.05zM25 92h1.05v1.05h-1.05zM25 93h1.05v1.05h-1.05z"/>
<path fill="#f0baa0" d="M36 0h1.05v1.05h-1.05zM36 1h1.05v1.05h-1.05zM36 2h1.05v1.05h-1.05zM36 3h1.05v1.05h-1.05zM36 4h1.05v1.05h-1.05zM36 5h1.05v1.05h-1.05zM36 6h1.05v1.05h-1.05zM36 7h1.05v1.05h-1.05zM36 8h1.05v1.05h-1.05zM36 9h1.05v1.05h-1.05zM36 10h1.05v1.05h-1.05zM36 11h1.05v1.05h-1.05zM36 12h1.05v1.05h-1.05zM36 13h1.05v1.05h-1.05zM36 14h1.05v1.05h-1.05zM36 15h1.05v1.05h-1.05zM36 16h1.05v1.05h-1.05zM34 17h1.05v1.05h-1.05zM36 17h1.05v1.05h-1.05zM36 18h1.05v1.05h-1.05zM36 19h1.05v1.05h-1.05zM36 20h1.05v1.05h-1.05zM36 21h1.05v1.05h-1.05zM30 61h1.05v1.05h-1.05zM31 63h1.05v1.05h-1.05zM25 65h1.05v1.05h-1.05zM32 65h1.05v1.05h-1.05zM33 65h1.05v1.05h-1.05zM38 69h1.05v1.05h-1.05zM32 70h1.05v1.05h-1.05zM32 71h1.05v1.05h-1.05zM24 73h1.05v1.05h-1.05zM24 74h1.05v1.05h-1.05zM24 75h1.05v1.05h-1.05z"/>
<path fill="#f4c8b2" d="M37 0h1.05v1.05h-1.05zM37 1h1.05v1.05h-1.05zM37 2h1.05v1.05h-1.05zM37 3h1.05v1.05h-1.05zM37 4h1.05v1.05h-1.05zM37 5h1.05v1.05h-1.05zM37 6h1.05v1.05h-1.05zM37 7h1.05v1.05h-1.05zM37 8h1.05v1.05h-1.05zM37 9h1.05v1.05h-1.05zM37 10h1.05v1.05h-1.05zM37 11h1.05v1.05h-1.05zM37 12h1.05v1.05h-1.05zM37 13h1.05v1.05h-1.05zM37 14h1.05v1.05h-1.05zM37 15h1.05v1.05h-1.05zM37 16h1.05v1.05h-1.05zM37 17h1.05v1.05h-1.05zM37 18h1.05v1.05h-1.05zM37 19h1.05v1.05h-1.05zM37 20h1.05v1.05h-1.05zM37 21h1.05v1.05h-1.05zM37 22h1.05v1.05h-1.05zM37 23h1.05v1.05h-1.05zM28 56h1.05v1.05h-1.05zM30 57h1.05v1.05h-1.05zM27 58h1.05v1.05h-1.05zM38 58h1.05v1.05h-1.05zM26 59h1.05v1.05h-1.05zM31 59h1.05v1.05h-1.05zM39 63h1.05v1.05h-1.05zM24 65h1.05v1.05h-1.05zM39 71h1.05v1.05h-1.05zM39 72h1.05v1.05h-1.05zM23 75h1.05v1.05h-1.05zM23 76h1.05v1.05h-1.05zM23 77h1.05v1.05h-1.05zM23 78h1.05v1.05h-1.05zM23 79h1.05v1.05h-1.05zM23 80h1.05v1.05h-1.05zM23 81h1.05v1.05h-1.05zM23 82h1.05v1.05h-1.05zM23 83h1.05v1.05h-1.05zM23 84h1.05v1.05h-1.05zM23 85h1.05v1.05h-1.05zM23 86h1.05v1.05h-1.05zM23 87h1.05v1.05h-1.05zM23 88h1.05v1.05h-1.05zM23 89h1.05v1.05h-1.05zM23 90h1.05v1.05h-1.05zM23 91h1.05v1.05h-1.05zM23 92h1.05v1.05h-1.05zM23 93h1.05v1.05h-1.05z"/>
<path fill="#fadccc" d="M40 0h1.05v1.05h-1.05zM40 1h1.05v1.05h-1.05zM40 2h1.05v1.05h-1.05zM40 3h1.05v1.05h-1.05zM40 4h1.05v1.05h-1.05zM40 5h1.05v1.05h-1.05zM40 6h1.05v1.05h-1.05zM40 7h1.05v1.05h-1.05zM31 8h1.05v1.05h-1.05zM40 8h1.05v1.05h-1.05zM40 9h1.05v1.05h-1.05zM40 10h1.05v1.05h-1.05zM40 11h1.05v1.05h-1.05zM40 12h1.05v1.05h-1.05zM40 13h1.05v1.05h-1.05zM40 14h1.05v1.05h-1.05zM40 15h1.05v1.05h-1.05zM40 16h1.05v1.05h-1.05zM40 17h1.05v1.05h-1.05zM40 18h1.05v1.05h-1.05zM40 19h1.05v1.05h-1.05zM40 20h1.05v1.05h-1.05zM40 21h1.05v1.05h-1.05zM40 22h1.05v1.05h-1.05zM40 23h1.05v1.05h-1.05zM40 24h1.05v1.05h-1.05zM40 25h1.05v1.05h-1.05zM38 26h1.05v1.05h-1.05zM40 26h1.05v1.05h-1.05zM40 27h1.05v1.05h-1.05zM27 54h1.05v1.05h-1.05zM30 54h1.05v1.05h-1.05zM36 54h1.05v1.05h-1.05zM25 55h1.05v1.05h-1.05zM40 59h1.05v1.05h-1.05zM41 61h1.05v1.05h-1.05zM42 63h1.05v1.05h-1.05zM23 64h1.05v1.05h-1.05zM43 64h1.05v1.05h-1.05zM44 65h1.05v1.05h-1.05zM45 65h1.05v1.05h-1.05zM45 66h1.05v1.05h-1.05zM45 67h1.05v1.05h-1.05zM46 67h1.05v1.05h-1.05zM45 68h1.05v1.05h-1.05zM46 68h1.05v1.05h-1.05zM45 69h1.05v1.05h-1.05zM46 69h1.05v1.05h-1.05zM45 70h1.05v1.05h-1.05zM46 70h1.05v1.05h-1.05zM45 71h1.05v1.05h-1.05zM46 71h1.05v1.05h-1.05zM22 72h1.05v1.05h-1.05zM45 72h1.05v1.05h-1.05zM22 73h1.05v1.05h-1.05zM45 73h1.05v1.05h-1.05zM22 74h1.05v1.05h-1.05zM45 74h1.05v1.05h-1.05zM45 75h1.05v1.05h-1.05zM45 76h1.05v1.05h-1.05zM45 77h1.05v1.05h-1.05zM45 78h1.05v1.05h-1.05zM45 79h1.05v1.05h-1.05zM45 80h1.05v1.05h-1.05zM45 81h1.05v1.05h-1.05zM45 82h1.05v1.05h-1.05zM45 83h1.05v1.05h-1.05zM45 84h1.05v1.05h-1.05zM45 85h1.05v1.05h-1.05zM45 86h1.05v1.05h-1.05zM45 87h1.05v1.05h-1.05zM45 88h1.05v1.05h-1.05zM45 89h1.05v1.05h-1.05zM45 90h1.05v1.05h-1.05zM45 91h1.05v1.05h-1.05zM45 92h1.05v1.05h-1.05zM45 93h1.05v1.05h-1.05z"/>
<path fill="#f8e0d2" d="M47 0h1.05v1.05h-1.05zM48 0h1.05v1.05h-1.05zM49 0h1.05v1.05h-1.05zM47 1h1.05v1.05h-1.05zM48 1h1.05v1.05h-1.05zM49 1h1.05v1.05h-1.05zM47 2h1.05v1.05h-1.05zM48 2h1.05v1.05h-1.05zM49 2h1.05v1.05h-1.05zM47 3h1.05v1.05h-1.05zM48 3h1.05v1.05h-1.05zM49 3h1.05v1.05h-1.05zM27 4h1.05v1.05h-1.05zM47 4h1.05v1.05h-1.05zM48 4h1.05v1.05h-1.05zM49 4h1.05v1.05h-1.05zM28 5h1.05v1.05h-1.05zM47 5h1.05v1.05h-1.05zM48 5h1.05v1.05h-1.05zM49 5h1.05v1.05h-1.05zM47 6h1.05v1.05h-1.05zM48 6h1.05v1.05h-1.05zM49 6h1.05v1.05h-1.05zM47 7h1.05v1.05h-1.05zM48 7h1.05v1.05h-1.05zM49 7h1.05v1.05h-1.05zM47 8h1.05v1.05h-1.05zM48 8h1.05v1.05h-1.05zM49 8h1.05v1.05h-1.05zM47 9h1.05v1.05h-1.05zM48 9h1.05v1.05h-1.05zM49 9h1.05v1.05h-1.05zM47 10h1.05v1.05h-1.05zM48 10h1.05v1.05h-1.05zM49 10h1.05v1.05h-1.05zM47 11h1.05v1.05h-1.05zM48 11h1.05v1.05h-1.05zM49 11h1.05v1.05h-1.05zM47 12h1.05v1.05h-1.05zM48 12h1.05v1.05h-1.05zM49 12h1.05v1.05h-1.05zM47 13h1.05v1.05h-1.05zM48 13h1.05v1.05h-1.05zM49 13h1.05v1.05h-1.05zM47 14h1.05v1.05h-1.05zM48 14h1.05v1.05h-1.05zM49 14h1.05v1.05h-1.05zM47 15h1.05v1.05h-1.05zM48 15h1.05v1.05h-1.05zM49 15h1.05v1.05h-1.05zM47 16h1.05v1.05h-1.05zM48 16h1.05v1.05h-1.05zM49 16h1.05v1.05h-1.05zM47 17h1.05v1.05h-1.05zM48 17h1.05v1.05h-1.05zM49 17h1.05v1.05h-1.05zM47 18h1.05v1.05h-1.05zM48 18h1.05v1.05h-1.05zM49 18h1.05v1.05h-1.05zM47 19h1.05v1.05h-1.05zM48 19h1.05v1.05h-1.05zM49 19h1.05v1.05h-1.05zM47 20h1.05v1.05h-1.05zM48 20h1.05v1.05h-1.05zM49 20h1.05v1.05h-1.05zM47 21h1.05v1.05h-1.05zM48 21h1.05v1.05h-1.05zM49 21h1.05v1.05h-1.05zM47 22h1.05v1.05h-1.05zM48 22h1.05v1.05h-1.05zM49 22h1.05v1.05h-1.05zM47 23h1.05v1.05h-1.05zM48 23h1.05v1.05h-1.05zM49 23h1.05v1.05h-1.05zM47 24h1.05v1.05h-1.05zM48 24h1.05v1.05h-1.05zM49 24h1.05v1.05h-1.05zM47 25h1.05v1.05h-1.05zM48 25h1.05v1.05h-1.05zM49 25h1.05v1.05h-1.05zM47 26h1.05v1.05h-1.05zM48 26h1.05v1.05h-1.05zM49 26h1.05v1.05h-1.05zM46 27h1.05v1.05h-1.05zM47 27h1.05v1.05h-1.05zM48 27h1.05v1.05h-1.05zM49 27h1.05v1.05h-1.05zM46 28h1.05v1.05h-1.05zM47 28h1.05v1.05h-1.05zM48 28h1.05v1.05h-1.05zM43 29h1.05v1.05h-1.05zM44 29h1.05v1.05h-1.05zM45 29h1.05v1.05h-1.05zM46 29h1.05v1.05h-1.05zM25 54h1.05v1.05h-1.05zM32 54h1.05v1.05h-1.05zM41 58h1.05v1.05h-1.05zM42 59h1.05v1.05h-1.05zM23 61h1.05v1.05h-1.05zM44 61h1.05v1.05h-1.05zM45 61h1.05v1.05h-1.05zM46 62h1.05v1.05h-1.05zM47 62h1.05v1.05h-1.05zM48 63h1.05v1.05h-1.05zM49 64h1.05v1.05h-1.05zM50 64h1.05v1.05h-1.05zM50 65h1.05v1.05h-1.05zM51 65h1.05v1.05h-1.05zM52 65h1.05v1.05h-1.05zM53 65h1.05v1.05h-1.05zM22 66h1.05v1.05h-1.05zM51 66h1.05v1.05h-1.05zM52 66h1.05v1.05h-1.05zM53 66h1.05v1.05h-1.05zM52 67h1.05v1.05h-1.05zM53 67h1.05v1.05h-1.05zM52 68h1.05v1.05h-1.05zM53 68h1.05v1.05h-1.05zM51 69h1.05v1.05h-1.05zM52 69h1.05v1.05h-1.05zM53 69h1.05v1.05h-1.05zM51 70h1.05v1.05h-1.05zM52 70h1.05v1.05h-1.05zM53 70h1.05v1.05h-1.05zM51 71h1.05v1.05h-1.05zM52 71h1.05v1.05h-1.05zM53 71h1.05v1.05h-1.05zM51 72h1.05v1.05h-1.05zM52 72h1.05v1.05h-1.05zM53 72h1.05v1.05h-1.05zM51 73h1.05v1.05h-1.05zM52 73h1.05v1.05h-1.05zM53 73h1.05v1.05h-1.05zM51 74h1.05v1.05h-1.05zM52 74h1.05v1.05h-1.05zM53 74h1.05v1.05h-1.05zM51 75h1.05v1.05h-1.05zM52 75h1.05v1.05h-1.05zM53 75h1.05v1.05h-1.05zM51 76h1.05v1.05h-1.05zM52 76h1.05v1.05h-1.05zM53 76h1.05v1.05h-1.05zM51 77h1.05v1.05h-1.05zM52 77h1.05v1.05h-1.05zM53 77h1.05v1.05h-1.05zM51 78h1.05v1.05h-1.05zM52 78h1.05v1.05h-1.05zM53 78h1.05v1.05h-1.05zM51 79h1.05v1.05h-1.05zM52 79h1.05v1.05h-1.05zM53 79h1.05v1.05h-1.05zM51 80h1.05v1.05h-1.05zM52 80h1.05v1.05h-1.05zM53 80h1.05v1.05h-1.05zM51 81h1.05v1.05h-1.05zM52 81h1.05v1.05h-1.05zM53 81h1.05v1.05h-1.05zM51 82h1.05v1.05h-1.05zM52 82h1.05v1.05h-1.05zM53 82h1.05v1.05h-1.05zM51 83h1.05v1.05h-1.05zM52 83h1.05v1.05h-1.05zM53 83h1.05v1.05h-1.05zM51 84h1.05v1.05h-1.05zM52 84h1.05v1.05h-1.05zM53 84h1.05v1.05h-1.05zM51 85h1.05v1.05h-1.05zM52 85h1.05v1.05h-1.05zM53 85h1.05v1.05h-1.05zM51 86h1.05v1.05h-1.05zM52 86h1.05v1.05h-1.05zM53 86h1.05v1.05h-1.05zM51 87h1.05v1.05h-1.05zM52 87h1.05v1.05h-1.05zM53 87h1.05v1.05h-1.05zM51 88h1.05v1.05h-1.05zM52 88h1.05v1.05h-1.05zM53 88h1.05v1.05h-1.05zM51 89h1.05v1.05h-1.05zM52 89h1.05v1.05h-1.05zM53 89h1.05v1.05h-1.05zM51 90h1.05v1.05h-1.05zM52 90h1.05v1.05h-1.05zM53 90h1.05v1.05h-1.05zM51 91h1.05v1.05h-1.05zM52 91h1.05v1.05h-1.05zM53 91h1.05v1.05h-1.05zM51 92h1.05v1.05h-1.05zM52 92h1.05v1.05h-1.05zM53 92h1.05v1.05h-1.05zM51 93h1.05v1.05h-1.05zM52 93h1.05v1.05h-1.05zM53 93h1.05v1.05h-1.05z"/>
<path fill="#f8e2d4" d="M50 0h1.05v1.05h-1.05zM51 0h1.05v1.05h-1.05zM52 0h1.05v1.05h-1.05zM53 0h1.05v1.05h-1.05zM50 1h1.05v1.05h-1.05zM51 1h1.05v1.05h-1.05zM52 1h1.05v1.05h-1.05zM53 1h1.05v1.05h-1.05zM50 2h1.05v1.05h-1.05zM51 2h1.05v1.05h-1.05zM52 2h1.05v1.05h-1.05zM53 2h1.05v1.05h-1.05zM50 3h1.05v1.05h-1.05zM51 3h1.05v1.05h-1.05zM52 3h1.05v1.05h-1.05zM53 3h1.05v1.05h-1.05zM50 4h1.05v1.05h-1.05zM51 4h1.05v1.05h-1.05zM52 4h1.05v1.05h-1.05zM53 4h1.05v1.05h-1.05zM50 5h1.05v1.05h-1.05zM51 5h1.05v1.05h-1.05zM52 5h1.05v1.05h-1.05zM53 5h1.05v1.05h-1.05zM50 6h1.05v1.05h-1.05zM51 6h1.05v1.05h-1.05zM52 6h1.05v1.05h-1.05zM53 6h1.05v1.05h-1.05zM50 7h1.05v1.05h-1.05zM51 7h1.05v1.05h-1.05zM52 7h1.05v1.05h-1.05zM53 7h1.05v1.05h-1.05zM50 8h1.05v1.05h-1.05zM51 8h1.05v1.05h-1.05zM52 8h1.05v1.05h-1.05zM53 8h1.05v1.05h-1.05zM50 9h1.05v1.05h-1.05zM51 9h1.05v1.05h-1.05zM52 9h1.05v1.05h-1.05zM53 9h1.05v1.05h-1.05zM50 10h1.05v1.05h-1.05zM51 10h1.05v1.05h-1.05zM52 10h1.05v1.05h-1.05zM53 10h1.05v1.05h-1.05zM50 11h1.05v1.05h-1.05zM51 11h1.05v1.05h-1.05zM52 11h1.05v1.05h-1.05zM53 11h1.05v1.05h-1.05zM50 12h1.05v1.05h-1.05zM51 12h1.05v1.05h-1.05zM52 12h1.05v1.05h-1.05zM53 12h1.05v1.05h-1.05zM50 13h1.05v1.05h-1.05zM51 13h1.05v1.05h-1.05zM52 13h1.05v1.05h-1.05zM53 13h1.05v1.05h-1.05zM50 14h1.05v1.05h-1.05zM51 14h1.05v1.05h-1.05zM52 14h1.05v1.05h-1.05zM53 14h1.05v1.05h-1.05zM50 15h1.05v1.05h-1.05zM51 15h1.05v1.05h-1.05zM52 15h1.05v1.05h-1.05zM53 15h1.05v1.05h-1.05zM50 16h1.05v1.05h-1.05zM51 16h1.05v1.05h-1.05zM52 16h1.05v1.05h-1.05zM53 16h1.05v1.05h-1.05zM50 17h1.05v1.05h-1.05zM51 17h1.05v1.05h-1.05zM52 17h1.05v1.05h-1.05zM53 17h1.05v1.05h-1.05zM50 18h1.05v1.05h-1.05zM51 18h1.05v1.05h-1.05zM52 18h1.05v1.05h-1.05zM53 18h1.05v1.05h-1.05zM50 19h1.05v1.05h-1.05zM51 19h1.05v1.05h-1.05zM52 19h1.05v1.05h-1.05zM53 19h1.05v1.05h-1.05zM50 20h1.05v1.05h-1.05zM51 20h1.05v1.05h-1.05zM52 20h1.05v1.05h-1.05zM53 20h1.05v1.05h-1.05zM50 21h1.05v1.05h-1.05zM51 21h1.05v1.05h-1.05zM52 21h1.05v1.05h-1.05zM53 21h1.05v1.05h-1.05zM50 22h1.05v1.05h-1.05zM51 22h1.05v1.05h-1.05zM52 22h1.05v1.05h-1.05zM53 22h1.05v1.05h-1.05zM50 23h1.05v1.05h-1.05zM51 23h1.05v1.05h-1.05zM52 23h1.05v1.05h-1.05zM53 23h1.05v1.05h-1.05zM50 24h1.05v1.05h-1.05zM51 24h1.05v1.05h-1.05zM52 24h1.05v1.05h-1.05zM53 24h1.05v1.05h-1.05zM50 25h1.05v1.05h-1.05zM51 25h1.05v1.05h-1.05zM52 25h1.05v1.05h-1.05zM53 25h1.05v1.05h-1.05zM50 26h1.05v1.05h-1.05zM51 26h1.05v1.05h-1.05zM52 26h1.05v1.05h-1.05zM53 26h1.05v1.05h-1.05zM50 27h1.05v1.05h-1.05zM51 27h1.05v1.05h-1.05zM52 27h1.05v1.05h-1.05zM53 27h1.05v1.05h-1.05zM49 28h1.05v1.05h-1.05zM50 28h1.05v1.05h-1.05zM51 28h1.05v1.05h-1.05zM52 28h1.05v1.05h-1.05zM53 28h1.05v1.05h-1.05zM42 29h1.05v1.05h-1.05zM47 29h1.05v1.05h-1.05zM48 29h1.05v1.05h-1.05zM49 29h1.05v1.05h-1.05zM50 29h1.05v1.05h-1.05zM27 53h1.05v1.05h-1.05zM28 53h1.05v1.05h-1.05zM29 53h1.05v1.05h-1.05zM33 54h1.05v1.05h-1.05zM34 54h1.05v1.05h-1.05zM24 55h1.05v1.05h-1.05zM40 55h1.05v1.05h-1.05zM41 56h1.05v1.05h-1.05zM41 57h1.05v1.05h-1.05zM42 58h1.05v1.05h-1.05zM43 60h1.05v1.05h-1.05zM44 60h1.05v1.05h-1.05zM45 60h1.05v1.05h-1.05zM46 61h1.05v1.05h-1.05zM47 61h1.05v1.05h-1.05zM48 62h1.05v1.05h-1.05zM49 62h1.05v1.05h-1.05zM49 63h1.05v1.05h-1.05zM50 63h1.05v1.05h-1.05zM51 64h1.05v1.05h-1.05zM52 64h1.05v1.05h-1.05zM53 64h1.05v1.05h-1.05zM22 65h1.05v1.05h-1.05zM21 76h1.05v1.05h-1.05zM21 77h1.05v1.05h-1.05zM21 78h1.05v1.05h-1.05zM21 79h1.05v1.05h-1.05zM21 80h1.05v1.05h-1.05zM21 81h1.05v1.05h-1.05zM21 82h1.05v1.05h-1.05zM21 83h1.05v1.05h-1.05zM21 84h1.05v1.05h-1.05zM21 85h1.05v1.05h-1.05zM21 86h1.05v1.05h-1.05zM21 87h1.05v1.05h-1.05zM21 88h1.05v1.05h-1.05zM21 89h1.05v1.05h-1.05zM21 90h1.05v1.05h-1.05zM21 91h1.05v1.05h-1.05zM21 92h1.05v1.05h-1.05zM21 93h1.05v1.05h-1.05z"/>
<path fill="#f8f4f0" d="M20 2h1.05v1.05h-1.05zM21 3h1.05v1.05h-1.05zM31 10h1.05v1.05h-1.05zM39 29h1.05v1.05h-1.05zM43 31h1.05v1.05h-1.05zM8 36h1.05v1.05h-1.05zM9 36h1.05v1.05h-1.05zM10 36h1.05v1.05h-1.05zM11 36h1.05v1.05h-1.05zM12 36h1.05v1.05h-1.05zM13 36h1.05v1.05h-1.05zM7 37h1.05v1.05h-1.05zM8 37h1.05v1.05h-1.05zM9 37h1.05v1.05h-1.05zM10 37h1.05v1.05h-1.05zM11 37h1.05v1.05h-1.05zM12 37h1.05v1.05h-1.05zM13 37h1.05v1.05h-1.05zM14 37h1.05v1.05h-1.05zM15 37h1.05v1.05h-1.05zM16 37h1.05v1.05h-1.05zM17 37h1.05v1.05h-1.05zM18 37h1.05v1.05h-1.05zM19 37h1.05v1.05h-1.05zM20 37h1.05v1.05h-1.05zM21 37h1.05v1.05h-1.05zM22 37h1.05v1.05h-1.05zM7 38h1.05v1.05h-1.05zM8 38h1.05v1.05h-1.05zM9 38h1.05v1.05h-1.05zM10 38h1.05v1.05h-1.05zM23 38h1.05v1.05h-1.05zM24 38h1.05v1.05h-1.05zM7 39h1.05v1.05h-1.05zM25 39h1.05v1.05h-1.05zM26 39h1.05v1.05h-1.05zM6 40h1.05v1.05h-1.05zM7 40h1.05v1.05h-1.05zM26 40h1.05v1.05h-1.05zM6 41h1.05v1.05h-1.05zM7 41h1.05v1.05h-1.05zM26 41h1.05v1.05h-1.05zM6 42h1.05v1.05h-1.05zM7 42h1.05v1.05h-1.05zM26 42h1.05v1.05h-1.05zM27 42h1.05v1.05h-1.05zM6 43h1.05v1.05h-1.05zM7 43h1.05v1.05h-1.05zM26 43h1.05v1.05h-1.05zM27 43h1.05v1.05h-1.05zM6 44h1.05v1.05h-1.05zM7 44h1.05v1.05h-1.05zM26 44h1.05v1.05h-1.05zM27 44h1.05v1.05h-1.05zM6 45h1.05v1.05h-1.05zM7 45h1.05v1.05h-1.05zM26 45h1.05v1.05h-1.05zM27 45h1.05v1.05h-1.05zM6 46h1.05v1.05h-1.05zM7 46h1.05v1.05h-1.05zM26 46h1.05v1.05h-1.05zM27 46h1.05v1.05h-1.05zM6 47h1.05v1.05h-1.05zM7 47h1.05v1.05h-1.05zM26 47h1.05v1.05h-1.05zM27 47h1.05v1.05h-1.05zM6 48h1.05v1.05h-1.05zM7 48h1.05v1.05h-1.05zM26 48h1.05v1.05h-1.05zM27 48h1.05v1.05h-1.05zM6 49h1.05v1.05h-1.05zM7 49h1.05v1.05h-1.05zM26 49h1.05v1.05h-1.05zM27 49h1.05v1.05h-1.05zM6 50h1.05v1.05h-1.05zM7 50h1.05v1.05h-1.05zM29 50h1.05v1.05h-1.05zM6 51h1.05v1.05h-1.05zM7 51h1.05v1.05h-1.05zM32 51h1.05v1.05h-1.05zM7 52h1.05v1.05h-1.05zM39 52h1.05v1.05h-1.05zM7 53h1.05v1.05h-1.05zM8 53h1.05v1.05h-1.05zM52 53h1.05v1.05h-1.05zM53 53h1.05v1.05h-1.05zM7 54h1.05v1.05h-1.05zM8 54h1.05v1.05h-1.05zM8 55h1.05v1.05h-1.05zM8 56h1.05v1.05h-1.05zM8 57h1.05v1.05h-1.05zM8 58h1.05v1.05h-1.05zM8 59h1.05v1.05h-1.05zM8 60h1.05v1.05h-1.05zM8 61h1.05v1.05h-1.05zM8 62h1.05v1.05h-1.05zM8 63h1.05v1.05h-1.05zM8 64h1.05v1.05h-1.05zM8 65h1.05v1.05h-1.05zM7 67h1.05v1.05h-1.05zM7 68h1.05v1.05h-1.05zM7 69h1.05v1.05h-1.05zM7 70h1.05v1.05h-1.05zM7 71h1.05v1.05h-1.05zM7 72h1.05v1.05h-1.05zM7 73h1.05v1.05h-1.05zM7 74h1.05v1.05h-1.05zM7 75h1.05v1.05h-1.05zM7 76h1.05v1.05h-1.05zM7 77h1.05v1.05h-1.05zM7 78h1.05v1.05h-1.05zM7 79h1.05v1.05h-1.05zM7 80h1.05v1.05h-1.05zM7 81h1.05v1.05h-1.05zM7 82h1.05v1.05h-1.05zM7 83h1.05v1.05h-1.05zM7 84h1.05v1.05h-1.05zM7 85h1.05v1.05h-1.05zM7 86h1.05v1.05h-1.05zM7 87h1.05v1.05h-1.05zM7 88h1.05v1.05h-1.05zM7 89h1.05v1.05h-1.05zM7 90h1.05v1.05h-1.05zM7 91h1.05v1.05h-1.05zM7 92h1.05v1.05h-1.05zM7 93h1.05v1.05h-1.05z"/>
<path fill="#f8f0ec" d="M21 2h1.05v1.05h-1.05zM22 3h1.05v1.05h-1.05zM23 4h1.05v1.05h-1.05zM41 30h1.05v1.05h-1.05zM44 31h1.05v1.05h-1.05zM45 31h1.05v1.05h-1.05zM46 31h1.05v1.05h-1.05zM21 41h1.05v1.05h-1.05zM21 42h1.05v1.05h-1.05zM20 43h1.05v1.05h-1.05zM21 43h1.05v1.05h-1.05zM22 43h1.05v1.05h-1.05zM20 44h1.05v1.05h-1.05zM21 44h1.05v1.05h-1.05zM22 44h1.05v1.05h-1.05zM20 45h1.05v1.05h-1.05zM21 45h1.05v1.05h-1.05zM22 45h1.05v1.05h-1.05zM20 46h1.05v1.05h-1.05zM21 46h1.05v1.05h-1.05zM22 46h1.05v1.05h-1.05zM19 47h1.05v1.05h-1.05zM20 47h1.05v1.05h-1.05zM21 47h1.05v1.05h-1.05zM22 47h1.05v1.05h-1.05zM19 48h1.05v1.05h-1.05zM20 48h1.05v1.05h-1.05zM21 48h1.05v1.05h-1.05zM22 48h1.05v1.05h-1.05zM19 49h1.05v1.05h-1.05zM20 49h1.05v1.05h-1.05zM21 49h1.05v1.05h-1.05zM22 49h1.05v1.05h-1.05zM19 50h1.05v1.05h-1.05zM20 50h1.05v1.05h-1.05zM21 50h1.05v1.05h-1.05zM22 50h1.05v1.05h-1.05zM23 50h1.05v1.05h-1.05zM17 51h1.05v1.05h-1.05zM18 51h1.05v1.05h-1.05zM19 51h1.05v1.05h-1.05zM20 51h1.05v1.05h-1.05zM30 51h1.05v1.05h-1.05zM15 52h1.05v1.05h-1.05zM16 52h1.05v1.05h-1.05zM17 52h1.05v1.05h-1.05zM18 52h1.05v1.05h-1.05zM34 52h1.05v1.05h-1.05zM36 52h1.05v1.05h-1.05zM37 52h1.05v1.05h-1.05zM14 53h1.05v1.05h-1.05zM15 53h1.05v1.05h-1.05zM16 53h1.05v1.05h-1.05zM42 53h1.05v1.05h-1.05zM43 53h1.05v1.05h-1.05zM13 54h1.05v1.05h-1.05zM14 54h1.05v1.05h-1.05zM15 54h1.05v1.05h-1.05zM12 55h1.05v1.05h-1.05zM13 55h1.05v1.05h-1.05zM14 55h1.05v1.05h-1.05zM12 56h1.05v1.05h-1.05zM13 56h1.05v1.05h-1.05zM12 57h1.05v1.05h-1.05zM13 57h1.05v1.05h-1.05zM12 58h1.05v1.05h-1.05zM13 58h1.05v1.05h-1.05zM11 59h1.05v1.05h-1.05zM12 59h1.05v1.05h-1.05zM13 59h1.05v1.05h-1.05zM11 60h1.05v1.05h-1.05zM12 60h1.05v1.05h-1.05zM13 60h1.05v1.05h-1.05zM11 61h1.05v1.05h-1.05zM12 61h1.05v1.05h-1.05zM11 62h1.05v1.05h-1.05zM12 62h1.05v1.05h-1.05zM11 63h1.05v1.05h-1.05zM12 63h1.05v1.05h-1.05zM11 64h1.05v1.05h-1.05zM11 65h1.05v1.05h-1.05zM10 66h1.05v1.05h-1.05zM11 66h1.05v1.05h-1.05zM10 67h1.05v1.05h-1.05zM11 67h1.05v1.05h-1.05zM10 68h1.05v1.05h-1.05zM11 68h1.05v1.05h-1.05zM10 69h1.05v1.05h-1.05zM11 69h1.05v1.05h-1.05zM10 70h1.05v1.05h-1.05zM10 71h1.05v1.05h-1.05zM10 72h1.05v1.05h-1.05zM10 73h1.05v1.05h-1.05zM10 74h1.05v1.05h-1.05zM10 75h1.05v1.05h-1.05zM10 76h1.05v1.05h-1.05zM10 77h1.05v1.05h-1.05zM10 78h1.05v1.05h-1.05zM10 79h1.05v1.05h-1.05zM10 80h1.05v1.05h-1.05zM10 81h1.05v1.05h-1.05zM10 82h1.05v1.05h-1.05zM10 83h1.05v1.05h-1.05zM10 84h1.05v1.05h-1.05zM10 85h1.05v1.05h-1.05zM10 86h1.05v1.05h-1.05zM10 87h1.05v1.05h-1.05zM10 88h1.05v1.05h-1.05zM10 89h1.05v1.05h-1.05zM10 90h1.05v1.05h-1.05zM10 91h1.05v1.05h-1.05zM10 92h1.05v1.05h-1.05zM10 93h1.05v1.05h-1.05z"/>
<path fill="#f8eee6" d="M22 2h1.05v1.05h-1.05zM23 52h1.05v1.05h-1.05zM32 52h1.05v1.05h-1.05zM21 53h1.05v1.05h-1.05zM40 53h1.05v1.05h-1.05zM20 54h1.05v1.05h-1.05zM48 54h1.05v1.05h-1.05zM49 54h1.05v1.05h-1.05zM50 54h1.05v1.05h-1.05zM19 56h1.05v1.05h-1.05zM19 57h1.05v1.05h-1.05zM19 58h1.05v1.05h-1.05zM18 59h1.05v1.05h-1.05zM19 59h1.05v1.05h-1.05zM18 60h1.05v1.05h-1.05zM19 60h1.05v1.05h-1.05zM18 61h1.05v1.05h-1.05zM17 62h1.05v1.05h-1.05zM18 62h1.05v1.05h-1.05zM17 63h1.05v1.05h-1.05zM18 63h1.05v1.05h-1.05zM16 64h1.05v1.05h-1.05zM17 64h1.05v1.05h-1.05zM16 65h1.05v1.05h-1.05zM17 65h1.05v1.05h-1.05zM16 66h1.05v1.05h-1.05zM17 66h1.05v1.05h-1.05zM16 67h1.05v1.05h-1.05zM15 68h1.05v1.05h-1.05zM16 68h1.05v1.05h-1.05zM15 69h1.05v1.05h-1.05zM16 69h1.05v1.05h-1.05zM15 70h1.05v1.05h-1.05zM16 70h1.05v1.05h-1.05zM15 71h1.05v1.05h-1.05zM16 71h1.05v1.05h-1.05zM15 72h1.05v1.05h-1.05zM16 72h1.05v1.05h-1.05zM15 73h1.05v1.05h-1.05zM16 73h1.05v1.05h-1.05zM15 74h1.05v1.05h-1.05zM16 74h1.05v1.05h-1.05zM15 75h1.05v1.05h-1.05zM16 75h1.05v1.05h-1.05zM15 76h1.05v1.05h-1.05zM16 76h1.05v1.05h-1.05zM15 77h1.05v1.05h-1.05zM16 77h1.05v1.05h-1.05zM15 78h1.05v1.05h-1.05zM16 78h1.05v1.05h-1.05zM15 79h1.05v1.05h-1.05zM16 79h1.05v1.05h-1.05zM15 80h1.05v1.05h-1.05zM16 80h1.05v1.05h-1.05zM15 81h1.05v1.05h-1.05zM16 81h1.05v1.05h-1.05zM15 82h1.05v1.05h-1.05zM16 82h1.05v1.05h-1.05zM15 83h1.05v1.05h-1.05zM16 83h1.05v1.05h-1.05zM15 84h1.05v1.05h-1.05zM16 84h1.05v1.05h-1.05zM15 85h1.05v1.05h-1.05zM16 85h1.05v1.05h-1.05zM15 86h1.05v1.05h-1.05zM16 86h1.05v1.05h-1.05zM15 87h1.05v1.05h-1.05zM16 87h1.05v1.05h-1.05zM15 88h1.05v1.05h-1.05zM16 88h1.05v1.05h-1.05zM15 89h1.05v1.05h-1.05zM16 89h1.05v1.05h-1.05zM15 90h1.05v1.05h-1.05zM16 90h1.05v1.05h-1.05zM15 91h1.05v1.05h-1.05zM16 91h1.05v1.05h-1.05zM15 92h1.05v1.05h-1.05zM16 92h1.05v1.05h-1.05zM15 93h1.05v1.05h-1.05zM16 93h1.05v1.05h-1.05z"/>
<path fill="#f8e8e0" d="M24 3h1.05v1.05h-1.05zM28 6h1.05v1.05h-1.05zM34 19h1.05v1.05h-1.05zM36 24h1.05v1.05h-1.05zM40 29h1.05v1.05h-1.05zM26 52h1.05v1.05h-1.05zM29 52h1.05v1.05h-1.05zM41 54h1.05v1.05h-1.05zM47 55h1.05v1.05h-1.05zM48 55h1.05v1.05h-1.05zM22 56h1.05v1.05h-1.05zM52 56h1.05v1.05h-1.05zM53 56h1.05v1.05h-1.05zM22 57h1.05v1.05h-1.05zM21 60h1.05v1.05h-1.05zM21 61h1.05v1.05h-1.05zM20 64h1.05v1.05h-1.05zM20 65h1.05v1.05h-1.05zM19 70h1.05v1.05h-1.05zM19 71h1.05v1.05h-1.05zM19 72h1.05v1.05h-1.05zM19 73h1.05v1.05h-1.05zM19 74h1.05v1.05h-1.05zM19 75h1.05v1.05h-1.05zM19 76h1.05v1.05h-1.05zM19 77h1.05v1.05h-1.05zM19 78h1.05v1.05h-1.05zM19 79h1.05v1.05h-1.05zM19 80h1.05v1.05h-1.05zM19 81h1.05v1.05h-1.05zM19 82h1.05v1.05h-1.05zM19 83h1.05v1.05h-1.05zM19 84h1.05v1.05h-1.05zM19 85h1.05v1.05h-1.05zM19 86h1.05v1.05h-1.05zM19 87h1.05v1.05h-1.05zM19 88h1.05v1.05h-1.05zM19 89h1.05v1.05h-1.05zM19 90h1.05v1.05h-1.05zM19 91h1.05v1.05h-1.05zM19 92h1.05v1.05h-1.05zM19 93h1.05v1.05h-1.05z"/>
<path fill="#f8f2f0" d="M24 5h1.05v1.05h-1.05zM28 7h1.05v1.05h-1.05zM30 8h1.05v1.05h-1.05zM38 28h1.05v1.05h-1.05zM11 38h1.05v1.05h-1.05zM12 38h1.05v1.05h-1.05zM13 38h1.05v1.05h-1.05zM14 38h1.05v1.05h-1.05zM15 38h1.05v1.05h-1.05zM16 38h1.05v1.05h-1.05zM17 38h1.05v1.05h-1.05zM18 38h1.05v1.05h-1.05zM19 38h1.05v1.05h-1.05zM20 38h1.05v1.05h-1.05zM21 38h1.05v1.05h-1.05zM22 38h1.05v1.05h-1.05zM8 39h1.05v1.05h-1.05zM9 39h1.05v1.05h-1.05zM10 39h1.05v1.05h-1.05zM11 39h1.05v1.05h-1.05zM12 39h1.05v1.05h-1.05zM13 39h1.05v1.05h-1.05zM14 39h1.05v1.05h-1.05zM15 39h1.05v1.05h-1.05zM16 39h1.05v1.05h-1.05zM17 39h1.05v1.05h-1.05zM18 39h1.05v1.05h-1.05zM23 39h1.05v1.05h-1.05zM24 39h1.05v1.05h-1.05zM8 40h1.05v1.05h-1.05zM9 40h1.05v1.05h-1.05zM10 40h1.05v1.05h-1.05zM11 40h1.05v1.05h-1.05zM12 40h1.05v1.05h-1.05zM13 40h1.05v1.05h-1.05zM14 40h1.05v1.05h-1.05zM15 40h1.05v1.05h-1.05zM24 40h1.05v1.05h-1.05zM25 40h1.05v1.05h-1.05zM8 41h1.05v1.05h-1.05zM9 41h1.05v1.05h-1.05zM10 41h1.05v1.05h-1.05zM11 41h1.05v1.05h-1.05zM12 41h1.05v1.05h-1.05zM13 41h1.05v1.05h-1.05zM24 41h1.05v1.05h-1.05zM25 41h1.05v1.05h-1.05zM8 42h1.05v1.05h-1.05zM9 42h1.05v1.05h-1.05zM10 42h1.05v1.05h-1.05zM11 42h1.05v1.05h-1.05zM12 42h1.05v1.05h-1.05zM24 42h1.05v1.05h-1.05zM25 42h1.05v1.05h-1.05zM8 43h1.05v1.05h-1.05zM9 43h1.05v1.05h-1.05zM10 43h1.05v1.05h-1.05zM11 43h1.05v1.05h-1.05zM12 43h1.05v1.05h-1.05zM24 43h1.05v1.05h-1.05zM25 43h1.05v1.05h-1.05zM8 44h1.05v1.05h-1.05zM9 44h1.05v1.05h-1.05zM10 44h1.05v1.05h-1.05zM11 44h1.05v1.05h-1.05zM12 44h1.05v1.05h-1.05zM24 44h1.05v1.05h-1.05zM25 44h1.05v1.05h-1.05zM8 45h1.05v1.05h-1.05zM9 45h1.05v1.05h-1.05zM10 45h1.05v1.05h-1.05zM11 45h1.05v1.05h-1.05zM12 45h1.05v1.05h-1.05zM25 45h1.05v1.05h-1.05zM8 46h1.05v1.05h-1.05zM9 46h1.05v1.05h-1.05zM10 46h1.05v1.05h-1.05zM11 46h1.05v1.05h-1.05zM12 46h1.05v1.05h-1.05zM25 46h1.05v1.05h-1.05zM8 47h1.05v1.05h-1.05zM9 47h1.05v1.05h-1.05zM10 47h1.05v1.05h-1.05zM11 47h1.05v1.05h-1.05zM12 47h1.05v1.05h-1.05zM25 47h1.05v1.05h-1.05zM8 48h1.05v1.05h-1.05zM9 48h1.05v1.05h-1.05zM10 48h1.05v1.05h-1.05zM11 48h1.05v1.05h-1.05zM12 48h1.05v1.05h-1.05zM25 48h1.05v1.05h-1.05zM8 49h1.05v1.05h-1.05zM9 49h1.05v1.05h-1.05zM10 49h1.05v1.05h-1.05zM11 49h1.05v1.05h-1.05zM12 49h1.05v1.05h-1.05zM25 49h1.05v1.05h-1.05zM8 50h1.05v1.05h-1.05zM9 50h1.05v1.05h-1.05zM10 50h1.05v1.05h-1.05zM11 50h1.05v1.05h-1.05zM27 50h1.05v1.05h-1.05zM28 50h1.05v1.05h-1.05zM8 51h1.05v1.05h-1.05zM9 51h1.05v1.05h-1.05zM10 51h1.05v1.05h-1.05zM11 51h1.05v1.05h-1.05zM31 51h1.05v1.05h-1.05zM8 52h1.05v1.05h-1.05zM9 52h1.05v1.05h-1.05zM10 52h1.05v1.05h-1.05zM9 53h1.05v1.05h-1.05zM10 53h1.05v1.05h-1.05zM48 53h1.05v1.05h-1.05zM49 53h1.05v1.05h-1.05zM50 53h1.05v1.05h-1.05zM51 53h1.05v1.05h-1.05zM9 54h1.05v1.05h-1.05zM9 55h1.05v1.05h-1.05zM9 56h1.05v1.05h-1.05zM9 57h1.05v1.05h-1.05zM9 58h1.05v1.05h-1.05zM9 59h1.05v1.05h-1.05zM9 60h1.05v1.05h-1.05zM9 61h1.05v1.05h-1.05zM9 62h1.05v1.05h-1.05zM9 63h1.05v1.05h-1.05zM9 64h1.05v1.05h-1.05zM9 65h1.05v1.05h-1.05zM8 66h1.05v1.05h-1.05zM8 67h1.05v1.05h-1.05zM8 68h1.05v1.05h-1.05zM8 69h1.05v1.05h-1.05zM8 70h1.05v1.05h-1.05zM8 71h1.05v1.05h-1.05zM8 72h1.05v1.05h-1.05zM8 73h1.05v1.05h-1.05zM8 74h1.05v1.05h-1.05zM8 75h1.05v1.05h-1.05zM8 76h1.05v1.05h-1.05zM8 77h1.05v1.05h-1.05zM8 78h1.05v1.05h-1.05zM8 79h1.05v1.05h-1.05zM8 80h1.05v1.05h-1.05zM8 81h1.05v1.05h-1.05zM8 82h1.05v1.05h-1.05zM8 83h1.05v1.05h-1.05zM8 84h1.05v1.05h-1.05zM8 85h1.05v1.05h-1.05zM8 86h1.05v1.05h-1.05zM8 87h1.05v1.05h-1.05zM8 88h1.05v1.05h-1.05zM8 89h1.05v1.05h-1.05zM8 90h1.05v1.05h-1.05zM8 91h1.05v1.05h-1.05zM8 92h1.05v1.05h-1.05zM8 93h1.05v1.05h-1.05z"/>
<path fill="#f4f6f6" d="M17 6h1.05v1.05h-1.05zM18 6h1.05v1.05h-1.05zM19 6h1.05v1.05h-1.05zM20 6h1.05v1.05h-1.05zM21 6h1.05v1.05h-1.05zM22 6h1.05v1.05h-1.05zM23 6h1.05v1.05h-1.05zM16 7h1.05v1.05h-1.05zM17 7h1.05v1.05h-1.05zM18 7h1.05v1.05h-1.05zM19 7h1.05v1.05h-1.05zM20 7h1.05v1.05h-1.05zM21 7h1.05v1.05h-1.05zM22 7h1.05v1.05h-1.05zM23 7h1.05v1.05h-1.05zM24 7h1.05v1.05h-1.05zM25 7h1.05v1.05h-1.05zM14 8h1.05v1.05h-1.05zM15 8h1.05v1.05h-1.05zM16 8h1.05v1.05h-1.05zM17 8h1.05v1.05h-1.05zM18 8h1.05v1.05h-1.05zM19 8h1.05v1.05h-1.05zM20 8h1.05v1.05h-1.05zM21 8h1.05v1.05h-1.05zM22 8h1.05v1.05h-1.05zM23 8h1.05v1.05h-1.05zM24 8h1.05v1.05h-1.05zM25 8h1.05v1.05h-1.05zM26 8h1.05v1.05h-1.05zM27 8h1.05v1.05h-1.05zM28 8h1.05v1.05h-1.05zM14 9h1.05v1.05h-1.05zM15 9h1.05v1.05h-1.05zM16 9h1.05v1.05h-1.05zM17 9h1.05v1.05h-1.05zM18 9h1.05v1.05h-1.05zM19 9h1.05v1.05h-1.05zM20 9h1.05v1.05h-1.05zM21 9h1.05v1.05h-1.05zM22 9h1.05v1.05h-1.05zM23 9h1.05v1.05h-1.05zM24 9h1.05v1.05h-1.05zM25 9h1.05v1.05h-1.05zM26 9h1.05v1.05h-1.05zM28 9h1.05v1.05h-1.05zM29 9h1.05v1.05h-1.05zM30 9h1.05v1.05h-1.05zM13 10h1.05v1.05h-1.05zM14 10h1.05v1.05h-1.05zM15 10h1.05v1.05h-1.05zM16 10h1.05v1.05h-1.05zM13 11h1.05v1.05h-1.05zM14 11h1.05v1.05h-1.05zM15 11h1.05v1.05h-1.05zM12 12h1.05v1.05h-1.05zM13 12h1.05v1.05h-1.05zM14 12h1.05v1.05h-1.05zM12 13h1.05v1.05h-1.05zM13 13h1.05v1.05h-1.05zM11 14h1.05v1.05h-1.05zM12 14h1.05v1.05h-1.05zM7 15h1.05v1.05h-1.05zM8 15h1.05v1.05h-1.05zM9 15h1.05v1.05h-1.05zM10 15h1.05v1.05h-1.05zM11 15h1.05v1.05h-1.05zM6 16h1.05v1.05h-1.05zM7 16h1.05v1.05h-1.05zM8 16h1.05v1.05h-1.05zM9 16h1.05v1.05h-1.05zM5 17h1.05v1.05h-1.05zM6 17h1.05v1.05h-1.05zM5 18h1.05v1.05h-1.05zM4 19h1.05v1.05h-1.05zM4 20h1.05v1.05h-1.05zM4 21h1.05v1.05h-1.05zM4 22h1.05v1.05h-1.05zM4 23h1.05v1.05h-1.05zM4 24h1.05v1.05h-1.05zM5 25h1.05v1.05h-1.05zM5 26h1.05v1.05h-1.05zM5 27h1.05v1.05h-1.05zM6 27h1.05v1.05h-1.05zM7 27h1.05v1.05h-1.05zM6 28h1.05v1.05h-1.05zM7 28h1.05v1.05h-1.05zM8 28h1.05v1.05h-1.05zM9 28h1.05v1.05h-1.05zM10 28h1.05v1.05h-1.05zM10 29h1.05v1.05h-1.05zM11 29h1.05v1.05h-1.05zM12 29h1.05v1.05h-1.05zM35 29h1.05v1.05h-1.05zM36 29h1.05v1.05h-1.05zM37 29h1.05v1.05h-1.05zM38 29h1.05v1.05h-1.05zM12 30h1.05v1.05h-1.05zM13 30h1.05v1.05h-1.05zM13 31h1.05v1.05h-1.05zM14 31h1.05v1.05h-1.05zM15 31h1.05v1.05h-1.05zM15 32h1.05v1.05h-1.05zM16 32h1.05v1.05h-1.05zM17 32h1.05v1.05h-1.05zM18 32h1.05v1.05h-1.05zM19 32h1.05v1.05h-1.05zM18 33h1.05v1.05h-1.05zM19 33h1.05v1.05h-1.05zM20 33h1.05v1.05h-1.05zM21 34h1.05v1.05h-1.05zM22 34h1.05v1.05h-1.05zM24 35h1.05v1.05h-1.05zM25 35h1.05v1.05h-1.05zM26 35h1.05v1.05h-1.05zM28 36h1.05v1.05h-1.05zM29 38h1.05v1.05h-1.05zM30 40h1.05v1.05h-1.05zM31 49h1.05v1.05h-1.05zM32 50h1.05v1.05h-1.05zM46 52h1.05v1.05h-1.05zM47 52h1.05v1.05h-1.05zM48 52h1.05v1.05h-1.05zM49 52h1.05v1.05h-1.05zM50 52h1.05v1.05h-1.05zM51 52h1.05v1.05h-1.05zM52 52h1.05v1.05h-1.05zM53 52h1.05v1.05h-1.05z"/>
<path fill="#f2f4f6" d="M27 9h1.05v1.05h-1.05zM17 10h1.05v1.05h-1.05zM18 10h1.05v1.05h-1.05zM19 10h1.05v1.05h-1.05zM20 10h1.05v1.05h-1.05zM21 10h1.05v1.05h-1.05zM22 10h1.05v1.05h-1.05zM23 10h1.05v1.05h-1.05zM16 11h1.05v1.05h-1.05zM17 11h1.05v1.05h-1.05zM15 12h1.05v1.05h-1.05zM14 13h1.05v1.05h-1.05zM13 14h1.05v1.05h-1.05zM32 14h1.05v1.05h-1.05zM12 15h1.05v1.05h-1.05zM10 16h1.05v1.05h-1.05zM7 17h1.05v1.05h-1.05zM8 17h1.05v1.05h-1.05zM6 18h1.05v1.05h-1.05zM5 19h1.05v1.05h-1.05zM5 20h1.05v1.05h-1.05zM34 20h1.05v1.05h-1.05zM5 24h1.05v1.05h-1.05zM6 26h1.05v1.05h-1.05zM7 26h1.05v1.05h-1.05zM8 27h1.05v1.05h-1.05zM9 27h1.05v1.05h-1.05zM11 28h1.05v1.05h-1.05zM14 30h1.05v1.05h-1.05zM38 30h1.05v1.05h-1.05zM39 30h1.05v1.05h-1.05zM16 31h1.05v1.05h-1.05zM51 32h1.05v1.05h-1.05zM52 32h1.05v1.05h-1.05zM53 32h1.05v1.05h-1.05zM21 33h1.05v1.05h-1.05zM23 34h1.05v1.05h-1.05zM27 35h1.05v1.05h-1.05zM28 35h1.05v1.05h-1.05zM30 39h1.05v1.05h-1.05zM31 41h1.05v1.05h-1.05zM31 42h1.05v1.05h-1.05zM31 48h1.05v1.05h-1.05zM33 50h1.05v1.05h-1.05z"/>
<path fill="#f0f4f6" d="M24 10h1.05v1.05h-1.05zM30 10h1.05v1.05h-1.05zM18 11h1.05v1.05h-1.05zM19 11h1.05v1.05h-1.05zM20 11h1.05v1.05h-1.05zM21 11h1.05v1.05h-1.05zM22 11h1.05v1.05h-1.05zM31 11h1.05v1.05h-1.05zM16 12h1.05v1.05h-1.05zM15 13h1.05v1.05h-1.05zM11 16h1.05v1.05h-1.05zM9 17h1.05v1.05h-1.05zM7 18h1.05v1.05h-1.05zM6 19h1.05v1.05h-1.05zM5 21h1.05v1.05h-1.05zM5 22h1.05v1.05h-1.05zM5 23h1.05v1.05h-1.05zM6 25h1.05v1.05h-1.05zM8 26h1.05v1.05h-1.05zM10 27h1.05v1.05h-1.05zM34 27h1.05v1.05h-1.05zM12 28h1.05v1.05h-1.05zM34 28h1.05v1.05h-1.05zM13 29h1.05v1.05h-1.05zM15 30h1.05v1.05h-1.05zM37 30h1.05v1.05h-1.05zM17 31h1.05v1.05h-1.05zM18 31h1.05v1.05h-1.05zM19 31h1.05v1.05h-1.05zM41 31h1.05v1.05h-1.05zM20 32h1.05v1.05h-1.05zM49 32h1.05v1.05h-1.05zM50 32h1.05v1.05h-1.05zM29 37h1.05v1.05h-1.05zM31 43h1.05v1.05h-1.05zM31 44h1.05v1.05h-1.05zM31 46h1.05v1.05h-1.05zM31 47h1.05v1.05h-1.05zM32 49h1.05v1.05h-1.05zM35 51h1.05v1.05h-1.05zM36 51h1.05v1.05h-1.05zM37 51h1.05v1.05h-1.05zM38 51h1.05v1.05h-1.05z"/>
<path fill="#eef2f4" d="M25 10h1.05v1.05h-1.05zM29 10h1.05v1.05h-1.05zM23 11h1.05v1.05h-1.05zM17 13h1.05v1.05h-1.05zM15 14h1.05v1.05h-1.05zM12 16h1.05v1.05h-1.05zM11 17h1.05v1.05h-1.05zM7 19h1.05v1.05h-1.05zM6 20h1.05v1.05h-1.05zM6 21h1.05v1.05h-1.05zM6 23h1.05v1.05h-1.05zM34 24h1.05v1.05h-1.05zM8 25h1.05v1.05h-1.05zM10 26h1.05v1.05h-1.05zM13 28h1.05v1.05h-1.05zM15 29h1.05v1.05h-1.05zM17 30h1.05v1.05h-1.05zM18 30h1.05v1.05h-1.05zM19 30h1.05v1.05h-1.05zM35 30h1.05v1.05h-1.05zM20 31h1.05v1.05h-1.05zM40 31h1.05v1.05h-1.05zM45 32h1.05v1.05h-1.05zM46 32h1.05v1.05h-1.05zM22 33h1.05v1.05h-1.05zM26 34h1.05v1.05h-1.05zM32 48h1.05v1.05h-1.05zM39 51h1.05v1.05h-1.05z"/>
<path fill="#ecf2f4" d="M26 10h1.05v1.05h-1.05zM27 10h1.05v1.05h-1.05zM28 10h1.05v1.05h-1.05zM18 13h1.05v1.05h-1.05zM19 13h1.05v1.05h-1.05zM20 13h1.05v1.05h-1.05zM16 14h1.05v1.05h-1.05zM14 15h1.05v1.05h-1.05zM9 18h1.05v1.05h-1.05zM6 22h1.05v1.05h-1.05zM34 23h1.05v1.05h-1.05zM7 24h1.05v1.05h-1.05zM12 27h1.05v1.05h-1.05zM34 29h1.05v1.05h-1.05zM39 31h1.05v1.05h-1.05zM21 32h1.05v1.05h-1.05zM44 32h1.05v1.05h-1.05zM27 34h1.05v1.05h-1.05zM29 36h1.05v1.05h-1.05zM32 47h1.05v1.05h-1.05zM33 49h1.05v1.05h-1.05zM34 50h1.05v1.05h-1.05zM40 51h1.05v1.05h-1.05zM41 51h1.05v1.05h-1.05z"/>
<path fill="#eaf0f4" d="M24 11h1.05v1.05h-1.05zM18 14h1.05v1.05h-1.05zM19 14h1.05v1.05h-1.05zM20 14h1.05v1.05h-1.05zM15 15h1.05v1.05h-1.05zM12 17h1.05v1.05h-1.05zM9 19h1.05v1.05h-1.05zM8 20h1.05v1.05h-1.05zM7 21h1.05v1.05h-1.05zM7 22h1.05v1.05h-1.05zM8 24h1.05v1.05h-1.05zM10 25h1.05v1.05h-1.05zM13 27h1.05v1.05h-1.05zM17 29h1.05v1.05h-1.05zM18 29h1.05v1.05h-1.05zM19 29h1.05v1.05h-1.05zM20 30h1.05v1.05h-1.05zM38 31h1.05v1.05h-1.05zM43 32h1.05v1.05h-1.05zM31 39h1.05v1.05h-1.05zM32 44h1.05v1.05h-1.05zM32 45h1.05v1.05h-1.05zM46 51h1.05v1.05h-1.05zM47 51h1.05v1.05h-1.05zM48 51h1.05v1.05h-1.05zM49 51h1.05v1.05h-1.05zM50 51h1.05v1.05h-1.05z"/>
<path fill="#e6eef2" d="M25 11h1.05v1.05h-1.05zM23 12h1.05v1.05h-1.05zM22 13h1.05v1.05h-1.05zM17 15h1.05v1.05h-1.05zM18 15h1.05v1.05h-1.05zM19 15h1.05v1.05h-1.05zM15 16h1.05v1.05h-1.05zM13 17h1.05v1.05h-1.05zM12 18h1.05v1.05h-1.05zM10 19h1.05v1.05h-1.05zM9 20h1.05v1.05h-1.05zM8 21h1.05v1.05h-1.05zM8 22h1.05v1.05h-1.05zM9 23h1.05v1.05h-1.05zM10 24h1.05v1.05h-1.05zM11 25h1.05v1.05h-1.05zM14 27h1.05v1.05h-1.05zM16 28h1.05v1.05h-1.05zM20 29h1.05v1.05h-1.05zM34 30h1.05v1.05h-1.05zM37 31h1.05v1.05h-1.05zM41 32h1.05v1.05h-1.05zM42 32h1.05v1.05h-1.05zM25 33h1.05v1.05h-1.05zM33 47h1.05v1.05h-1.05z"/>
<path fill="#e2ecf2" d="M26 11h1.05v1.05h-1.05zM27 11h1.05v1.05h-1.05zM30 12h1.05v1.05h-1.05zM31 13h1.05v1.05h-1.05zM20 15h1.05v1.05h-1.05zM16 16h1.05v1.05h-1.05zM14 17h1.05v1.05h-1.05zM10 21h1.05v1.05h-1.05zM10 22h1.05v1.05h-1.05zM10 23h1.05v1.05h-1.05zM11 24h1.05v1.05h-1.05zM12 25h1.05v1.05h-1.05zM15 27h1.05v1.05h-1.05zM33 27h1.05v1.05h-1.05zM19 28h1.05v1.05h-1.05zM22 31h1.05v1.05h-1.05zM35 31h1.05v1.05h-1.05zM23 32h1.05v1.05h-1.05zM39 32h1.05v1.05h-1.05zM26 33h1.05v1.05h-1.05zM51 33h1.05v1.05h-1.05zM52 33h1.05v1.05h-1.05zM53 33h1.05v1.05h-1.05zM29 34h1.05v1.05h-1.05zM33 41h1.05v1.05h-1.05zM33 42h1.05v1.05h-1.05zM33 43h1.05v1.05h-1.05zM33 44h1.05v1.05h-1.05zM33 45h1.05v1.05h-1.05zM33 46h1.05v1.05h-1.05zM35 50h1.05v1.05h-1.05zM36 50h1.05v1.05h-1.05zM37 50h1.05v1.05h-1.05zM38 50h1.05v1.05h-1.05zM39 50h1.05v1.05h-1.05z"/>
<path fill="#e4eef2" d="M28 11h1.05v1.05h-1.05zM21 14h1.05v1.05h-1.05zM11 19h1.05v1.05h-1.05zM10 20h1.05v1.05h-1.05zM9 21h1.05v1.05h-1.05zM9 22h1.05v1.05h-1.05zM13 26h1.05v1.05h-1.05zM17 28h1.05v1.05h-1.05zM18 28h1.05v1.05h-1.05zM21 30h1.05v1.05h-1.05zM36 31h1.05v1.05h-1.05zM40 32h1.05v1.05h-1.05zM30 37h1.05v1.05h-1.05zM34 49h1.05v1.05h-1.05z"/>
<path fill="#e8f0f4" d="M29 11h1.05v1.05h-1.05zM16 15h1.05v1.05h-1.05zM14 16h1.05v1.05h-1.05zM11 18h1.05v1.05h-1.05zM8 23h1.05v1.05h-1.05zM9 24h1.05v1.05h-1.05zM12 26h1.05v1.05h-1.05zM15 28h1.05v1.05h-1.05zM21 31h1.05v1.05h-1.05zM22 32h1.05v1.05h-1.05zM24 33h1.05v1.05h-1.05zM29 35h1.05v1.05h-1.05zM32 40h1.05v1.05h-1.05zM33 48h1.05v1.05h-1.05zM51 51h1.05v1.05h-1.05zM52 51h1.05v1.05h-1.05zM53 51h1.05v1.05h-1.05z"/>
<path fill="#ecf0f4" d="M30 11h1.05v1.05h-1.05zM22 12h1.05v1.05h-1.05zM31 12h1.05v1.05h-1.05zM21 13h1.05v1.05h-1.05zM17 14h1.05v1.05h-1.05zM13 16h1.05v1.05h-1.05zM10 18h1.05v1.05h-1.05zM8 19h1.05v1.05h-1.05zM7 20h1.05v1.05h-1.05zM34 21h1.05v1.05h-1.05zM34 22h1.05v1.05h-1.05zM7 23h1.05v1.05h-1.05zM9 25h1.05v1.05h-1.05zM11 26h1.05v1.05h-1.05zM14 28h1.05v1.05h-1.05zM16 29h1.05v1.05h-1.05zM23 33h1.05v1.05h-1.05zM28 34h1.05v1.05h-1.05zM30 38h1.05v1.05h-1.05zM32 41h1.05v1.05h-1.05zM32 42h1.05v1.05h-1.05zM32 43h1.05v1.05h-1.05zM32 46h1.05v1.05h-1.05zM42 51h1.05v1.05h-1.05zM43 51h1.05v1.05h-1.05zM44 51h1.05v1.05h-1.05zM45 51h1.05v1.05h-1.05z"/>
<path fill="#f0f2f4" d="M17 12h1.05v1.05h-1.05zM18 12h1.05v1.05h-1.05zM19 12h1.05v1.05h-1.05zM20 12h1.05v1.05h-1.05zM21 12h1.05v1.05h-1.05zM16 13h1.05v1.05h-1.05zM14 14h1.05v1.05h-1.05zM13 15h1.05v1.05h-1.05zM10 17h1.05v1.05h-1.05zM33 17h1.05v1.05h-1.05zM8 18h1.05v1.05h-1.05zM6 24h1.05v1.05h-1.05zM7 25h1.05v1.05h-1.05zM34 25h1.05v1.05h-1.05zM9 26h1.05v1.05h-1.05zM34 26h1.05v1.05h-1.05zM11 27h1.05v1.05h-1.05zM14 29h1.05v1.05h-1.05zM16 30h1.05v1.05h-1.05zM36 30h1.05v1.05h-1.05zM47 32h1.05v1.05h-1.05zM48 32h1.05v1.05h-1.05zM24 34h1.05v1.05h-1.05zM25 34h1.05v1.05h-1.05zM31 40h1.05v1.05h-1.05zM31 45h1.05v1.05h-1.05z"/>
<path fill="#e0eaf0" d="M24 12h1.05v1.05h-1.05zM17 16h1.05v1.05h-1.05zM13 18h1.05v1.05h-1.05zM12 19h1.05v1.05h-1.05zM11 20h1.05v1.05h-1.05zM14 26h1.05v1.05h-1.05zM33 26h1.05v1.05h-1.05zM16 27h1.05v1.05h-1.05zM20 28h1.05v1.05h-1.05zM33 28h1.05v1.05h-1.05zM27 33h1.05v1.05h-1.05zM28 33h1.05v1.05h-1.05zM49 33h1.05v1.05h-1.05zM50 33h1.05v1.05h-1.05zM32 39h1.05v1.05h-1.05zM40 50h1.05v1.05h-1.05zM41 50h1.05v1.05h-1.05z"/>
<path fill="#d8e8f0" d="M25 12h1.05v1.05h-1.05zM20 16h1.05v1.05h-1.05zM17 17h1.05v1.05h-1.05zM13 19h1.05v1.05h-1.05zM12 23h1.05v1.05h-1.05zM33 23h1.05v1.05h-1.05zM22 30h1.05v1.05h-1.05zM29 33h1.05v1.05h-1.05z"/>
<path fill="#d4e6ee" d="M26 12h1.05v1.05h-1.05zM28 12h1.05v1.05h-1.05zM30 13h1.05v1.05h-1.05zM17 26h1.05v1.05h-1.05zM20 27h1.05v1.05h-1.05zM21 28h1.05v1.05h-1.05zM46 34h1.05v1.05h-1.05zM47 34h1.05v1.05h-1.05zM48 34h1.05v1.05h-1.05zM30 35h1.05v1.05h-1.05zM33 39h1.05v1.05h-1.05zM37 49h1.05v1.05h-1.05zM38 49h1.05v1.05h-1.05z"/>
<path fill="#d4e4ee" d="M27 12h1.05v1.05h-1.05zM14 19h1.05v1.05h-1.05zM13 20h1.05v1.05h-1.05zM26 32h1.05v1.05h-1.05zM39 33h1.05v1.05h-1.05zM44 34h1.05v1.05h-1.05zM45 34h1.05v1.05h-1.05zM34 46h1.05v1.05h-1.05zM39 49h1.05v1.05h-1.05zM40 49h1.05v1.05h-1.05zM41 49h1.05v1.05h-1.05z"/>
<path fill="#dae8f0" d="M29 12h1.05v1.05h-1.05zM22 14h1.05v1.05h-1.05zM16 17h1.05v1.05h-1.05zM33 19h1.05v1.05h-1.05zM12 20h1.05v1.05h-1.05zM33 24h1.05v1.05h-1.05zM15 26h1.05v1.05h-1.05zM34 31h1.05v1.05h-1.05zM41 33h1.05v1.05h-1.05z"/>
<path fill="#f8d6c4" d="M32 12h1.05v1.05h-1.05zM35 21h1.05v1.05h-1.05zM36 23h1.05v1.05h-1.05zM31 55h1.05v1.05h-1.05zM35 55h1.05v1.05h-1.05zM25 57h1.05v1.05h-1.05zM33 57h1.05v1.05h-1.05zM39 58h1.05v1.05h-1.05zM40 61h1.05v1.05h-1.05zM41 64h1.05v1.05h-1.05zM23 66h1.05v1.05h-1.05zM41 74h1.05v1.05h-1.05zM41 75h1.05v1.05h-1.05zM41 76h1.05v1.05h-1.05zM41 77h1.05v1.05h-1.05zM41 78h1.05v1.05h-1.05zM41 79h1.05v1.05h-1.05zM41 80h1.05v1.05h-1.05zM41 81h1.05v1.05h-1.05zM41 82h1.05v1.05h-1.05zM41 83h1.05v1.05h-1.05zM41 84h1.05v1.05h-1.05zM41 85h1.05v1.05h-1.05zM41 86h1.05v1.05h-1.05zM41 87h1.05v1.05h-1.05zM41 88h1.05v1.05h-1.05zM41 89h1.05v1.05h-1.05zM41 90h1.05v1.05h-1.05zM41 91h1.05v1.05h-1.05zM41 92h1.05v1.05h-1.05zM41 93h1.05v1.05h-1.05z"/>
<path fill="#dce8f0" d="M23 13h1.05v1.05h-1.05zM21 15h1.05v1.05h-1.05zM14 18h1.05v1.05h-1.05zM18 27h1.05v1.05h-1.05zM19 27h1.05v1.05h-1.05zM33 29h1.05v1.05h-1.05zM24 32h1.05v1.05h-1.05zM42 33h1.05v1.05h-1.05zM30 36h1.05v1.05h-1.05zM51 50h1.05v1.05h-1.05zM52 50h1.05v1.05h-1.05zM53 50h1.05v1.05h-1.05z"/>
<path fill="#d2e4ec" d="M24 13h1.05v1.05h-1.05zM16 18h1.05v1.05h-1.05zM13 23h1.05v1.05h-1.05zM15 25h1.05v1.05h-1.05zM18 26h1.05v1.05h-1.05zM19 26h1.05v1.05h-1.05zM36 32h1.05v1.05h-1.05zM30 34h1.05v1.05h-1.05zM42 34h1.05v1.05h-1.05zM43 34h1.05v1.05h-1.05zM34 41h1.05v1.05h-1.05zM34 42h1.05v1.05h-1.05zM42 49h1.05v1.05h-1.05zM43 49h1.05v1.05h-1.05zM44 49h1.05v1.05h-1.05z"/>
<path fill="#c4dce8" d="M25 13h1.05v1.05h-1.05zM19 18h1.05v1.05h-1.05zM15 24h1.05v1.05h-1.05zM17 25h1.05v1.05h-1.05zM20 26h1.05v1.05h-1.05zM32 26h1.05v1.05h-1.05zM21 27h1.05v1.05h-1.05zM32 30h1.05v1.05h-1.05zM42 36h1.05v1.05h-1.05zM43 36h1.05v1.05h-1.05zM42 37h1.05v1.05h-1.05zM43 37h1.05v1.05h-1.05zM44 37h1.05v1.05h-1.05zM49 38h1.05v1.05h-1.05zM50 38h1.05v1.05h-1.05zM51 38h1.05v1.05h-1.05zM52 38h1.05v1.05h-1.05zM53 38h1.05v1.05h-1.05zM37 48h1.05v1.05h-1.05zM38 48h1.05v1.05h-1.05z"/>
<path fill="#bcd8e6" d="M26 13h1.05v1.05h-1.05zM15 20h1.05v1.05h-1.05zM19 25h1.05v1.05h-1.05zM25 31h1.05v1.05h-1.05zM40 38h1.05v1.05h-1.05zM43 48h1.05v1.05h-1.05zM44 48h1.05v1.05h-1.05z"/>
<path fill="#bad6e4" d="M27 13h1.05v1.05h-1.05zM24 14h1.05v1.05h-1.05zM17 19h1.05v1.05h-1.05zM16 24h1.05v1.05h-1.05zM22 28h1.05v1.05h-1.05zM40 35h1.05v1.05h-1.05zM40 37h1.05v1.05h-1.05zM33 38h1.05v1.05h-1.05zM42 39h1.05v1.05h-1.05zM43 39h1.05v1.05h-1.05zM45 48h1.05v1.05h-1.05zM46 48h1.05v1.05h-1.05zM47 48h1.05v1.05h-1.05z"/>
<path fill="#bed8e6" d="M28 13h1.05v1.05h-1.05zM32 25h1.05v1.05h-1.05zM32 31h1.05v1.05h-1.05zM34 32h1.05v1.05h-1.05zM39 34h1.05v1.05h-1.05zM41 36h1.05v1.05h-1.05zM41 38h1.05v1.05h-1.05zM41 48h1.05v1.05h-1.05zM42 48h1.05v1.05h-1.05z"/>
<path fill="#c8deea" d="M29 13h1.05v1.05h-1.05zM22 15h1.05v1.05h-1.05zM31 15h1.05v1.05h-1.05zM18 18h1.05v1.05h-1.05zM14 20h1.05v1.05h-1.05zM32 29h1.05v1.05h-1.05zM29 32h1.05v1.05h-1.05zM35 32h1.05v1.05h-1.05zM38 33h1.05v1.05h-1.05zM43 35h1.05v1.05h-1.05zM44 35h1.05v1.05h-1.05zM45 35h1.05v1.05h-1.05zM47 36h1.05v1.05h-1.05zM48 36h1.05v1.05h-1.05zM49 36h1.05v1.05h-1.05zM49 37h1.05v1.05h-1.05zM50 37h1.05v1.05h-1.05zM51 37h1.05v1.05h-1.05zM52 37h1.05v1.05h-1.05zM53 37h1.05v1.05h-1.05z"/>
<path fill="#cae0ea" d="M23 14h1.05v1.05h-1.05zM21 16h1.05v1.05h-1.05zM20 17h1.05v1.05h-1.05zM15 19h1.05v1.05h-1.05zM16 25h1.05v1.05h-1.05zM24 31h1.05v1.05h-1.05zM33 31h1.05v1.05h-1.05zM46 35h1.05v1.05h-1.05zM47 35h1.05v1.05h-1.05zM50 36h1.05v1.05h-1.05zM51 36h1.05v1.05h-1.05zM52 36h1.05v1.05h-1.05zM53 36h1.05v1.05h-1.05z"/>
<path fill="#a8ccde" d="M25 14h1.05v1.05h-1.05zM30 15h1.05v1.05h-1.05zM18 20h1.05v1.05h-1.05zM16 22h1.05v1.05h-1.05zM17 23h1.05v1.05h-1.05zM19 24h1.05v1.05h-1.05zM36 33h1.05v1.05h-1.05zM31 35h1.05v1.05h-1.05zM37 41h1.05v1.05h-1.05zM36 42h1.05v1.05h-1.05zM35 46h1.05v1.05h-1.05zM44 47h1.05v1.05h-1.05zM45 47h1.05v1.05h-1.05z"/>
<path fill="#9ac4da" d="M26 14h1.05v1.05h-1.05zM24 15h1.05v1.05h-1.05zM19 23h1.05v1.05h-1.05zM24 29h1.05v1.05h-1.05zM35 33h1.05v1.05h-1.05zM37 34h1.05v1.05h-1.05zM42 42h1.05v1.05h-1.05zM43 42h1.05v1.05h-1.05zM38 43h1.05v1.05h-1.05zM37 44h1.05v1.05h-1.05zM38 45h1.05v1.05h-1.05zM39 45h1.05v1.05h-1.05zM43 46h1.05v1.05h-1.05zM44 46h1.05v1.05h-1.05z"/>
<path fill="#98c2d8" d="M27 14h1.05v1.05h-1.05zM22 17h1.05v1.05h-1.05zM21 18h1.05v1.05h-1.05zM44 42h1.05v1.05h-1.05zM45 42h1.05v1.05h-1.05zM39 43h1.05v1.05h-1.05zM40 43h1.05v1.05h-1.05zM38 44h1.05v1.05h-1.05zM40 45h1.05v1.05h-1.05zM45 46h1.05v1.05h-1.05zM46 46h1.05v1.05h-1.05z"/>
<path fill="#9cc6da" d="M28 14h1.05v1.05h-1.05zM20 19h1.05v1.05h-1.05zM18 22h1.05v1.05h-1.05zM30 30h1.05v1.05h-1.05zM37 37h1.05v1.05h-1.05zM51 41h1.05v1.05h-1.05zM52 41h1.05v1.05h-1.05zM53 41h1.05v1.05h-1.05zM39 42h1.05v1.05h-1.05zM40 42h1.05v1.05h-1.05zM41 42h1.05v1.05h-1.05zM37 43h1.05v1.05h-1.05zM37 45h1.05v1.05h-1.05zM42 46h1.05v1.05h-1.05z"/>
<path fill="#accee0" d="M29 14h1.05v1.05h-1.05zM17 20h1.05v1.05h-1.05zM27 31h1.05v1.05h-1.05zM29 31h1.05v1.05h-1.05zM32 32h1.05v1.05h-1.05zM34 38h1.05v1.05h-1.05zM38 40h1.05v1.05h-1.05zM44 40h1.05v1.05h-1.05zM45 40h1.05v1.05h-1.05zM46 40h1.05v1.05h-1.05zM47 40h1.05v1.05h-1.05zM48 40h1.05v1.05h-1.05zM49 40h1.05v1.05h-1.05zM35 42h1.05v1.05h-1.05zM41 47h1.05v1.05h-1.05z"/>
<path fill="#c0dae8" d="M30 14h1.05v1.05h-1.05zM32 18h1.05v1.05h-1.05zM16 19h1.05v1.05h-1.05zM14 21h1.05v1.05h-1.05zM14 22h1.05v1.05h-1.05zM18 25h1.05v1.05h-1.05zM30 32h1.05v1.05h-1.05zM41 35h1.05v1.05h-1.05zM41 37h1.05v1.05h-1.05zM42 38h1.05v1.05h-1.05zM43 38h1.05v1.05h-1.05zM44 38h1.05v1.05h-1.05zM45 38h1.05v1.05h-1.05zM46 38h1.05v1.05h-1.05zM47 38h1.05v1.05h-1.05zM48 38h1.05v1.05h-1.05zM39 48h1.05v1.05h-1.05zM40 48h1.05v1.05h-1.05z"/>
<path fill="#d6e6ee" d="M31 14h1.05v1.05h-1.05zM32 16h1.05v1.05h-1.05zM18 17h1.05v1.05h-1.05zM19 17h1.05v1.05h-1.05zM15 18h1.05v1.05h-1.05zM12 22h1.05v1.05h-1.05zM13 24h1.05v1.05h-1.05zM16 26h1.05v1.05h-1.05zM49 34h1.05v1.05h-1.05zM50 34h1.05v1.05h-1.05zM51 34h1.05v1.05h-1.05zM35 49h1.05v1.05h-1.05zM36 49h1.05v1.05h-1.05z"/>
<path fill="#b2d2e2" d="M23 15h1.05v1.05h-1.05zM31 16h1.05v1.05h-1.05zM16 20h1.05v1.05h-1.05zM15 22h1.05v1.05h-1.05zM17 24h1.05v1.05h-1.05zM31 30h1.05v1.05h-1.05zM38 38h1.05v1.05h-1.05zM35 39h1.05v1.05h-1.05zM36 39h1.05v1.05h-1.05zM38 39h1.05v1.05h-1.05zM36 40h1.05v1.05h-1.05zM35 41h1.05v1.05h-1.05zM36 47h1.05v1.05h-1.05zM37 47h1.05v1.05h-1.05z"/>
<path fill="#7eb2ce" d="M25 15h1.05v1.05h-1.05zM20 23h1.05v1.05h-1.05zM36 34h1.05v1.05h-1.05zM35 37h1.05v1.05h-1.05z"/>
<path fill="#6ca6c6" d="M26 15h1.05v1.05h-1.05zM31 23h1.05v1.05h-1.05zM28 29h1.05v1.05h-1.05z"/>
<path fill="#6aa4c6" d="M27 15h1.05v1.05h-1.05zM23 17h1.05v1.05h-1.05zM31 20h1.05v1.05h-1.05zM22 25h1.05v1.05h-1.05zM27 29h1.05v1.05h-1.05z"/>
<path fill="#72aac8" d="M28 15h1.05v1.05h-1.05zM22 18h1.05v1.05h-1.05zM20 22h1.05v1.05h-1.05zM26 29h1.05v1.05h-1.05zM32 35h1.05v1.05h-1.05z"/>
<path fill="#88b8d2" d="M29 15h1.05v1.05h-1.05zM31 18h1.05v1.05h-1.05zM33 33h1.05v1.05h-1.05zM37 36h1.05v1.05h-1.05zM49 43h1.05v1.05h-1.05zM50 43h1.05v1.05h-1.05zM46 44h1.05v1.05h-1.05zM47 44h1.05v1.05h-1.05zM48 45h1.05v1.05h-1.05z"/>
<path fill="#deeaf0" d="M32 15h1.05v1.05h-1.05zM18 16h1.05v1.05h-1.05zM19 16h1.05v1.05h-1.05zM15 17h1.05v1.05h-1.05zM33 18h1.05v1.05h-1.05zM11 21h1.05v1.05h-1.05zM11 22h1.05v1.05h-1.05zM11 23h1.05v1.05h-1.05zM12 24h1.05v1.05h-1.05zM13 25h1.05v1.05h-1.05zM33 25h1.05v1.05h-1.05zM17 27h1.05v1.05h-1.05zM21 29h1.05v1.05h-1.05zM38 32h1.05v1.05h-1.05zM43 33h1.05v1.05h-1.05zM44 33h1.05v1.05h-1.05zM45 33h1.05v1.05h-1.05zM46 33h1.05v1.05h-1.05zM47 33h1.05v1.05h-1.05zM48 33h1.05v1.05h-1.05zM31 38h1.05v1.05h-1.05zM33 40h1.05v1.05h-1.05zM34 48h1.05v1.05h-1.05zM42 50h1.05v1.05h-1.05zM43 50h1.05v1.05h-1.05zM44 50h1.05v1.05h-1.05zM45 50h1.05v1.05h-1.05zM46 50h1.05v1.05h-1.05zM47 50h1.05v1.05h-1.05zM48 50h1.05v1.05h-1.05zM49 50h1.05v1.05h-1.05zM50 50h1.05v1.05h-1.05z"/>
<path fill="#f6d0bc" d="M33 15h1.05v1.05h-1.05zM34 18h1.05v1.05h-1.05zM29 55h1.05v1.05h-1.05zM30 55h1.05v1.05h-1.05zM26 56h1.05v1.05h-1.05zM31 56h1.05v1.05h-1.05zM32 58h1.05v1.05h-1.05zM34 58h1.05v1.05h-1.05zM24 63h1.05v1.05h-1.05zM40 64h1.05v1.05h-1.05zM23 69h1.05v1.05h-1.05zM40 69h1.05v1.05h-1.05zM40 70h1.05v1.05h-1.05zM40 71h1.05v1.05h-1.05zM40 72h1.05v1.05h-1.05zM40 73h1.05v1.05h-1.05zM40 74h1.05v1.05h-1.05z"/>
<path fill="#b0d0e2" d="M22 16h1.05v1.05h-1.05zM21 17h1.05v1.05h-1.05zM23 29h1.05v1.05h-1.05zM26 31h1.05v1.05h-1.05zM30 31h1.05v1.05h-1.05zM39 35h1.05v1.05h-1.05zM39 36h1.05v1.05h-1.05zM37 39h1.05v1.05h-1.05zM38 47h1.05v1.05h-1.05z"/>
<path fill="#94c0d6" d="M23 16h1.05v1.05h-1.05zM20 24h1.05v1.05h-1.05zM31 26h1.05v1.05h-1.05zM26 30h1.05v1.05h-1.05zM32 33h1.05v1.05h-1.05zM34 33h1.05v1.05h-1.05zM33 37h1.05v1.05h-1.05zM46 42h1.05v1.05h-1.05zM47 42h1.05v1.05h-1.05zM48 42h1.05v1.05h-1.05zM41 43h1.05v1.05h-1.05zM39 44h1.05v1.05h-1.05zM40 44h1.05v1.05h-1.05zM41 45h1.05v1.05h-1.05zM47 46h1.05v1.05h-1.05zM48 46h1.05v1.05h-1.05z"/>
<path fill="#70a8c8" d="M24 16h1.05v1.05h-1.05zM21 24h1.05v1.05h-1.05zM30 27h1.05v1.05h-1.05zM36 36h1.05v1.05h-1.05z"/>
<path fill="#5494bc" d="M25 16h1.05v1.05h-1.05z"/>
<path fill="#4c8eb8" d="M26 16h1.05v1.05h-1.05zM27 16h1.05v1.05h-1.05zM29 17h1.05v1.05h-1.05zM22 24h1.05v1.05h-1.05zM27 28h1.05v1.05h-1.05z"/>
<path fill="#5092ba" d="M28 16h1.05v1.05h-1.05zM30 18h1.05v1.05h-1.05zM22 19h1.05v1.05h-1.05zM21 21h1.05v1.05h-1.05zM21 22h1.05v1.05h-1.05zM30 25h1.05v1.05h-1.05zM26 28h1.05v1.05h-1.05zM28 28h1.05v1.05h-1.05zM34 35h1.05v1.05h-1.05zM35 35h1.05v1.05h-1.05z"/>
<path fill="#64a0c2" d="M29 16h1.05v1.05h-1.05zM31 21h1.05v1.05h-1.05zM33 34h1.05v1.05h-1.05z"/>
<path fill="#86b6d0" d="M30 16h1.05v1.05h-1.05zM31 25h1.05v1.05h-1.05zM23 27h1.05v1.05h-1.05zM25 29h1.05v1.05h-1.05zM37 35h1.05v1.05h-1.05zM32 36h1.05v1.05h-1.05zM34 37h1.05v1.05h-1.05zM51 43h1.05v1.05h-1.05zM52 43h1.05v1.05h-1.05zM53 43h1.05v1.05h-1.05zM48 44h1.05v1.05h-1.05zM49 44h1.05v1.05h-1.05zM49 45h1.05v1.05h-1.05zM50 45h1.05v1.05h-1.05z"/>
<path fill="#4c8cb8" d="M24 17h1.05v1.05h-1.05z"/>
<path fill="#4482b0" d="M25 17h1.05v1.05h-1.05zM28 17h1.05v1.05h-1.05zM22 20h1.05v1.05h-1.05zM27 27h1.05v1.05h-1.05z"/>
<path fill="#3e7aac" d="M26 17h1.05v1.05h-1.05zM27 17h1.05v1.05h-1.05zM24 18h1.05v1.05h-1.05zM25 26h1.05v1.05h-1.05z"/>
<path fill="#66a2c4" d="M30 17h1.05v1.05h-1.05zM31 22h1.05v1.05h-1.05zM34 34h1.05v1.05h-1.05zM35 34h1.05v1.05h-1.05zM36 35h1.05v1.05h-1.05zM33 36h1.05v1.05h-1.05z"/>
<path fill="#9ec6da" d="M31 17h1.05v1.05h-1.05zM19 20h1.05v1.05h-1.05zM18 21h1.05v1.05h-1.05zM23 28h1.05v1.05h-1.05zM47 41h1.05v1.05h-1.05zM48 41h1.05v1.05h-1.05zM49 41h1.05v1.05h-1.05zM50 41h1.05v1.05h-1.05zM38 42h1.05v1.05h-1.05zM36 44h1.05v1.05h-1.05zM36 45h1.05v1.05h-1.05zM41 46h1.05v1.05h-1.05z"/>
<path fill="#cce0ec" d="M32 17h1.05v1.05h-1.05zM17 18h1.05v1.05h-1.05zM13 22h1.05v1.05h-1.05zM22 29h1.05v1.05h-1.05zM30 33h1.05v1.05h-1.05zM41 34h1.05v1.05h-1.05zM48 35h1.05v1.05h-1.05zM49 35h1.05v1.05h-1.05zM31 37h1.05v1.05h-1.05zM32 38h1.05v1.05h-1.05zM34 44h1.05v1.05h-1.05zM49 49h1.05v1.05h-1.05zM50 49h1.05v1.05h-1.05zM51 49h1.05v1.05h-1.05zM52 49h1.05v1.05h-1.05zM53 49h1.05v1.05h-1.05z"/>
<path fill="#b6d4e2" d="M20 18h1.05v1.05h-1.05zM32 19h1.05v1.05h-1.05zM15 21h1.05v1.05h-1.05zM31 36h1.05v1.05h-1.05zM39 37h1.05v1.05h-1.05zM39 39h1.05v1.05h-1.05zM35 47h1.05v1.05h-1.05zM51 48h1.05v1.05h-1.05zM52 48h1.05v1.05h-1.05zM53 48h1.05v1.05h-1.05z"/>
<path fill="#4a8ab6" d="M23 18h1.05v1.05h-1.05zM30 19h1.05v1.05h-1.05zM30 24h1.05v1.05h-1.05zM25 27h1.05v1.05h-1.05z"/>
<path fill="#366ea6" d="M25 18h1.05v1.05h-1.05zM28 18h1.05v1.05h-1.05z"/>
<path fill="#30649a" d="M26 18h1.05v1.05h-1.05zM26 25h1.05v1.05h-1.05zM27 25h1.05v1.05h-1.05z"/>
<path fill="#2e6298" d="M27 18h1.05v1.05h-1.05zM29 22h1.05v1.05h-1.05z"/>
<path fill="#4280b0" d="M29 18h1.05v1.05h-1.05zM30 21h1.05v1.05h-1.05zM30 22h1.05v1.05h-1.05zM29 25h1.05v1.05h-1.05z"/>
<path fill="#b8d4e4" d="M18 19h1.05v1.05h-1.05zM15 23h1.05v1.05h-1.05zM32 24h1.05v1.05h-1.05zM31 31h1.05v1.05h-1.05zM31 32h1.05v1.05h-1.05zM37 33h1.05v1.05h-1.05zM40 36h1.05v1.05h-1.05zM39 38h1.05v1.05h-1.05zM40 39h1.05v1.05h-1.05zM41 39h1.05v1.05h-1.05zM44 39h1.05v1.05h-1.05zM45 39h1.05v1.05h-1.05zM46 39h1.05v1.05h-1.05zM47 39h1.05v1.05h-1.05zM48 39h1.05v1.05h-1.05zM49 39h1.05v1.05h-1.05zM50 39h1.05v1.05h-1.05zM51 39h1.05v1.05h-1.05zM52 39h1.05v1.05h-1.05zM53 39h1.05v1.05h-1.05zM35 40h1.05v1.05h-1.05zM48 48h1.05v1.05h-1.05zM49 48h1.05v1.05h-1.05zM50 48h1.05v1.05h-1.05z"/>
<path fill="#aed0e0" d="M19 19h1.05v1.05h-1.05zM32 20h1.05v1.05h-1.05zM16 23h1.05v1.05h-1.05zM32 23h1.05v1.05h-1.05zM18 24h1.05v1.05h-1.05zM20 25h1.05v1.05h-1.05zM24 30h1.05v1.05h-1.05zM33 32h1.05v1.05h-1.05zM31 33h1.05v1.05h-1.05zM38 34h1.05v1.05h-1.05zM37 40h1.05v1.05h-1.05zM39 40h1.05v1.05h-1.05zM40 40h1.05v1.05h-1.05zM41 40h1.05v1.05h-1.05zM42 40h1.05v1.05h-1.05zM43 40h1.05v1.05h-1.05zM36 41h1.05v1.05h-1.05zM39 47h1.05v1.05h-1.05zM40 47h1.05v1.05h-1.05z"/>
<path fill="#78aeca" d="M21 19h1.05v1.05h-1.05zM31 24h1.05v1.05h-1.05zM32 34h1.05v1.05h-1.05z"/>
<path fill="#3c76aa" d="M23 19h1.05v1.05h-1.05zM22 22h1.05v1.05h-1.05zM29 24h1.05v1.05h-1.05zM24 25h1.05v1.05h-1.05zM26 26h1.05v1.05h-1.05zM27 26h1.05v1.05h-1.05z"/>
<path fill="#3268a0" d="M24 19h1.05v1.05h-1.05zM23 20h1.05v1.05h-1.05zM29 20h1.05v1.05h-1.05z"/>
<path fill="#285888" d="M25 19h1.05v1.05h-1.05zM24 23h1.05v1.05h-1.05z"/>
<path fill="#224a76" d="M26 19h1.05v1.05h-1.05z"/>
<path fill="#224c78" d="M27 19h1.05v1.05h-1.05z"/>
<path fill="#2a5a8c" d="M28 19h1.05v1.05h-1.05zM24 20h1.05v1.05h-1.05zM25 24h1.05v1.05h-1.05z"/>
<path fill="#3874a8" d="M29 19h1.05v1.05h-1.05z"/>
<path fill="#74acca" d="M31 19h1.05v1.05h-1.05zM20 21h1.05v1.05h-1.05z"/>
<path fill="#84b6d0" d="M20 20h1.05v1.05h-1.05zM50 44h1.05v1.05h-1.05zM51 44h1.05v1.05h-1.05zM51 45h1.05v1.05h-1.05zM52 45h1.05v1.05h-1.05zM53 45h1.05v1.05h-1.05z"/>
<path fill="#5e9cc0" d="M21 20h1.05v1.05h-1.05zM24 27h1.05v1.05h-1.05zM34 36h1.05v1.05h-1.05z"/>
<path fill="#204670" d="M25 20h1.05v1.05h-1.05zM27 20h1.05v1.05h-1.05zM27 23h1.05v1.05h-1.05z"/>
<path fill="#1c4066" d="M26 20h1.05v1.05h-1.05zM26 23h1.05v1.05h-1.05z"/>
<path fill="#244e7c" d="M28 20h1.05v1.05h-1.05zM28 23h1.05v1.05h-1.05z"/>
<path fill="#4482b2" d="M30 20h1.05v1.05h-1.05zM26 27h1.05v1.05h-1.05z"/>
<path fill="#d8e6ee" d="M33 20h1.05v1.05h-1.05zM12 21h1.05v1.05h-1.05zM33 21h1.05v1.05h-1.05zM33 22h1.05v1.05h-1.05zM14 25h1.05v1.05h-1.05zM33 30h1.05v1.05h-1.05zM23 31h1.05v1.05h-1.05zM25 32h1.05v1.05h-1.05zM37 32h1.05v1.05h-1.05zM40 33h1.05v1.05h-1.05zM52 34h1.05v1.05h-1.05zM53 34h1.05v1.05h-1.05zM34 47h1.05v1.05h-1.05z"/>
<path fill="#cee2ec" d="M13 21h1.05v1.05h-1.05zM14 24h1.05v1.05h-1.05zM27 32h1.05v1.05h-1.05zM28 32h1.05v1.05h-1.05zM50 35h1.05v1.05h-1.05zM51 35h1.05v1.05h-1.05zM52 35h1.05v1.05h-1.05zM53 35h1.05v1.05h-1.05zM34 40h1.05v1.05h-1.05zM34 43h1.05v1.05h-1.05zM34 45h1.05v1.05h-1.05zM45 49h1.05v1.05h-1.05zM46 49h1.05v1.05h-1.05zM47 49h1.05v1.05h-1.05zM48 49h1.05v1.05h-1.05z"/>
<path fill="#aacede" d="M16 21h1.05v1.05h-1.05zM32 21h1.05v1.05h-1.05zM32 22h1.05v1.05h-1.05zM21 26h1.05v1.05h-1.05zM31 29h1.05v1.05h-1.05zM28 31h1.05v1.05h-1.05zM32 37h1.05v1.05h-1.05zM38 37h1.05v1.05h-1.05zM37 38h1.05v1.05h-1.05zM50 40h1.05v1.05h-1.05zM51 40h1.05v1.05h-1.05zM52 40h1.05v1.05h-1.05zM53 40h1.05v1.05h-1.05zM42 47h1.05v1.05h-1.05zM43 47h1.05v1.05h-1.05z"/>
<path fill="#a2cadc" d="M17 21h1.05v1.05h-1.05zM18 23h1.05v1.05h-1.05zM31 28h1.05v1.05h-1.05zM41 41h1.05v1.05h-1.05zM42 41h1.05v1.05h-1.05zM43 41h1.05v1.05h-1.05zM38 46h1.05v1.05h-1.05zM49 47h1.05v1.05h-1.05zM50 47h1.05v1.05h-1.05z"/>
<path fill="#92bed6" d="M19 21h1.05v1.05h-1.05zM49 42h1.05v1.05h-1.05zM50 42h1.05v1.05h-1.05zM51 42h1.05v1.05h-1.05zM42 43h1.05v1.05h-1.05zM43 43h1.05v1.05h-1.05zM41 44h1.05v1.05h-1.05zM42 45h1.05v1.05h-1.05zM43 45h1.05v1.05h-1.05zM49 46h1.05v1.05h-1.05zM50 46h1.05v1.05h-1.05z"/>
<path fill="#3c78ac" d="M22 21h1.05v1.05h-1.05z"/>
<path fill="#2c5e94" d="M23 21h1.05v1.05h-1.05zM28 24h1.05v1.05h-1.05z"/>
<path fill="#265080" d="M24 21h1.05v1.05h-1.05zM24 22h1.05v1.05h-1.05z"/>
<path fill="#1c3e64" d="M25 21h1.05v1.05h-1.05zM26 21h1.05v1.05h-1.05zM25 22h1.05v1.05h-1.05zM26 22h1.05v1.05h-1.05z"/>
<path fill="#1e406a" d="M27 21h1.05v1.05h-1.05z"/>
<path fill="#244c7a" d="M28 21h1.05v1.05h-1.05zM28 22h1.05v1.05h-1.05zM26 24h1.05v1.05h-1.05zM27 24h1.05v1.05h-1.05z"/>
<path fill="#2e6096" d="M29 21h1.05v1.05h-1.05z"/>
<path fill="#a0c8dc" d="M17 22h1.05v1.05h-1.05zM31 27h1.05v1.05h-1.05zM25 30h1.05v1.05h-1.05zM38 35h1.05v1.05h-1.05zM38 36h1.05v1.05h-1.05zM35 38h1.05v1.05h-1.05zM44 41h1.05v1.05h-1.05zM45 41h1.05v1.05h-1.05zM46 41h1.05v1.05h-1.05zM37 42h1.05v1.05h-1.05zM36 43h1.05v1.05h-1.05zM35 44h1.05v1.05h-1.05zM35 45h1.05v1.05h-1.05zM39 46h1.05v1.05h-1.05zM40 46h1.05v1.05h-1.05zM51 47h1.05v1.05h-1.05zM52 47h1.05v1.05h-1.05zM53 47h1.05v1.05h-1.05z"/>
<path fill="#8ebcd4" d="M19 22h1.05v1.05h-1.05zM21 25h1.05v1.05h-1.05zM29 30h1.05v1.05h-1.05zM52 42h1.05v1.05h-1.05zM53 42h1.05v1.05h-1.05zM44 43h1.05v1.05h-1.05zM45 43h1.05v1.05h-1.05zM42 44h1.05v1.05h-1.05zM43 44h1.05v1.05h-1.05zM44 45h1.05v1.05h-1.05zM45 45h1.05v1.05h-1.05zM51 46h1.05v1.05h-1.05zM52 46h1.05v1.05h-1.05zM53 46h1.05v1.05h-1.05z"/>
<path fill="#2c5c90" d="M23 22h1.05v1.05h-1.05z"/>
<path fill="#1e426c" d="M27 22h1.05v1.05h-1.05z"/>
<path fill="#f0bea6" d="M36 22h1.05v1.05h-1.05zM29 60h1.05v1.05h-1.05zM30 60h1.05v1.05h-1.05zM38 61h1.05v1.05h-1.05zM31 62h1.05v1.05h-1.05zM25 64h1.05v1.05h-1.05zM33 64h1.05v1.05h-1.05zM24 70h1.05v1.05h-1.05zM38 71h1.05v1.05h-1.05z"/>
<path fill="#c6dce8" d="M14 23h1.05v1.05h-1.05zM32 27h1.05v1.05h-1.05zM32 28h1.05v1.05h-1.05zM23 30h1.05v1.05h-1.05zM40 34h1.05v1.05h-1.05zM42 35h1.05v1.05h-1.05zM44 36h1.05v1.05h-1.05zM45 36h1.05v1.05h-1.05zM46 36h1.05v1.05h-1.05zM45 37h1.05v1.05h-1.05zM46 37h1.05v1.05h-1.05zM47 37h1.05v1.05h-1.05zM48 37h1.05v1.05h-1.05zM34 39h1.05v1.05h-1.05zM35 48h1.05v1.05h-1.05zM36 48h1.05v1.05h-1.05z"/>
<path fill="#5898be" d="M21 23h1.05v1.05h-1.05zM35 36h1.05v1.05h-1.05z"/>
<path fill="#407eae" d="M22 23h1.05v1.05h-1.05z"/>
<path fill="#30669e" d="M23 23h1.05v1.05h-1.05zM24 24h1.05v1.05h-1.05z"/>
<path fill="#204872" d="M25 23h1.05v1.05h-1.05z"/>
<path fill="#346ca4" d="M29 23h1.05v1.05h-1.05zM25 25h1.05v1.05h-1.05z"/>
<path fill="#4684b2" d="M30 23h1.05v1.05h-1.05z"/>
<path fill="#3a74aa" d="M23 24h1.05v1.05h-1.05z"/>
<path fill="#4888b4" d="M23 25h1.05v1.05h-1.05zM24 26h1.05v1.05h-1.05zM29 26h1.05v1.05h-1.05z"/>
<path fill="#3670a6" d="M28 25h1.05v1.05h-1.05z"/>
<path fill="#8cbad4" d="M22 26h1.05v1.05h-1.05zM30 29h1.05v1.05h-1.05zM27 30h1.05v1.05h-1.05zM28 30h1.05v1.05h-1.05zM36 37h1.05v1.05h-1.05zM46 43h1.05v1.05h-1.05zM47 43h1.05v1.05h-1.05zM48 43h1.05v1.05h-1.05zM44 44h1.05v1.05h-1.05zM45 44h1.05v1.05h-1.05zM46 45h1.05v1.05h-1.05zM47 45h1.05v1.05h-1.05z"/>
<path fill="#629ec2" d="M23 26h1.05v1.05h-1.05zM25 28h1.05v1.05h-1.05zM29 28h1.05v1.05h-1.05z"/>
<path fill="#407cae" d="M28 26h1.05v1.05h-1.05z"/>
<path fill="#5c9ac0" d="M30 26h1.05v1.05h-1.05z"/>
<path fill="#f8eae4" d="M37 26h1.05v1.05h-1.05zM42 30h1.05v1.05h-1.05zM24 52h1.05v1.05h-1.05zM39 53h1.05v1.05h-1.05zM22 54h1.05v1.05h-1.05zM43 54h1.05v1.05h-1.05zM44 54h1.05v1.05h-1.05zM21 55h1.05v1.05h-1.05zM20 59h1.05v1.05h-1.05zM20 60h1.05v1.05h-1.05zM20 61h1.05v1.05h-1.05zM19 63h1.05v1.05h-1.05zM19 64h1.05v1.05h-1.05zM19 65h1.05v1.05h-1.05zM18 71h1.05v1.05h-1.05zM18 72h1.05v1.05h-1.05zM18 73h1.05v1.05h-1.05zM18 74h1.05v1.05h-1.05zM18 75h1.05v1.05h-1.05zM18 76h1.05v1.05h-1.05zM18 77h1.05v1.05h-1.05zM18 78h1.05v1.05h-1.05zM18 79h1.05v1.05h-1.05zM18 80h1.05v1.05h-1.05zM18 81h1.05v1.05h-1.05zM18 82h1.05v1.05h-1.05zM18 83h1.05v1.05h-1.05zM18 84h1.05v1.05h-1.05zM18 85h1.05v1.05h-1.05zM18 86h1.05v1.05h-1.05zM18 87h1.05v1.05h-1.05zM18 88h1.05v1.05h-1.05zM18 89h1.05v1.05h-1.05zM18 90h1.05v1.05h-1.05zM18 91h1.05v1.05h-1.05zM18 92h1.05v1.05h-1.05zM18 93h1.05v1.05h-1.05z"/>
<path fill="#a6cade" d="M22 27h1.05v1.05h-1.05zM31 34h1.05v1.05h-1.05zM36 38h1.05v1.05h-1.05zM38 41h1.05v1.05h-1.05zM39 41h1.05v1.05h-1.05zM40 41h1.05v1.05h-1.05zM35 43h1.05v1.05h-1.05zM36 46h1.05v1.05h-1.05zM37 46h1.05v1.05h-1.05zM46 47h1.05v1.05h-1.05zM47 47h1.05v1.05h-1.05zM48 47h1.05v1.05h-1.05z"/>
<path fill="#4686b4" d="M28 27h1.05v1.05h-1.05z"/>
<path fill="#4e90b8" d="M29 27h1.05v1.05h-1.05z"/>
<path fill="#f8e6dc" d="M38 27h1.05v1.05h-1.05zM43 30h1.05v1.05h-1.05zM32 53h1.05v1.05h-1.05zM38 53h1.05v1.05h-1.05zM40 54h1.05v1.05h-1.05zM43 55h1.05v1.05h-1.05zM47 56h1.05v1.05h-1.05zM48 56h1.05v1.05h-1.05zM49 57h1.05v1.05h-1.05zM50 57h1.05v1.05h-1.05zM50 58h1.05v1.05h-1.05zM51 58h1.05v1.05h-1.05zM52 58h1.05v1.05h-1.05zM53 58h1.05v1.05h-1.05zM22 60h1.05v1.05h-1.05zM21 64h1.05v1.05h-1.05zM21 65h1.05v1.05h-1.05zM20 69h1.05v1.05h-1.05zM20 70h1.05v1.05h-1.05zM20 71h1.05v1.05h-1.05zM20 72h1.05v1.05h-1.05zM20 73h1.05v1.05h-1.05zM20 74h1.05v1.05h-1.05zM20 75h1.05v1.05h-1.05zM20 76h1.05v1.05h-1.05zM20 77h1.05v1.05h-1.05zM20 78h1.05v1.05h-1.05zM20 79h1.05v1.05h-1.05zM20 80h1.05v1.05h-1.05zM20 81h1.05v1.05h-1.05z"/>
<path fill="#80b4ce" d="M24 28h1.05v1.05h-1.05zM30 28h1.05v1.05h-1.05zM52 44h1.05v1.05h-1.05zM53 44h1.05v1.05h-1.05z"/>
<path fill="#7ab0cc" d="M29 29h1.05v1.05h-1.05z"/>
<path fill="#f8f0ea" d="M47 31h1.05v1.05h-1.05zM48 31h1.05v1.05h-1.05zM21 51h1.05v1.05h-1.05zM22 51h1.05v1.05h-1.05zM23 51h1.05v1.05h-1.05zM29 51h1.05v1.05h-1.05zM19 52h1.05v1.05h-1.05zM20 52h1.05v1.05h-1.05zM33 52h1.05v1.05h-1.05zM17 53h1.05v1.05h-1.05zM18 53h1.05v1.05h-1.05zM19 53h1.05v1.05h-1.05zM41 53h1.05v1.05h-1.05zM16 54h1.05v1.05h-1.05zM17 54h1.05v1.05h-1.05zM18 54h1.05v1.05h-1.05zM15 55h1.05v1.05h-1.05zM16 55h1.05v1.05h-1.05zM14 56h1.05v1.05h-1.05zM15 56h1.05v1.05h-1.05zM16 56h1.05v1.05h-1.05zM14 57h1.05v1.05h-1.05zM15 57h1.05v1.05h-1.05zM16 57h1.05v1.05h-1.05zM14 58h1.05v1.05h-1.05zM15 58h1.05v1.05h-1.05zM14 59h1.05v1.05h-1.05zM15 59h1.05v1.05h-1.05zM14 60h1.05v1.05h-1.05zM15 60h1.05v1.05h-1.05zM13 61h1.05v1.05h-1.05zM14 61h1.05v1.05h-1.05zM13 62h1.05v1.05h-1.05zM14 62h1.05v1.05h-1.05zM13 63h1.05v1.05h-1.05zM14 63h1.05v1.05h-1.05zM12 64h1.05v1.05h-1.05zM13 64h1.05v1.05h-1.05zM12 65h1.05v1.05h-1.05zM13 65h1.05v1.05h-1.05zM12 66h1.05v1.05h-1.05zM13 66h1.05v1.05h-1.05zM12 67h1.05v1.05h-1.05zM13 67h1.05v1.05h-1.05zM12 68h1.05v1.05h-1.05zM13 68h1.05v1.05h-1.05zM12 69h1.05v1.05h-1.05zM11 70h1.05v1.05h-1.05zM12 70h1.05v1.05h-1.05zM11 71h1.05v1.05h-1.05zM12 71h1.05v1.05h-1.05zM11 72h1.05v1.05h-1.05zM12 72h1.05v1.05h-1.05zM11 73h1.05v1.05h-1.05zM12 73h1.05v1.05h-1.05zM11 74h1.05v1.05h-1.05zM12 74h1.05v1.05h-1.05zM11 75h1.05v1.05h-1.05zM12 75h1.05v1.05h-1.05zM11 76h1.05v1.05h-1.05zM12 76h1.05v1.05h-1.05zM11 77h1.05v1.05h-1.05zM12 77h1.05v1.05h-1.05zM11 78h1.05v1.05h-1.05zM12 78h1.05v1.05h-1.05zM11 79h1.05v1.05h-1.05zM12 79h1.05v1.05h-1.05zM11 80h1.05v1.05h-1.05zM12 80h1.05v1.05h-1.05zM11 81h1.05v1.05h-1.05zM12 81h1.05v1.05h-1.05zM11 82h1.05v1.05h-1.05zM12 82h1.05v1.05h-1.05zM11 83h1.05v1.05h-1.05zM12 83h1.05v1.05h-1.05zM11 84h1.05v1.05h-1.05zM12 84h1.05v1.05h-1.05zM11 85h1.05v1.05h-1.05zM12 85h1.05v1.05h-1.05zM11 86h1.05v1.05h-1.05zM12 86h1.05v1.05h-1.05zM11 87h1.05v1.05h-1.05zM12 87h1.05v1.05h-1.05zM11 88h1.05v1.05h-1.05zM12 88h1.05v1.05h-1.05zM11 89h1.05v1.05h-1.05zM12 89h1.05v1.05h-1.05zM11 90h1.05v1.05h-1.05zM12 90h1.05v1.05h-1.05zM11 91h1.05v1.05h-1.05zM12 91h1.05v1.05h-1.05zM11 92h1.05v1.05h-1.05zM12 92h1.05v1.05h-1.05zM11 93h1.05v1.05h-1.05zM12 93h1.05v1.05h-1.05z"/>
<path fill="#5696be" d="M33 35h1.05v1.05h-1.05z"/>
<path fill="#f8e6da" d="M36 53h1.05v1.05h-1.05zM23 55h1.05v1.05h-1.05zM42 55h1.05v1.05h-1.05zM45 56h1.05v1.05h-1.05zM46 56h1.05v1.05h-1.05zM46 57h1.05v1.05h-1.05zM47 57h1.05v1.05h-1.05zM48 57h1.05v1.05h-1.05zM48 58h1.05v1.05h-1.05zM49 58h1.05v1.05h-1.05zM50 59h1.05v1.05h-1.05zM51 59h1.05v1.05h-1.05zM52 59h1.05v1.05h-1.05zM53 59h1.05v1.05h-1.05zM52 60h1.05v1.05h-1.05zM53 60h1.05v1.05h-1.05zM22 61h1.05v1.05h-1.05zM21 66h1.05v1.05h-1.05zM21 67h1.05v1.05h-1.05zM21 68h1.05v1.05h-1.05zM20 82h1.05v1.05h-1.05zM20 83h1.05v1.05h-1.05zM20 84h1.05v1.05h-1.05zM20 85h1.05v1.05h-1.05zM20 86h1.05v1.05h-1.05zM20 87h1.05v1.05h-1.05zM20 88h1.05v1.05h-1.05zM20 89h1.05v1.05h-1.05zM20 90h1.05v1.05h-1.05zM20 91h1.05v1.05h-1.05zM20 92h1.05v1.05h-1.05zM20 93h1.05v1.05h-1.05z"/>
<path fill="#f8dac8" d="M28 54h1.05v1.05h-1.05zM29 54h1.05v1.05h-1.05zM37 54h1.05v1.05h-1.05zM32 55h1.05v1.05h-1.05zM34 55h1.05v1.05h-1.05zM39 56h1.05v1.05h-1.05zM24 60h1.05v1.05h-1.05zM41 62h1.05v1.05h-1.05zM42 64h1.05v1.05h-1.05zM23 65h1.05v1.05h-1.05zM43 65h1.05v1.05h-1.05zM43 66h1.05v1.05h-1.05zM44 66h1.05v1.05h-1.05zM44 67h1.05v1.05h-1.05zM44 68h1.05v1.05h-1.05zM44 69h1.05v1.05h-1.05zM43 70h1.05v1.05h-1.05zM44 70h1.05v1.05h-1.05zM43 71h1.05v1.05h-1.05zM44 71h1.05v1.05h-1.05zM43 72h1.05v1.05h-1.05zM44 72h1.05v1.05h-1.05zM43 73h1.05v1.05h-1.05zM44 73h1.05v1.05h-1.05zM43 74h1.05v1.05h-1.05zM44 74h1.05v1.05h-1.05zM22 75h1.05v1.05h-1.05zM43 75h1.05v1.05h-1.05zM44 75h1.05v1.05h-1.05zM22 76h1.05v1.05h-1.05zM43 76h1.05v1.05h-1.05zM44 76h1.05v1.05h-1.05zM22 77h1.05v1.05h-1.05zM43 77h1.05v1.05h-1.05zM44 77h1.05v1.05h-1.05zM22 78h1.05v1.05h-1.05zM43 78h1.05v1.05h-1.05zM44 78h1.05v1.05h-1.05zM22 79h1.05v1.05h-1.05zM43 79h1.05v1.05h-1.05zM44 79h1.05v1.05h-1.05zM22 80h1.05v1.05h-1.05zM43 80h1.05v1.05h-1.05zM44 80h1.05v1.05h-1.05zM22 81h1.05v1.05h-1.05zM43 81h1.05v1.05h-1.05zM44 81h1.05v1.05h-1.05zM22 82h1.05v1.05h-1.05zM43 82h1.05v1.05h-1.05zM44 82h1.05v1.05h-1.05zM22 83h1.05v1.05h-1.05zM43 83h1.05v1.05h-1.05zM44 83h1.05v1.05h-1.05zM22 84h1.05v1.05h-1.05zM43 84h1.05v1.05h-1.05zM44 84h1.05v1.05h-1.05zM22 85h1.05v1.05h-1.05zM43 85h1.05v1.05h-1.05zM44 85h1.05v1.05h-1.05zM22 86h1.05v1.05h-1.05zM43 86h1.05v1.05h-1.05zM44 86h1.05v1.05h-1.05zM22 87h1.05v1.05h-1.05zM43 87h1.05v1.05h-1.05zM44 87h1.05v1.05h-1.05zM22 88h1.05v1.05h-1.05zM43 88h1.05v1.05h-1.05zM44 88h1.05v1.05h-1.05zM22 89h1.05v1.05h-1.05zM43 89h1.05v1.05h-1.05zM44 89h1.05v1.05h-1.05zM22 90h1.05v1.05h-1.05zM43 90h1.05v1.05h-1.05zM44 90h1.05v1.05h-1.05zM22 91h1.05v1.05h-1.05zM43 91h1.05v1.05h-1.05zM44 91h1.05v1.05h-1.05zM22 92h1.05v1.05h-1.05zM43 92h1.05v1.05h-1.05zM44 92h1.05v1.05h-1.05zM22 93h1.05v1.05h-1.05zM43 93h1.05v1.05h-1.05zM44 93h1.05v1.05h-1.05z"/>
<path fill="#f6d4c2" d="M26 55h1.05v1.05h-1.05zM38 55h1.05v1.05h-1.05zM32 56h1.05v1.05h-1.05zM34 56h1.05v1.05h-1.05zM25 58h1.05v1.05h-1.05zM33 58h1.05v1.05h-1.05zM39 59h1.05v1.05h-1.05zM24 62h1.05v1.05h-1.05zM40 62h1.05v1.05h-1.05zM41 65h1.05v1.05h-1.05zM41 66h1.05v1.05h-1.05zM23 67h1.05v1.05h-1.05zM41 68h1.05v1.05h-1.05zM41 69h1.05v1.05h-1.05zM41 70h1.05v1.05h-1.05zM41 71h1.05v1.05h-1.05zM41 72h1.05v1.05h-1.05zM41 73h1.05v1.05h-1.05z"/>
<path fill="#f6ceba" d="M28 55h1.05v1.05h-1.05zM36 55h1.05v1.05h-1.05zM35 56h1.05v1.05h-1.05zM26 57h1.05v1.05h-1.05zM31 57h1.05v1.05h-1.05zM32 59h1.05v1.05h-1.05zM34 59h1.05v1.05h-1.05zM25 60h1.05v1.05h-1.05zM33 60h1.05v1.05h-1.05zM39 61h1.05v1.05h-1.05zM40 65h1.05v1.05h-1.05zM40 66h1.05v1.05h-1.05zM40 67h1.05v1.05h-1.05zM40 68h1.05v1.05h-1.05zM23 70h1.05v1.05h-1.05z"/>
<path fill="#f4ccb6" d="M37 55h1.05v1.05h-1.05zM27 56h1.05v1.05h-1.05zM38 56h1.05v1.05h-1.05zM35 57h1.05v1.05h-1.05zM26 58h1.05v1.05h-1.05zM31 58h1.05v1.05h-1.05zM39 62h1.05v1.05h-1.05zM24 64h1.05v1.05h-1.05zM23 71h1.05v1.05h-1.05zM23 72h1.05v1.05h-1.05z"/>
<path fill="#f4c6b0" d="M36 56h1.05v1.05h-1.05zM28 57h1.05v1.05h-1.05zM29 57h1.05v1.05h-1.05zM30 58h1.05v1.05h-1.05zM35 59h1.05v1.05h-1.05zM31 60h1.05v1.05h-1.05zM32 61h1.05v1.05h-1.05zM34 61h1.05v1.05h-1.05zM25 62h1.05v1.05h-1.05zM33 62h1.05v1.05h-1.05zM39 64h1.05v1.05h-1.05zM39 65h1.05v1.05h-1.05zM24 66h1.05v1.05h-1.05zM39 68h1.05v1.05h-1.05zM39 69h1.05v1.05h-1.05zM39 70h1.05v1.05h-1.05z"/>
<path fill="#f2c4ac" d="M37 56h1.05v1.05h-1.05zM36 57h1.05v1.05h-1.05zM28 58h1.05v1.05h-1.05zM29 58h1.05v1.05h-1.05zM27 59h1.05v1.05h-1.05zM38 59h1.05v1.05h-1.05zM26 60h1.05v1.05h-1.05zM39 66h1.05v1.05h-1.05zM39 67h1.05v1.05h-1.05z"/>
<path fill="#f2c0a8" d="M36 58h1.05v1.05h-1.05zM37 58h1.05v1.05h-1.05zM28 59h1.05v1.05h-1.05zM27 60h1.05v1.05h-1.05zM35 60h1.05v1.05h-1.05zM26 61h1.05v1.05h-1.05zM34 62h1.05v1.05h-1.05zM32 63h1.05v1.05h-1.05zM24 69h1.05v1.05h-1.05zM38 72h1.05v1.05h-1.05zM38 73h1.05v1.05h-1.05zM38 74h1.05v1.05h-1.05zM38 75h1.05v1.05h-1.05zM38 76h1.05v1.05h-1.05zM38 77h1.05v1.05h-1.05zM38 78h1.05v1.05h-1.05zM38 79h1.05v1.05h-1.05zM38 80h1.05v1.05h-1.05zM38 81h1.05v1.05h-1.05zM38 82h1.05v1.05h-1.05zM38 83h1.05v1.05h-1.05zM38 84h1.05v1.05h-1.05zM38 85h1.05v1.05h-1.05zM38 86h1.05v1.05h-1.05zM38 87h1.05v1.05h-1.05zM38 88h1.05v1.05h-1.05zM38 89h1.05v1.05h-1.05zM38 90h1.05v1.05h-1.05zM38 91h1.05v1.05h-1.05zM38 92h1.05v1.05h-1.05zM38 93h1.05v1.05h-1.05z"/>
<path fill="#f0bca2" d="M36 59h1.05v1.05h-1.05zM37 59h1.05v1.05h-1.05zM28 60h1.05v1.05h-1.05zM27 61h1.05v1.05h-1.05zM35 61h1.05v1.05h-1.05zM26 62h1.05v1.05h-1.05zM38 62h1.05v1.05h-1.05zM34 63h1.05v1.05h-1.05zM32 64h1.05v1.05h-1.05zM38 70h1.05v1.05h-1.05zM24 71h1.05v1.05h-1.05zM24 72h1.05v1.05h-1.05z"/>
<path fill="#eeb296" d="M36 61h1.05v1.05h-1.05zM27 63h1.05v1.05h-1.05zM31 67h1.05v1.05h-1.05zM25 68h1.05v1.05h-1.05zM33 72h1.05v1.05h-1.05zM33 73h1.05v1.05h-1.05zM33 74h1.05v1.05h-1.05zM33 75h1.05v1.05h-1.05zM33 76h1.05v1.05h-1.05zM33 77h1.05v1.05h-1.05zM33 78h1.05v1.05h-1.05zM33 79h1.05v1.05h-1.05zM33 80h1.05v1.05h-1.05zM33 81h1.05v1.05h-1.05zM33 82h1.05v1.05h-1.05zM33 83h1.05v1.05h-1.05zM33 84h1.05v1.05h-1.05zM33 85h1.05v1.05h-1.05zM33 86h1.05v1.05h-1.05zM33 87h1.05v1.05h-1.05zM33 88h1.05v1.05h-1.05zM33 89h1.05v1.05h-1.05zM33 90h1.05v1.05h-1.05zM33 91h1.05v1.05h-1.05zM33 92h1.05v1.05h-1.05zM33 93h1.05v1.05h-1.05z"/>
<path fill="#eeb498" d="M37 61h1.05v1.05h-1.05zM28 62h1.05v1.05h-1.05zM29 62h1.05v1.05h-1.05zM30 63h1.05v1.05h-1.05zM26 64h1.05v1.05h-1.05zM34 65h1.05v1.05h-1.05zM31 66h1.05v1.05h-1.05zM25 67h1.05v1.05h-1.05zM31 68h1.05v1.05h-1.05zM31 69h1.05v1.05h-1.05zM33 69h1.05v1.05h-1.05zM31 70h1.05v1.05h-1.05zM33 70h1.05v1.05h-1.05zM31 71h1.05v1.05h-1.05zM33 71h1.05v1.05h-1.05zM31 72h1.05v1.05h-1.05z"/>
<path fill="#eeb69c" d="M30 62h1.05v1.05h-1.05zM35 62h1.05v1.05h-1.05zM38 64h1.05v1.05h-1.05zM31 65h1.05v1.05h-1.05zM38 65h1.05v1.05h-1.05zM25 66h1.05v1.05h-1.05zM38 66h1.05v1.05h-1.05zM33 67h1.05v1.05h-1.05zM38 67h1.05v1.05h-1.05zM33 68h1.05v1.05h-1.05zM31 73h1.05v1.05h-1.05zM31 74h1.05v1.05h-1.05zM31 75h1.05v1.05h-1.05zM31 76h1.05v1.05h-1.05zM31 77h1.05v1.05h-1.05zM31 78h1.05v1.05h-1.05zM31 79h1.05v1.05h-1.05zM31 80h1.05v1.05h-1.05zM31 81h1.05v1.05h-1.05zM31 82h1.05v1.05h-1.05zM31 83h1.05v1.05h-1.05zM31 84h1.05v1.05h-1.05zM31 85h1.05v1.05h-1.05zM31 86h1.05v1.05h-1.05zM31 87h1.05v1.05h-1.05zM31 88h1.05v1.05h-1.05zM31 89h1.05v1.05h-1.05zM31 90h1.05v1.05h-1.05zM31 91h1.05v1.05h-1.05zM31 92h1.05v1.05h-1.05zM31 93h1.05v1.05h-1.05z"/>
<path fill="#eeb094" d="M28 63h1.05v1.05h-1.05zM29 63h1.05v1.05h-1.05zM35 63h1.05v1.05h-1.05zM30 64h1.05v1.05h-1.05zM26 65h1.05v1.05h-1.05zM34 66h1.05v1.05h-1.05zM25 69h1.05v1.05h-1.05zM25 70h1.05v1.05h-1.05zM25 71h1.05v1.05h-1.05zM25 72h1.05v1.05h-1.05zM30 73h1.05v1.05h-1.05zM30 74h1.05v1.05h-1.05zM30 75h1.05v1.05h-1.05zM30 76h1.05v1.05h-1.05zM30 77h1.05v1.05h-1.05zM37 77h1.05v1.05h-1.05zM30 78h1.05v1.05h-1.05zM37 78h1.05v1.05h-1.05zM30 79h1.05v1.05h-1.05zM37 79h1.05v1.05h-1.05zM30 80h1.05v1.05h-1.05zM37 80h1.05v1.05h-1.05zM30 81h1.05v1.05h-1.05zM37 81h1.05v1.05h-1.05zM30 82h1.05v1.05h-1.05zM37 82h1.05v1.05h-1.05zM30 83h1.05v1.05h-1.05zM37 83h1.05v1.05h-1.05zM30 84h1.05v1.05h-1.05zM37 84h1.05v1.05h-1.05zM30 85h1.05v1.05h-1.05zM37 85h1.05v1.05h-1.05zM30 86h1.05v1.05h-1.05zM37 86h1.05v1.05h-1.05zM30 87h1.05v1.05h-1.05zM37 87h1.05v1.05h-1.05zM30 88h1.05v1.05h-1.05zM37 88h1.05v1.05h-1.05zM30 89h1.05v1.05h-1.05zM37 89h1.05v1.05h-1.05zM30 90h1.05v1.05h-1.05zM37 90h1.05v1.05h-1.05zM30 91h1.05v1.05h-1.05zM37 91h1.05v1.05h-1.05zM30 92h1.05v1.05h-1.05zM37 92h1.05v1.05h-1.05zM30 93h1.05v1.05h-1.05zM37 93h1.05v1.05h-1.05z"/>
<path fill="#eaa88a" d="M36 63h1.05v1.05h-1.05zM37 64h1.05v1.05h-1.05zM28 65h1.05v1.05h-1.05zM29 65h1.05v1.05h-1.05zM27 66h1.05v1.05h-1.05zM37 70h1.05v1.05h-1.05zM34 71h1.05v1.05h-1.05zM26 72h1.05v1.05h-1.05zM26 73h1.05v1.05h-1.05zM29 73h1.05v1.05h-1.05zM26 74h1.05v1.05h-1.05zM29 74h1.05v1.05h-1.05zM26 75h1.05v1.05h-1.05zM29 75h1.05v1.05h-1.05zM26 76h1.05v1.05h-1.05zM29 76h1.05v1.05h-1.05zM26 77h1.05v1.05h-1.05zM29 77h1.05v1.05h-1.05zM26 78h1.05v1.05h-1.05zM29 78h1.05v1.05h-1.05zM26 79h1.05v1.05h-1.05zM29 79h1.05v1.05h-1.05zM26 80h1.05v1.05h-1.05zM29 80h1.05v1.05h-1.05zM26 81h1.05v1.05h-1.05zM29 81h1.05v1.05h-1.05zM26 82h1.05v1.05h-1.05zM29 82h1.05v1.05h-1.05zM26 83h1.05v1.05h-1.05zM29 83h1.05v1.05h-1.05zM26 84h1.05v1.05h-1.05zM29 84h1.05v1.05h-1.05zM26 85h1.05v1.05h-1.05zM29 85h1.05v1.05h-1.05zM26 86h1.05v1.05h-1.05zM29 86h1.05v1.05h-1.05zM26 87h1.05v1.05h-1.05zM29 87h1.05v1.05h-1.05zM26 88h1.05v1.05h-1.05zM29 88h1.05v1.05h-1.05zM26 89h1.05v1.05h-1.05zM29 89h1.05v1.05h-1.05zM26 90h1.05v1.05h-1.05zM29 90h1.05v1.05h-1.05zM26 91h1.05v1.05h-1.05zM29 91h1.05v1.05h-1.05zM26 92h1.05v1.05h-1.05zM29 92h1.05v1.05h-1.05zM26 93h1.05v1.05h-1.05zM29 93h1.05v1.05h-1.05z"/>
<path fill="#ecaa8c" d="M37 63h1.05v1.05h-1.05zM27 65h1.05v1.05h-1.05zM26 69h1.05v1.05h-1.05zM34 69h1.05v1.05h-1.05zM26 70h1.05v1.05h-1.05zM34 70h1.05v1.05h-1.05zM26 71h1.05v1.05h-1.05zM37 71h1.05v1.05h-1.05z"/>
<path fill="#ecac8e" d="M28 64h1.05v1.05h-1.05zM29 64h1.05v1.05h-1.05zM35 64h1.05v1.05h-1.05zM30 66h1.05v1.05h-1.05zM26 67h1.05v1.05h-1.05zM30 67h1.05v1.05h-1.05zM26 68h1.05v1.05h-1.05zM30 68h1.05v1.05h-1.05zM34 68h1.05v1.05h-1.05zM30 69h1.05v1.05h-1.05zM37 72h1.05v1.05h-1.05zM37 73h1.05v1.05h-1.05z"/>
<path fill="#e6a084" d="M36 64h1.05v1.05h-1.05zM35 66h1.05v1.05h-1.05zM37 67h1.05v1.05h-1.05z"/>
<path fill="#eaa488" d="M35 65h1.05v1.05h-1.05zM28 66h1.05v1.05h-1.05zM29 66h1.05v1.05h-1.05zM27 67h1.05v1.05h-1.05zM37 69h1.05v1.05h-1.05zM29 70h1.05v1.05h-1.05zM29 71h1.05v1.05h-1.05zM29 72h1.05v1.05h-1.05zM34 72h1.05v1.05h-1.05zM34 73h1.05v1.05h-1.05zM34 74h1.05v1.05h-1.05z"/>
<path fill="#e49a80" d="M36 65h1.05v1.05h-1.05zM35 68h1.05v1.05h-1.05zM35 69h1.05v1.05h-1.05zM35 70h1.05v1.05h-1.05zM36 72h1.05v1.05h-1.05zM36 73h1.05v1.05h-1.05zM36 74h1.05v1.05h-1.05zM36 75h1.05v1.05h-1.05zM36 76h1.05v1.05h-1.05zM36 77h1.05v1.05h-1.05zM36 78h1.05v1.05h-1.05zM36 79h1.05v1.05h-1.05zM36 80h1.05v1.05h-1.05zM36 81h1.05v1.05h-1.05zM36 82h1.05v1.05h-1.05zM36 83h1.05v1.05h-1.05zM36 84h1.05v1.05h-1.05zM36 85h1.05v1.05h-1.05zM36 86h1.05v1.05h-1.05zM36 87h1.05v1.05h-1.05zM36 88h1.05v1.05h-1.05zM36 89h1.05v1.05h-1.05zM36 90h1.05v1.05h-1.05zM36 91h1.05v1.05h-1.05zM36 92h1.05v1.05h-1.05zM36 93h1.05v1.05h-1.05z"/>
<path fill="#e8a286" d="M37 65h1.05v1.05h-1.05zM37 66h1.05v1.05h-1.05zM28 67h1.05v1.05h-1.05zM29 67h1.05v1.05h-1.05zM27 68h1.05v1.05h-1.05zM28 68h1.05v1.05h-1.05zM29 68h1.05v1.05h-1.05zM37 68h1.05v1.05h-1.05zM27 69h1.05v1.05h-1.05zM28 69h1.05v1.05h-1.05zM29 69h1.05v1.05h-1.05zM27 70h1.05v1.05h-1.05zM28 70h1.05v1.05h-1.05zM27 71h1.05v1.05h-1.05zM28 71h1.05v1.05h-1.05zM27 72h1.05v1.05h-1.05zM28 72h1.05v1.05h-1.05zM27 73h1.05v1.05h-1.05zM28 73h1.05v1.05h-1.05zM27 74h1.05v1.05h-1.05zM28 74h1.05v1.05h-1.05zM27 75h1.05v1.05h-1.05zM28 75h1.05v1.05h-1.05zM34 75h1.05v1.05h-1.05zM27 76h1.05v1.05h-1.05zM28 76h1.05v1.05h-1.05zM34 76h1.05v1.05h-1.05zM27 77h1.05v1.05h-1.05zM28 77h1.05v1.05h-1.05zM34 77h1.05v1.05h-1.05zM27 78h1.05v1.05h-1.05zM28 78h1.05v1.05h-1.05zM34 78h1.05v1.05h-1.05zM27 79h1.05v1.05h-1.05zM28 79h1.05v1.05h-1.05zM34 79h1.05v1.05h-1.05zM27 80h1.05v1.05h-1.05zM28 80h1.05v1.05h-1.05zM34 80h1.05v1.05h-1.05zM27 81h1.05v1.05h-1.05zM28 81h1.05v1.05h-1.05zM34 81h1.05v1.05h-1.05zM27 82h1.05v1.05h-1.05zM28 82h1.05v1.05h-1.05zM34 82h1.05v1.05h-1.05zM27 83h1.05v1.05h-1.05zM28 83h1.05v1.05h-1.05zM34 83h1.05v1.05h-1.05zM27 84h1.05v1.05h-1.05zM28 84h1.05v1.05h-1.05zM34 84h1.05v1.05h-1.05zM27 85h1.05v1.05h-1.05zM28 85h1.05v1.05h-1.05zM34 85h1.05v1.05h-1.05zM27 86h1.05v1.05h-1.05zM28 86h1.05v1.05h-1.05zM34 86h1.05v1.05h-1.05zM27 87h1.05v1.05h-1.05zM28 87h1.05v1.05h-1.05zM34 87h1.05v1.05h-1.05zM27 88h1.05v1.05h-1.05zM28 88h1.05v1.05h-1.05zM34 88h1.05v1.05h-1.05zM27 89h1.05v1.05h-1.05zM28 89h1.05v1.05h-1.05zM34 89h1.05v1.05h-1.05zM27 90h1.05v1.05h-1.05zM28 90h1.05v1.05h-1.05zM34 90h1.05v1.05h-1.05zM27 91h1.05v1.05h-1.05zM28 91h1.05v1.05h-1.05zM34 91h1.05v1.05h-1.05zM27 92h1.05v1.05h-1.05zM28 92h1.05v1.05h-1.05zM34 92h1.05v1.05h-1.05zM27 93h1.05v1.05h-1.05zM28 93h1.05v1.05h-1.05zM34 93h1.05v1.05h-1.05z"/>
<path fill="#e2967c" d="M36 66h1.05v1.05h-1.05zM36 68h1.05v1.05h-1.05zM36 69h1.05v1.05h-1.05zM35 74h1.05v1.05h-1.05zM35 75h1.05v1.05h-1.05zM35 76h1.05v1.05h-1.05zM35 77h1.05v1.05h-1.05zM35 78h1.05v1.05h-1.05zM35 79h1.05v1.05h-1.05zM35 80h1.05v1.05h-1.05zM35 81h1.05v1.05h-1.05zM35 82h1.05v1.05h-1.05zM35 83h1.05v1.05h-1.05zM35 84h1.05v1.05h-1.05zM35 85h1.05v1.05h-1.05zM35 86h1.05v1.05h-1.05zM35 87h1.05v1.05h-1.05zM35 88h1.05v1.05h-1.05zM35 89h1.05v1.05h-1.05zM35 90h1.05v1.05h-1.05zM35 91h1.05v1.05h-1.05zM35 92h1.05v1.05h-1.05zM35 93h1.05v1.05h-1.05z"/>
<path fill="#e69e82" d="M35 67h1.05v1.05h-1.05z"/>
<path fill="#e0927a" d="M36 67h1.05v1.05h-1.05z"/>
<path fill="#e2987e" d="M36 70h1.05v1.05h-1.05zM35 71h1.05v1.05h-1.05zM36 71h1.05v1.05h-1.05zM35 72h1.05v1.05h-1.05zM35 73h1.05v1.05h-1.05z"/>
</g></g></g>
<line x1="901.2" y1="89.4" x2="901.2" y2="713.5" stroke="#dddddd" stroke-width="1.5" stroke-opacity="0.8"/>
<line x1="1005.8" y1="89.4" x2="1005.8" y2="713.5" stroke="#dddddd" stroke-width="1.5" stroke-opacity="0.8"/>
<line x1="1110.4" y1="89.4" x2="1110.4" y2="713.5" stroke="#dddddd" stroke-width="1.5" stroke-opacity="0.8"/>
<line x1="1215" y1="89.4" x2="1215" y2="713.5" stroke="#dddddd" stroke-width="1.5" stroke-opacity="0.8"/>
<line x1="796.6" y1="678.83" x2="1319.6" y2="678.83" stroke="#dddddd" stroke-width="1.5" stroke-opacity="0.8"/>
<line x1="796.6" y1="609.48" x2="1319.6" y2="609.48" stroke="#dddddd" stroke-width="1.5" stroke-opacity="0.8"/>
<line x1="796.6" y1="540.14" x2="1319.6" y2="540.14" stroke="#dddddd" stroke-width="1.5" stroke-opacity="0.8"/>
<line x1="796.6" y1="470.79" x2="1319.6" y2="470.79" stroke="#dddddd" stroke-width="1.5" stroke-opacity="0.8"/>
<line x1="796.6" y1="401.45" x2="1319.6" y2="401.45" stroke="#dddddd" stroke-width="1.5" stroke-opacity="0.8"/>
<line x1="796.6" y1="332.11" x2="1319.6" y2="332.11" stroke="#dddddd" stroke-width="1.5" stroke-opacity="0.8"/>
<line x1="796.6" y1="262.76" x2="1319.6" y2="262.76" stroke="#dddddd" stroke-width="1.5" stroke-opacity="0.8"/>
<line x1="796.6" y1="193.42" x2="1319.6" y2="193.42" stroke="#dddddd" stroke-width="1.5" stroke-opacity="0.8"/>
<line x1="796.6" y1="124.07" x2="1319.6" y2="124.07" stroke="#dddddd" stroke-width="1.5" stroke-opacity="0.8"/>
<defs><linearGradient id="cbg" x1="0" y1="0" x2="1" y2="0"><stop offset="0" stop-color="#1c3e64"/><stop offset="0.05" stop-color="#265281"/><stop offset="0.1" stop-color="#326aa2"/><stop offset="0.15" stop-color="#417eaf"/><stop offset="0.2" stop-color="#5193bb"/><stop offset="0.25" stop-color="#75abca"/><stop offset="0.3" stop-color="#97c3d8"/><stop offset="0.35" stop-color="#b5d4e3"/><stop offset="0.4" stop-color="#d3e4ee"/><stop offset="0.45" stop-color="#e6eef2"/><stop offset="0.5" stop-color="#f7f6f6"/><stop offset="0.55" stop-color="#f8eae2"/><stop offset="0.6" stop-color="#f9dccb"/><stop offset="0.65" stop-color="#f2c2aa"/><stop offset="0.7" stop-color="#eba78a"/><stop offset="0.75" stop-color="#da8670"/><stop offset="0.8" stop-color="#cb6959"/><stop offset="0.85" stop-color="#b84849"/><stop offset="0.9" stop-color="#a62a3a"/><stop offset="0.95" stop-color="#862035"/><stop offset="1" stop-color="#691830"/></linearGradient></defs>
<rect x="859.2" y="590" width="412.4" height="21" fill="url(#cbg)" stroke="#000" stroke-width="1.6"/>
<line x1="893.57" y1="611" x2="893.57" y2="615.5" stroke="#000" stroke-width="1.6"/>
<text x="893.57" y="645.9" font-size="32.3" text-anchor="middle">−0.05</text>
<line x1="1065.4" y1="611" x2="1065.4" y2="615.5" stroke="#000" stroke-width="1.6"/>
<text x="1065.4" y="645.9" font-size="32.3" text-anchor="middle">0.00</text>
<line x1="1237.23" y1="611" x2="1237.23" y2="615.5" stroke="#000" stroke-width="1.6"/>
<text x="1237.23" y="645.9" font-size="32.3" text-anchor="middle">0.05</text>
<text x="1071" y="687.5" font-size="38.2" text-anchor="middle">AOD</text>
<rect x="796.6" y="89.4" width="523" height="624.1" fill="none" stroke="#1a1a1a" stroke-width="1.6"/>
<line x1="796.6" y1="713.5" x2="796.6" y2="728.5" stroke="#1a1a1a" stroke-width="1.6"/>
<text x="794.3" y="787.31" font-size="32.3" text-anchor="middle" transform="rotate(-45 794.3 775.2)">1850</text>
<line x1="901.2" y1="713.5" x2="901.2" y2="728.5" stroke="#1a1a1a" stroke-width="1.6"/>
<text x="898.9" y="787.31" font-size="32.3" text-anchor="middle" transform="rotate(-45 898.9 775.2)">1900</text>
<line x1="1005.8" y1="713.5" x2="1005.8" y2="728.5" stroke="#1a1a1a" stroke-width="1.6"/>
<text x="1003.5" y="787.31" font-size="32.3" text-anchor="middle" transform="rotate(-45 1003.5 775.2)">1950</text>
<line x1="1110.4" y1="713.5" x2="1110.4" y2="728.5" stroke="#1a1a1a" stroke-width="1.6"/>
<text x="1108.1" y="787.31" font-size="32.3" text-anchor="middle" transform="rotate(-45 1108.1 775.2)">2000</text>
<line x1="1215" y1="713.5" x2="1215" y2="728.5" stroke="#1a1a1a" stroke-width="1.6"/>
<text x="1212.7" y="787.31" font-size="32.3" text-anchor="middle" transform="rotate(-45 1212.7 775.2)">2050</text>
<line x1="1319.6" y1="713.5" x2="1319.6" y2="728.5" stroke="#1a1a1a" stroke-width="1.6"/>
<text x="1317.3" y="787.31" font-size="32.3" text-anchor="middle" transform="rotate(-45 1317.3 775.2)">2100</text>
<line x1="781.6" y1="124.07" x2="796.6" y2="124.07" stroke="#1a1a1a" stroke-width="1.6"/>
<text x="777.2" y="136.18" font-size="32.3" text-anchor="end">80</text>
<line x1="781.6" y1="193.42" x2="796.6" y2="193.42" stroke="#1a1a1a" stroke-width="1.6"/>
<text x="777.2" y="205.53" font-size="32.3" text-anchor="end">60</text>
<line x1="781.6" y1="262.76" x2="796.6" y2="262.76" stroke="#1a1a1a" stroke-width="1.6"/>
<text x="777.2" y="274.87" font-size="32.3" text-anchor="end">40</text>
<line x1="781.6" y1="332.11" x2="796.6" y2="332.11" stroke="#1a1a1a" stroke-width="1.6"/>
<text x="777.2" y="344.22" font-size="32.3" text-anchor="end">20</text>
<line x1="781.6" y1="401.45" x2="796.6" y2="401.45" stroke="#1a1a1a" stroke-width="1.6"/>
<text x="777.2" y="413.56" font-size="32.3" text-anchor="end">0</text>
<line x1="781.6" y1="470.79" x2="796.6" y2="470.79" stroke="#1a1a1a" stroke-width="1.6"/>
<text x="777.2" y="482.91" font-size="32.3" text-anchor="end">−20</text>
<line x1="781.6" y1="540.14" x2="796.6" y2="540.14" stroke="#1a1a1a" stroke-width="1.6"/>
<text x="777.2" y="552.25" font-size="32.3" text-anchor="end">−40</text>
<line x1="781.6" y1="609.48" x2="796.6" y2="609.48" stroke="#1a1a1a" stroke-width="1.6"/>
<text x="777.2" y="621.6" font-size="32.3" text-anchor="end">−60</text>
<line x1="781.6" y1="678.83" x2="796.6" y2="678.83" stroke="#1a1a1a" stroke-width="1.6"/>
<text x="777.2" y="690.94" font-size="32.3" text-anchor="end">−80</text>
<text x="1052.1" y="35.2" font-size="41" text-anchor="middle">Aerosols</text>
<text x="1058.1" y="80.8" font-size="41" text-anchor="middle">AOD difference</text>
<text x="691.1" y="68.9" font-size="37">(b)</text>
<text x="1058.1" y="849.3" font-size="38.2" text-anchor="middle">Time (year)</text>
<text x="696" y="401.5" font-size="38.2" text-anchor="middle" transform="rotate(-90 696 401.5)">Latitude (degrees)</text>
<defs><clipPath id="clipd"><rect x="171.8" y="963.8" width="1694.8" height="832.2"/></clipPath>
<pattern id="hatch" patternUnits="userSpaceOnUse" width="36" height="36"><path d="M0 36L36 0M-2 2L2 -2M34 38L38 34" stroke="#000" stroke-width="1.3"/></pattern></defs>
<g clip-path="url(#clipd)">
<path fill="#62d5e2" stroke="#fff" stroke-width="0.9" d="M180.48 1439.26h6.76v0.04h-6.76zM187.24 1439.22h6.76v0.08h-6.76zM194.01 1439.18h6.76v0.12h-6.76zM200.77 1439.14h6.76v0.16h-6.76zM207.53 1439.1h6.76v0.2h-6.76zM214.3 1439.06h6.76v0.24h-6.76zM221.06 1439.02h6.76v0.28h-6.76zM227.82 1438.98h6.76v0.32h-6.76zM234.59 1438.94h6.76v0.36h-6.76zM241.35 1438.9h6.76v0.4h-6.76zM248.11 1438.86h6.76v0.44h-6.76zM254.87 1438.82h6.76v0.48h-6.76zM261.64 1438.78h6.76v0.52h-6.76zM268.4 1438.75h6.76v0.55h-6.76zM275.16 1438.71h6.76v0.59h-6.76zM281.93 1438.67h6.76v0.63h-6.76zM288.69 1438.63h6.76v0.67h-6.76zM295.45 1438.59h6.76v0.71h-6.76zM302.22 1438.55h6.76v0.75h-6.76zM308.98 1438.51h6.76v0.79h-6.76zM315.74 1438.47h6.76v0.83h-6.76zM322.5 1438.43h6.76v0.87h-6.76zM329.27 1438.39h6.76v0.91h-6.76zM336.03 1438.35h6.76v0.95h-6.76zM342.79 1438.31h6.76v0.99h-6.76zM349.56 1438.27h6.76v1.03h-6.76zM356.32 1438.23h6.76v1.07h-6.76zM363.08 1438.19h6.76v1.11h-6.76zM369.85 1438.15h6.76v1.15h-6.76zM376.61 1438.11h6.76v1.19h-6.76zM383.37 1437.93h6.76v1.37h-6.76zM390.13 1437.75h6.76v1.55h-6.76zM396.9 1437.58h6.76v1.72h-6.76zM403.66 1437.4h6.76v1.9h-6.76zM410.42 1437.22h6.76v2.08h-6.76zM417.19 1437.04h6.76v2.26h-6.76zM423.95 1436.86h6.76v2.44h-6.76zM430.71 1436.68h6.76v2.62h-6.76zM437.48 1436.51h6.76v2.79h-6.76zM444.24 1436.33h6.76v2.97h-6.76zM451 1436.15h6.76v3.15h-6.76zM457.76 1435.97h6.76v3.33h-6.76zM464.53 1435.79h6.76v3.51h-6.76zM471.29 1435.61h6.76v3.69h-6.76zM478.05 1435.44h6.76v3.86h-6.76zM484.82 1435.26h6.76v4.04h-6.76zM491.58 1435.08h6.76v4.22h-6.76zM498.34 1434.9h6.76v4.4h-6.76zM505.11 1434.72h6.76v4.58h-6.76zM511.87 1434.54h6.76v4.76h-6.76zM518.63 1434.28h6.76v5.02h-6.76zM525.39 1434.02h6.76v5.28h-6.76zM532.16 1433.75h6.76v5.55h-6.76zM538.92 1433.49h6.76v5.81h-6.76zM545.68 1433.22h6.76v6.08h-6.76zM552.45 1432.96h6.76v6.34h-6.76zM559.21 1432.7h6.76v6.6h-6.76zM565.97 1432.43h6.76v6.87h-6.76zM572.74 1432.17h6.76v7.13h-6.76zM579.5 1421.71h6.76v17.59h-6.76zM586.26 1420.83h6.76v18.47h-6.76zM593.02 1419.96h6.76v19.34h-6.76zM599.79 1419.08h6.76v20.22h-6.76zM606.55 1418.21h6.76v21.09h-6.76zM613.31 1417.33h6.76v21.97h-6.76zM620.08 1416.46h6.76v22.84h-6.76zM626.84 1415.58h6.76v23.72h-6.76zM633.6 1414.71h6.76v24.59h-6.76zM640.37 1413.83h6.76v25.47h-6.76zM647.13 1412.96h6.76v26.34h-6.76zM653.89 1412.08h6.76v27.22h-6.76zM660.65 1411.21h6.76v28.09h-6.76zM667.42 1410.33h6.76v28.97h-6.76zM674.18 1409.46h6.76v29.84h-6.76zM680.94 1408.58h6.76v30.72h-6.76zM687.71 1407.71h6.76v31.59h-6.76zM694.47 1406.83h6.76v32.47h-6.76zM701.23 1405.96h6.76v33.34h-6.76zM708 1405.08h6.76v34.22h-6.76zM714.76 1404.21h6.76v35.09h-6.76zM721.52 1403.33h6.76v35.97h-6.76zM728.28 1402.46h6.76v36.84h-6.76zM735.05 1401.58h6.76v37.72h-6.76zM741.81 1400.71h6.76v38.59h-6.76zM748.57 1399.83h6.76v39.47h-6.76zM755.34 1398.34h6.76v40.96h-6.76zM762.1 1396.86h6.76v42.44h-6.76zM768.86 1395.37h6.76v43.93h-6.76zM775.63 1393.89h6.76v45.41h-6.76zM782.39 1392.4h6.76v46.9h-6.76zM789.15 1390.91h6.76v48.39h-6.76zM795.91 1389.43h6.76v49.87h-6.76zM802.68 1387.94h6.76v51.36h-6.76zM809.44 1386.28h6.76v53.02h-6.76zM816.2 1384.61h6.76v54.69h-6.76zM822.97 1382.95h6.76v56.35h-6.76zM829.73 1381.28h6.76v58.02h-6.76zM836.49 1379.62h6.76v59.68h-6.76zM843.26 1377.96h6.76v61.34h-6.76zM850.02 1377.4h6.76v61.9h-6.76zM856.78 1376.85h6.76v62.45h-6.76zM863.54 1376.29h6.76v63.01h-6.76zM870.31 1373.32h6.76v65.98h-6.76zM877.07 1370.35h6.76v68.95h-6.76zM883.83 1367.37h6.76v71.93h-6.76zM890.6 1364.4h6.76v74.9h-6.76zM897.36 1361.43h6.76v77.87h-6.76zM904.12 1358.46h6.76v80.84h-6.76zM910.89 1355.68h6.76v83.62h-6.76zM917.65 1352.91h6.76v86.39h-6.76zM924.41 1350.14h6.76v89.16h-6.76zM931.17 1347.36h6.76v91.94h-6.76zM937.94 1344.59h6.76v94.71h-6.76zM944.7 1341.81h6.76v97.49h-6.76zM951.46 1339.04h6.76v100.26h-6.76zM958.23 1336.27h6.76v103.03h-6.76zM964.99 1333.49h6.76v105.81h-6.76zM971.75 1328.74h6.76v110.56h-6.76zM978.52 1326.12h6.76v113.18h-6.76zM985.28 1323.51h6.76v115.79h-6.76zM992.04 1320.89h6.76v118.41h-6.76zM998.8 1318.28h6.76v121.02h-6.76zM1005.57 1315.66h6.76v123.64h-6.76zM1012.33 1311.45h6.76v127.85h-6.76zM1019.09 1307.24h6.76v132.06h-6.76zM1025.86 1303.02h6.76v136.28h-6.76zM1032.62 1298.81h6.76v140.49h-6.76zM1039.38 1294.6h6.76v144.7h-6.76zM1046.15 1290.39h6.76v148.91h-6.76zM1052.91 1286.18h6.76v153.12h-6.76zM1059.67 1282.57h6.76v156.73h-6.76zM1066.43 1278.96h6.76v160.34h-6.76zM1073.2 1275.36h6.76v163.94h-6.76zM1079.96 1271.75h6.76v167.55h-6.76zM1086.72 1268.15h6.76v171.15h-6.76zM1093.49 1264.54h6.76v174.76h-6.76zM1100.25 1260.5h6.76v178.8h-6.76zM1107.01 1256.45h6.76v182.85h-6.76zM1113.78 1252.41h6.76v186.89h-6.76zM1120.54 1248.37h6.76v190.93h-6.76zM1127.3 1244.33h6.76v194.97h-6.76zM1134.06 1240.29h6.76v199.01h-6.76zM1140.83 1236.24h6.76v203.06h-6.76zM1147.59 1229.05h6.76v210.25h-6.76zM1154.35 1221.86h6.76v217.44h-6.76zM1161.12 1214.67h6.76v224.63h-6.76zM1167.88 1207.47h6.76v231.83h-6.76zM1174.64 1204.62h6.76v234.68h-6.76zM1181.41 1201.77h6.76v237.53h-6.76zM1188.17 1198.91h6.76v240.39h-6.76zM1194.93 1195.26h6.76v244.04h-6.76zM1201.69 1191.6h6.76v247.7h-6.76zM1208.46 1187.95h6.76v251.35h-6.76zM1215.22 1184.29h6.76v255.01h-6.76zM1221.98 1180.64h6.76v258.66h-6.76zM1228.75 1176.98h6.76v262.32h-6.76zM1235.51 1173.32h6.76v265.98h-6.76zM1242.27 1169.67h6.76v269.63h-6.76zM1249.04 1167.4h6.76v271.9h-6.76zM1255.8 1165.12h6.76v274.18h-6.76zM1262.56 1162.85h6.76v276.45h-6.76zM1269.32 1160.58h6.76v278.72h-6.76zM1276.09 1158.31h6.76v280.99h-6.76zM1282.85 1156.04h6.76v283.26h-6.76zM1289.61 1153.76h6.76v285.54h-6.76zM1296.38 1151.49h6.76v287.81h-6.76zM1303.14 1149.22h6.76v290.08h-6.76zM1309.9 1146.25h6.76v293.05h-6.76zM1316.67 1143.28h6.76v296.02h-6.76zM1323.43 1140.3h6.76v299h-6.76zM1330.19 1137.33h6.76v301.97h-6.76zM1336.95 1135.57h6.76v303.73h-6.76zM1343.72 1133.81h6.76v305.49h-6.76zM1350.48 1132.05h6.76v307.25h-6.76zM1357.24 1130.29h6.76v309.01h-6.76zM1364.01 1128.53h6.76v310.77h-6.76zM1370.77 1127.82h6.76v311.48h-6.76zM1377.53 1127.11h6.76v312.19h-6.76zM1384.3 1126.39h6.76v312.91h-6.76zM1391.06 1125.68h6.76v313.62h-6.76zM1397.82 1124.97h6.76v314.33h-6.76zM1404.58 1124.25h6.76v315.05h-6.76zM1411.35 1123.54h6.76v315.76h-6.76zM1418.11 1122.83h6.76v316.47h-6.76zM1424.87 1122.83h6.76v316.47h-6.76zM1431.64 1122.83h6.76v316.47h-6.76zM1438.4 1122.83h6.76v316.47h-6.76zM1445.16 1122.83h6.76v316.47h-6.76zM1451.93 1122.83h6.76v316.47h-6.76zM1458.69 1122.83h6.76v316.47h-6.76zM1465.45 1122.83h6.76v316.47h-6.76zM1472.21 1122.83h6.76v316.47h-6.76zM1478.98 1122.83h6.76v316.47h-6.76zM1485.74 1122.83h6.76v316.47h-6.76zM1492.5 1122.83h6.76v316.47h-6.76zM1499.27 1122.83h6.76v316.47h-6.76zM1506.03 1122.83h6.76v316.47h-6.76zM1512.79 1122.83h6.76v316.47h-6.76zM1519.56 1122.83h6.76v316.47h-6.76zM1526.32 1122.83h6.76v316.47h-6.76zM1533.08 1122.83h6.76v316.47h-6.76zM1539.84 1122.11h6.76v317.19h-6.76zM1546.61 1121.4h6.76v317.9h-6.76zM1553.37 1120.69h6.76v318.61h-6.76zM1560.13 1119.97h6.76v319.33h-6.76zM1566.9 1119.26h6.76v320.04h-6.76zM1573.66 1118.55h6.76v320.75h-6.76zM1580.42 1117.83h6.76v321.47h-6.76zM1587.19 1116.84h6.76v322.46h-6.76zM1593.95 1115.84h6.76v323.46h-6.76zM1600.71 1114.84h6.76v324.46h-6.76zM1607.47 1113.84h6.76v325.46h-6.76zM1614.24 1112.84h6.76v326.46h-6.76zM1621 1111.84h6.76v327.46h-6.76zM1627.76 1110.84h6.76v328.46h-6.76zM1634.53 1109.85h6.76v329.45h-6.76zM1641.29 1108.85h6.76v330.45h-6.76zM1648.05 1107.85h6.76v331.45h-6.76zM1654.82 1107.54h6.76v331.76h-6.76zM1661.58 1107.23h6.76v332.07h-6.76zM1668.34 1106.92h6.76v332.38h-6.76zM1675.1 1106.61h6.76v332.69h-6.76zM1681.87 1106.3h6.76v333h-6.76zM1688.63 1105.99h6.76v333.31h-6.76zM1695.39 1105.68h6.76v333.62h-6.76zM1702.16 1105.38h6.76v333.92h-6.76zM1708.92 1105.07h6.76v334.23h-6.76zM1715.68 1104.76h6.76v334.54h-6.76zM1722.45 1104.86h6.76v334.44h-6.76zM1729.21 1104.97h6.76v334.33h-6.76zM1735.97 1105.07h6.76v334.23h-6.76zM1742.73 1105.18h6.76v334.12h-6.76zM1749.5 1105.29h6.76v334.01h-6.76zM1756.26 1105.39h6.76v333.91h-6.76zM1763.02 1105.5h6.76v333.8h-6.76zM1769.79 1105.6h6.76v333.7h-6.76zM1776.55 1105.71h6.76v333.59h-6.76zM1783.31 1106.31h6.76v332.99h-6.76zM1790.08 1106.92h6.76v332.38h-6.76zM1796.84 1107.52h6.76v331.78h-6.76zM1803.6 1108.13h6.76v331.17h-6.76zM1810.36 1108.73h6.76v330.57h-6.76zM1817.13 1109.34h6.76v329.96h-6.76zM1823.89 1109.95h6.76v329.35h-6.76zM1830.65 1110.55h6.76v328.75h-6.76zM1837.42 1111.16h6.76v328.14h-6.76zM1844.18 1111.76h6.76v327.54h-6.76zM1850.94 1112.37h6.76v326.93h-6.76z"/>
<path fill="#c0f2f4" stroke="#fff" stroke-width="0.9" d="M180.48 1439.24h6.76v0.02h-6.76zM187.24 1439.17h6.76v0.05h-6.76zM194.01 1439.11h6.76v0.07h-6.76zM200.77 1439.05h6.76v0.1h-6.76zM207.53 1438.98h6.76v0.12h-6.76zM214.3 1438.92h6.76v0.14h-6.76zM221.06 1438.86h6.76v0.17h-6.76zM227.82 1438.79h6.76v0.19h-6.76zM234.59 1438.73h6.76v0.21h-6.76zM241.35 1438.67h6.76v0.24h-6.76zM248.11 1438.6h6.76v0.26h-6.76zM254.87 1438.54h6.76v0.29h-6.76zM261.64 1438.48h6.76v0.31h-6.76zM268.4 1438.41h6.76v0.33h-6.76zM275.16 1438.35h6.76v0.36h-6.76zM281.93 1438.29h6.76v0.38h-6.76zM288.69 1438.22h6.76v0.4h-6.76zM295.45 1438.16h6.76v0.43h-6.76zM302.22 1438.1h6.76v0.45h-6.76zM308.98 1438.03h6.76v0.48h-6.76zM315.74 1437.97h6.76v0.5h-6.76zM322.5 1437.91h6.76v0.52h-6.76zM329.27 1437.84h6.76v0.55h-6.76zM336.03 1437.78h6.76v0.57h-6.76zM342.79 1437.71h6.76v0.59h-6.76zM349.56 1437.65h6.76v0.62h-6.76zM356.32 1437.59h6.76v0.64h-6.76zM363.08 1437.52h6.76v0.67h-6.76zM369.85 1437.46h6.76v0.69h-6.76zM376.61 1437.4h6.76v0.71h-6.76zM383.37 1437.2h6.76v0.74h-6.76zM390.13 1436.99h6.76v0.76h-6.76zM396.9 1436.79h6.76v0.78h-6.76zM403.66 1436.59h6.76v0.81h-6.76zM410.42 1436.39h6.76v0.83h-6.76zM417.19 1436.19h6.76v0.86h-6.76zM423.95 1435.98h6.76v0.88h-6.76zM430.71 1435.78h6.76v0.9h-6.76zM437.48 1435.58h6.76v0.93h-6.76zM444.24 1435.38h6.76v0.95h-6.76zM451 1435.17h6.76v0.97h-6.76zM457.76 1434.97h6.76v1h-6.76zM464.53 1434.77h6.76v1.02h-6.76zM471.29 1434.57h6.76v1.05h-6.76zM478.05 1434.37h6.76v1.07h-6.76zM484.82 1434.16h6.76v1.09h-6.76zM491.58 1433.96h6.76v1.12h-6.76zM498.34 1433.76h6.76v1.14h-6.76zM505.11 1433.56h6.76v1.17h-6.76zM511.87 1433.36h6.76v1.19h-6.76zM518.63 1433.07h6.76v1.21h-6.76zM525.39 1432.78h6.76v1.24h-6.76zM532.16 1432.49h6.76v1.26h-6.76zM538.92 1432.2h6.76v1.28h-6.76zM545.68 1431.92h6.76v1.31h-6.76zM552.45 1431.63h6.76v1.33h-6.76zM559.21 1431.34h6.76v1.36h-6.76zM565.97 1431.05h6.76v1.38h-6.76zM572.74 1430.76h6.76v1.4h-6.76zM579.5 1420.28h6.76v1.43h-6.76zM586.26 1419.38h6.76v1.45h-6.76zM593.02 1418.48h6.76v1.47h-6.76zM599.79 1417.58h6.76v1.5h-6.76zM606.55 1416.68h6.76v1.52h-6.76zM613.31 1415.78h6.76v1.55h-6.76zM620.08 1414.89h6.76v1.57h-6.76zM626.84 1413.99h6.76v1.59h-6.76zM633.6 1413.09h6.76v1.62h-6.76zM640.37 1412.19h6.76v1.64h-6.76zM647.13 1411.29h6.76v1.66h-6.76zM653.89 1410.39h6.76v1.69h-6.76zM660.65 1409.49h6.76v1.71h-6.76zM667.42 1408.59h6.76v1.74h-6.76zM674.18 1407.7h6.76v1.76h-6.76zM680.94 1406.8h6.76v1.78h-6.76zM687.71 1405.9h6.76v1.81h-6.76zM694.47 1405h6.76v1.83h-6.76zM701.23 1404.1h6.76v1.85h-6.76zM708 1403.2h6.76v1.88h-6.76zM714.76 1402.3h6.76v1.9h-6.76zM721.52 1401.4h6.76v1.93h-6.76zM728.28 1400.51h6.76v1.95h-6.76zM735.05 1399.61h6.76v1.97h-6.76zM741.81 1398.71h6.76v2h-6.76zM748.57 1397.81h6.76v2.02h-6.76zM755.34 1396.3h6.76v2.04h-6.76zM762.1 1394.79h6.76v2.07h-6.76zM768.86 1393.28h6.76v2.09h-6.76zM775.63 1391.77h6.76v2.12h-6.76zM782.39 1390.26h6.76v2.14h-6.76zM789.15 1388.75h6.76v2.16h-6.76zM795.91 1387.24h6.76v2.19h-6.76zM802.68 1385.73h6.76v2.21h-6.76zM809.44 1384.04h6.76v2.24h-6.76zM816.2 1382.35h6.76v2.26h-6.76zM822.97 1380.67h6.76v2.28h-6.76zM829.73 1378.98h6.76v2.31h-6.76zM836.49 1377.29h6.76v2.33h-6.76zM843.26 1375.6h6.76v2.35h-6.76zM850.02 1375.02h6.76v2.38h-6.76zM856.78 1374.15h6.76v2.69h-6.76zM863.54 1373.28h6.76v3.01h-6.76zM870.31 1369.99h6.76v3.33h-6.76zM877.07 1366.7h6.76v3.65h-6.76zM883.83 1363.41h6.76v3.96h-6.76zM890.6 1360.12h6.76v4.28h-6.76zM897.36 1356.83h6.76v4.6h-6.76zM904.12 1353.54h6.76v4.91h-6.76zM910.89 1350.45h6.76v5.23h-6.76zM917.65 1347.36h6.76v5.55h-6.76zM924.41 1344.27h6.76v5.86h-6.76zM931.17 1341.18h6.76v6.18h-6.76zM937.94 1338.09h6.76v6.5h-6.76zM944.7 1335h6.76v6.82h-6.76zM951.46 1331.91h6.76v7.13h-6.76zM958.23 1328.82h6.76v7.45h-6.76zM964.99 1325.73h6.76v7.77h-6.76zM971.75 1320.65h6.76v8.08h-6.76zM978.52 1317.72h6.76v8.4h-6.76zM985.28 1314.79h6.76v8.72h-6.76zM992.04 1311.86h6.76v9.04h-6.76zM998.8 1308.92h6.76v9.35h-6.76zM1005.57 1305.99h6.76v9.67h-6.76zM1012.33 1301.46h6.76v9.99h-6.76zM1019.09 1296.93h6.76v10.3h-6.76zM1025.86 1292.4h6.76v10.62h-6.76zM1032.62 1287.87h6.76v10.94h-6.76zM1039.38 1283.35h6.76v11.25h-6.76zM1046.15 1278.82h6.76v11.57h-6.76zM1052.91 1274.29h6.76v11.89h-6.76zM1059.67 1270.21h6.76v12.36h-6.76zM1066.43 1266.12h6.76v12.84h-6.76zM1073.2 1262.04h6.76v13.32h-6.76zM1079.96 1257.96h6.76v13.79h-6.76zM1086.72 1253.88h6.76v14.27h-6.76zM1093.49 1249.8h6.76v14.74h-6.76zM1100.25 1245.28h6.76v15.22h-6.76zM1107.01 1240.76h6.76v15.69h-6.76zM1113.78 1236.24h6.76v16.17h-6.76zM1120.54 1231.73h6.76v16.64h-6.76zM1127.3 1227.3h6.76v17.02h-6.76zM1134.06 1222.88h6.76v17.4h-6.76zM1140.83 1218.46h6.76v17.79h-6.76zM1147.59 1210.89h6.76v18.17h-6.76zM1154.35 1203.31h6.76v18.55h-6.76zM1161.12 1195.74h6.76v18.93h-6.76zM1167.88 1188.17h6.76v19.31h-6.76zM1174.64 1184.93h6.76v19.69h-6.76zM1181.41 1181.7h6.76v20.07h-6.76zM1188.17 1178.47h6.76v20.45h-6.76zM1194.93 1174.45h6.76v20.8h-6.76zM1201.69 1170.44h6.76v21.16h-6.76zM1208.46 1166.43h6.76v21.52h-6.76zM1215.22 1162.42h6.76v21.87h-6.76zM1221.98 1158.4h6.76v22.23h-6.76zM1228.75 1154.39h6.76v22.59h-6.76zM1235.51 1150.38h6.76v22.94h-6.76zM1242.27 1146.37h6.76v23.3h-6.76zM1249.04 1143.78h6.76v23.62h-6.76zM1255.8 1141.19h6.76v23.94h-6.76zM1262.56 1138.6h6.76v24.25h-6.76zM1269.32 1136.01h6.76v24.57h-6.76zM1276.09 1133.42h6.76v24.89h-6.76zM1282.85 1130.83h6.76v25.2h-6.76zM1289.61 1128.24h6.76v25.52h-6.76zM1296.38 1125.65h6.76v25.84h-6.76zM1303.14 1123.07h6.76v26.15h-6.76zM1309.9 1120.39h6.76v25.86h-6.76zM1316.67 1117.72h6.76v25.56h-6.76zM1323.43 1115.04h6.76v25.26h-6.76zM1330.19 1112.37h6.76v24.97h-6.76zM1336.95 1109.75h6.76v25.82h-6.76zM1343.72 1107.14h6.76v26.68h-6.76zM1350.48 1104.52h6.76v27.53h-6.76zM1357.24 1101.9h6.76v28.39h-6.76zM1364.01 1099.29h6.76v29.25h-6.76zM1370.77 1098.37h6.76v29.45h-6.76zM1377.53 1097.45h6.76v29.66h-6.76zM1384.3 1096.52h6.76v29.87h-6.76zM1391.06 1095.6h6.76v30.08h-6.76zM1397.82 1094.68h6.76v30.29h-6.76zM1404.58 1093.76h6.76v30.49h-6.76zM1411.35 1092.84h6.76v30.7h-6.76zM1418.11 1091.92h6.76v30.91h-6.76zM1424.87 1091.6h6.76v31.23h-6.76zM1431.64 1091.28h6.76v31.54h-6.76zM1438.4 1090.97h6.76v31.86h-6.76zM1445.16 1090.65h6.76v32.18h-6.76zM1451.93 1090.33h6.76v32.5h-6.76zM1458.69 1090.02h6.76v32.81h-6.76zM1465.45 1089.7h6.76v33.13h-6.76zM1472.21 1089.38h6.76v33.45h-6.76zM1478.98 1089.06h6.76v33.76h-6.76zM1485.74 1088.89h6.76v33.94h-6.76zM1492.5 1088.71h6.76v34.12h-6.76zM1499.27 1088.53h6.76v34.3h-6.76zM1506.03 1088.35h6.76v34.48h-6.76zM1512.79 1088.17h6.76v34.65h-6.76zM1519.56 1087.99h6.76v34.83h-6.76zM1526.32 1087.82h6.76v35.01h-6.76zM1533.08 1087.64h6.76v35.19h-6.76zM1539.84 1087.37h6.76v34.75h-6.76zM1546.61 1087.09h6.76v34.31h-6.76zM1553.37 1086.82h6.76v33.87h-6.76zM1560.13 1086.55h6.76v33.42h-6.76zM1566.9 1086.28h6.76v32.98h-6.76zM1573.66 1086.01h6.76v32.54h-6.76zM1580.42 1085.74h6.76v32.1h-6.76zM1587.19 1085.52h6.76v31.31h-6.76zM1593.95 1085.31h6.76v30.53h-6.76zM1600.71 1085.09h6.76v29.75h-6.76zM1607.47 1084.88h6.76v28.96h-6.76zM1614.24 1084.67h6.76v28.18h-6.76zM1621 1084.45h6.76v27.39h-6.76zM1627.76 1084.24h6.76v26.61h-6.76zM1634.53 1084.02h6.76v25.82h-6.76zM1641.29 1083.81h6.76v25.04h-6.76zM1648.05 1083.6h6.76v24.25h-6.76zM1654.82 1083.71h6.76v23.82h-6.76zM1661.58 1083.83h6.76v23.4h-6.76zM1668.34 1083.95h6.76v22.97h-6.76zM1675.1 1084.07h6.76v22.54h-6.76zM1681.87 1084.19h6.76v22.11h-6.76zM1688.63 1084.31h6.76v21.68h-6.76zM1695.39 1084.43h6.76v21.26h-6.76zM1702.16 1084.55h6.76v20.83h-6.76zM1708.92 1084.67h6.76v20.4h-6.76zM1715.68 1084.78h6.76v19.97h-6.76zM1722.45 1085.26h6.76v19.6h-6.76zM1729.21 1085.74h6.76v19.23h-6.76zM1735.97 1086.21h6.76v18.86h-6.76zM1742.73 1086.69h6.76v18.49h-6.76zM1749.5 1087.16h6.76v18.12h-6.76zM1756.26 1087.64h6.76v17.75h-6.76zM1763.02 1088.11h6.76v17.38h-6.76zM1769.79 1088.59h6.76v17.01h-6.76zM1776.55 1089.06h6.76v16.64h-6.76zM1783.31 1089.89h6.76v16.43h-6.76zM1790.08 1090.71h6.76v16.21h-6.76zM1796.84 1091.53h6.76v16h-6.76zM1803.6 1092.35h6.76v15.78h-6.76zM1810.36 1093.17h6.76v15.56h-6.76zM1817.13 1093.99h6.76v15.35h-6.76zM1823.89 1094.81h6.76v15.13h-6.76zM1830.65 1095.64h6.76v14.91h-6.76zM1837.42 1096.46h6.76v14.7h-6.76zM1844.18 1097.28h6.76v14.48h-6.76zM1850.94 1098.1h6.76v14.27h-6.76z"/>
<path fill="#ee8b4f" stroke="#fff" stroke-width="0.9" d="M180.48 1439.4h6.76v0.87h-6.76zM187.24 1439.5h6.76v1.73h-6.76zM194.01 1439.61h6.76v2.6h-6.76zM200.77 1439.71h6.76v3.46h-6.76zM207.53 1439.81h6.76v4.33h-6.76zM214.3 1439.91h6.76v5.19h-6.76zM221.06 1440.02h6.76v6.06h-6.76zM227.82 1440.12h6.76v6.92h-6.76zM234.59 1440.22h6.76v7.79h-6.76zM241.35 1440.32h6.76v8.65h-6.76zM248.11 1440.42h6.76v9.52h-6.76zM254.87 1440.53h6.76v10.39h-6.76zM261.64 1440.63h6.76v11.25h-6.76zM268.4 1440.73h6.76v12.12h-6.76zM275.16 1440.83h6.76v12.98h-6.76zM281.93 1440.94h6.76v13.85h-6.76zM288.69 1441.04h6.76v14.71h-6.76zM295.45 1441.14h6.76v15.58h-6.76zM302.22 1441.24h6.76v16.44h-6.76zM308.98 1441.34h6.76v17.31h-6.76zM315.74 1441.45h6.76v18.18h-6.76zM322.5 1441.55h6.76v19.04h-6.76zM329.27 1441.65h6.76v19.91h-6.76zM336.03 1441.75h6.76v20.77h-6.76zM342.79 1441.86h6.76v21.64h-6.76zM349.56 1441.96h6.76v22.74h-6.76zM356.32 1442.06h6.76v23.84h-6.76zM363.08 1442.16h6.76v24.95h-6.76zM369.85 1442.26h6.76v26.05h-6.76zM376.61 1442.37h6.76v27.16h-6.76zM383.37 1442.47h6.76v28.26h-6.76zM390.13 1442.57h6.76v29.36h-6.76zM396.9 1442.67h6.76v30.47h-6.76zM403.66 1442.78h6.76v31.57h-6.76zM410.42 1442.88h6.76v32.68h-6.76zM417.19 1442.98h6.76v33.78h-6.76zM423.95 1443.08h6.76v34.88h-6.76zM430.71 1443.19h6.76v35.99h-6.76zM437.48 1443.29h6.76v37.09h-6.76zM444.24 1443.39h6.76v37.95h-6.76zM451 1443.49h6.76v38.8h-6.76zM457.76 1443.59h6.76v39.66h-6.76zM464.53 1443.7h6.76v40.52h-6.76zM471.29 1443.8h6.76v41.37h-6.76zM478.05 1443.9h6.76v42.23h-6.76zM484.82 1444h6.76v43.08h-6.76zM491.58 1444.11h6.76v43.94h-6.76zM498.34 1444.21h6.76v44.8h-6.76zM505.11 1444.31h6.76v45.65h-6.76zM511.87 1444.41h6.76v46.37h-6.76zM518.63 1444.79h6.76v47.08h-6.76zM525.39 1445.17h6.76v47.79h-6.76zM532.16 1445.55h6.76v48.51h-6.76zM538.92 1445.93h6.76v49.22h-6.76zM545.68 1446.31h6.76v49.93h-6.76zM552.45 1446.69h6.76v50.65h-6.76zM559.21 1447.07h6.76v51.36h-6.76zM565.97 1447.45h6.76v52.07h-6.76zM572.74 1447.83h6.76v52.78h-6.76zM579.5 1448.21h6.76v50.79h-6.76zM586.26 1448.59h6.76v48.79h-6.76zM593.02 1448.97h6.76v46.79h-6.76zM599.79 1449.35h6.76v44.8h-6.76zM606.55 1449.72h6.76v42.8h-6.76zM613.31 1450.1h6.76v40.8h-6.76zM620.08 1450.48h6.76v38.8h-6.76zM626.84 1450.86h6.76v36.81h-6.76zM633.6 1451.24h6.76v34.81h-6.76zM640.37 1451.62h6.76v32.81h-6.76zM647.13 1452h6.76v33.02h-6.76zM653.89 1452.38h6.76v33.23h-6.76zM660.65 1452.76h6.76v33.45h-6.76zM667.42 1453.14h6.76v33.66h-6.76zM674.18 1453.52h6.76v33.87h-6.76zM680.94 1453.9h6.76v34.08h-6.76zM687.71 1454.28h6.76v34.29h-6.76zM694.47 1454.66h6.76v34.5h-6.76zM701.23 1455.04h6.76v34.71h-6.76zM708 1455.43h6.76v34.5h-6.76zM714.76 1455.82h6.76v34.29h-6.76zM721.52 1456.22h6.76v34.08h-6.76zM728.28 1456.61h6.76v33.87h-6.76zM735.05 1457.01h6.76v33.66h-6.76zM741.81 1457.4h6.76v33.45h-6.76zM748.57 1457.79h6.76v33.23h-6.76zM755.34 1458.19h6.76v33.02h-6.76zM762.1 1458.58h6.76v32.81h-6.76zM768.86 1458.97h6.76v33.29h-6.76zM775.63 1459.37h6.76v33.76h-6.76zM782.39 1459.76h6.76v34.24h-6.76zM789.15 1460.15h6.76v34.71h-6.76zM795.91 1460.55h6.76v35.19h-6.76zM802.68 1460.94h6.76v35.67h-6.76zM809.44 1461.33h6.76v36.1h-6.76zM816.2 1461.73h6.76v36.54h-6.76zM822.97 1462.12h6.76v36.97h-6.76zM829.73 1462.52h6.76v37.41h-6.76zM836.49 1462.91h6.76v37.85h-6.76zM843.26 1463.3h6.76v38.28h-6.76zM850.02 1464.05h6.76v40.58h-6.76zM856.78 1464.91h6.76v42.88h-6.76zM863.54 1465.77h6.76v45.18h-6.76zM870.31 1466.63h6.76v48.35h-6.76zM877.07 1467.49h6.76v51.52h-6.76zM883.83 1468.35h6.76v54.69h-6.76zM890.6 1469.21h6.76v57.86h-6.76zM897.36 1470.06h6.76v61.03h-6.76zM904.12 1470.92h6.76v64.2h-6.76zM910.89 1472.4h6.76v67.76h-6.76zM917.65 1473.87h6.76v71.33h-6.76zM924.41 1475.35h6.76v74.9h-6.76zM931.17 1476.82h6.76v78.46h-6.76zM937.94 1478.29h6.76v81.63h-6.76zM944.7 1479.77h6.76v84.8h-6.76zM951.46 1481.24h6.76v87.97h-6.76zM958.23 1482.72h6.76v91.54h-6.76zM964.99 1484.19h6.76v95.11h-6.76zM971.75 1485.67h6.76v99.86h-6.76zM978.52 1487.77h6.76v45.65h-6.76zM985.28 1489.88h6.76v44.9h-6.76zM992.04 1491.98h6.76v44.15h-6.76zM998.8 1494.09h6.76v43.39h-6.76zM1005.57 1496.19h6.76v42.64h-6.76zM1012.33 1498.3h6.76v41.89h-6.76zM1019.09 1500.41h6.76v41.13h-6.76zM1025.86 1502.81h6.76v40.85h-6.76zM1032.62 1505.21h6.76v40.57h-6.76zM1039.38 1507.6h6.76v40.29h-6.76zM1046.15 1510h6.76v40.01h-6.76zM1052.91 1512.4h6.76v39.73h-6.76zM1059.67 1514.8h6.76v39.45h-6.76zM1066.43 1517.2h6.76v39.17h-6.76zM1073.2 1519.6h6.76v38.89h-6.76zM1079.96 1522h6.76v38.61h-6.76zM1086.72 1524.4h6.76v38.32h-6.76zM1093.49 1526.8h6.76v38.04h-6.76zM1100.25 1529.46h6.76v36.44h-6.76zM1107.01 1532.12h6.76v34.84h-6.76zM1113.78 1534.78h6.76v33.24h-6.76zM1120.54 1537.43h6.76v31.65h-6.76zM1127.3 1540.09h6.76v30.05h-6.76zM1134.06 1542.75h6.76v28.45h-6.76zM1140.83 1545.41h6.76v26.85h-6.76zM1147.59 1548.07h6.76v25.25h-6.76zM1154.35 1550.73h6.76v23.65h-6.76zM1161.12 1553.39h6.76v22.05h-6.76zM1167.88 1556.05h6.76v20.45h-6.76zM1174.64 1558.07h6.76v19.97h-6.76zM1181.41 1560.09h6.76v19.5h-6.76zM1188.17 1562.11h6.76v19.02h-6.76zM1194.93 1564.13h6.76v18.55h-6.76zM1201.69 1566.55h6.76v17.3h-6.76zM1208.46 1568.98h6.76v16.05h-6.76zM1215.22 1571.41h6.76v14.8h-6.76zM1221.98 1573.83h6.76v13.55h-6.76zM1228.75 1576.26h6.76v12.88h-6.76zM1235.51 1578.68h6.76v12.21h-6.76zM1242.27 1581.11h6.76v11.53h-6.76zM1249.04 1583.53h6.76v10.86h-6.76zM1255.8 1585.96h6.76v10.18h-6.76zM1262.56 1588.38h6.76v9.51h-6.76zM1269.32 1591.17h6.76v9.51h-6.76zM1276.09 1593.95h6.76v27.58h-6.76zM1282.85 1596.74h6.76v21.4h-6.76zM1289.61 1599.52h6.76v16.64h-6.76zM1296.38 1602.31h6.76v11.89h-6.76zM1303.14 1605.1h6.76v9.51h-6.76zM1309.9 1607.88h6.76v7.13h-6.76zM1316.67 1610.67h6.76v2.38h-6.76zM1323.43 1113.14h6.76v1.9h-6.76zM1330.19 1105h6.76v7.37h-6.76zM1336.95 1099.43h6.76v10.32h-6.76zM1343.72 1093.87h6.76v13.27h-6.76zM1350.48 1088.3h6.76v16.22h-6.76zM1357.24 1082.74h6.76v19.16h-6.76zM1364.01 1077.18h6.76v22.11h-6.76zM1370.77 1073.34h6.76v25.03h-6.76zM1377.53 1069.51h6.76v27.94h-6.76zM1384.3 1065.67h6.76v30.85h-6.76zM1391.06 1061.84h6.76v33.76h-6.76zM1397.82 1058.01h6.76v36.68h-6.76zM1404.58 1054.17h6.76v39.59h-6.76zM1411.35 1050.34h6.76v42.5h-6.76zM1418.11 1046.5h6.76v45.41h-6.76zM1424.87 1045.02h6.76v46.58h-6.76zM1431.64 1043.55h6.76v47.74h-6.76zM1438.4 1042.07h6.76v48.9h-6.76zM1445.16 1040.59h6.76v50.06h-6.76zM1451.93 1039.11h6.76v51.23h-6.76zM1458.69 1037.63h6.76v52.39h-6.76zM1465.45 1036.15h6.76v53.55h-6.76zM1472.21 1034.67h6.76v54.71h-6.76zM1478.98 1033.19h6.76v55.88h-6.76zM1485.74 1032.73h6.76v56.15h-6.76zM1492.5 1032.28h6.76v56.43h-6.76zM1499.27 1031.82h6.76v56.71h-6.76zM1506.03 1031.37h6.76v56.99h-6.76zM1512.79 1030.91h6.76v57.26h-6.76zM1519.56 1650.01h6.76v5.94h-6.76zM1526.32 1029.77h6.76v58.04h-6.76zM1533.08 1029.09h6.76v58.54h-6.76zM1539.84 1028.32h6.76v59.05h-6.76zM1546.61 1027.55h6.76v59.55h-6.76zM1553.37 1026.77h6.76v60.05h-6.76zM1560.13 1026h6.76v60.55h-6.76zM1566.9 1025.23h6.76v61.05h-6.76zM1573.66 1024.45h6.76v61.56h-6.76zM1580.42 1023.68h6.76v62.06h-6.76zM1587.19 1023.51h6.76v62.01h-6.76zM1593.95 1023.35h6.76v61.96h-6.76zM1600.71 1023.18h6.76v61.92h-6.76zM1607.47 1023.01h6.76v61.87h-6.76zM1614.24 1022.85h6.76v61.82h-6.76zM1621 1022.68h6.76v61.77h-6.76zM1627.76 1022.51h6.76v61.73h-6.76zM1634.53 1022.35h6.76v61.68h-6.76zM1641.29 1022.18h6.76v61.63h-6.76zM1648.05 1022.01h6.76v61.58h-6.76zM1654.82 1022.2h6.76v61.51h-6.76zM1661.58 1022.39h6.76v61.44h-6.76zM1668.34 1022.58h6.76v61.37h-6.76zM1675.1 1022.77h6.76v61.3h-6.76zM1681.87 1022.96h6.76v61.23h-6.76zM1688.63 1023.15h6.76v61.15h-6.76zM1695.39 1023.35h6.76v61.08h-6.76zM1702.16 1023.54h6.76v61.01h-6.76zM1708.92 1023.73h6.76v60.94h-6.76zM1715.68 1023.92h6.76v60.87h-6.76zM1722.45 1024.55h6.76v60.71h-6.76zM1729.21 1025.18h6.76v60.55h-6.76zM1735.97 1025.82h6.76v60.39h-6.76zM1742.73 1026.45h6.76v60.24h-6.76zM1749.5 1027.09h6.76v60.08h-6.76zM1756.26 1027.72h6.76v59.92h-6.76zM1763.02 1028.35h6.76v59.76h-6.76zM1769.79 1028.99h6.76v59.6h-6.76zM1776.55 1029.62h6.76v59.44h-6.76zM1783.31 1030.53h6.76v59.36h-6.76zM1790.08 1031.44h6.76v59.27h-6.76zM1796.84 1032.35h6.76v59.18h-6.76zM1803.6 1033.25h6.76v59.1h-6.76zM1810.36 1034.16h6.76v59.01h-6.76zM1817.13 1035.07h6.76v58.92h-6.76zM1823.89 1035.98h6.76v58.84h-6.76zM1830.65 1036.89h6.76v58.75h-6.76zM1837.42 1037.79h6.76v58.66h-6.76zM1844.18 1038.7h6.76v58.58h-6.76zM1850.94 1039.61h6.76v58.49h-6.76z"/>
<path fill="#98fb98" stroke="#fff" stroke-width="0.9" d="M180.48 1438.05h6.76v1.19h-6.76zM194.01 1420.8h6.76v18.31h-6.76zM200.77 1436.67h6.76v2.38h-6.76zM214.3 1435.35h6.76v3.57h-6.76zM221.06 1436.48h6.76v2.38h-6.76zM227.82 1404.32h6.76v34.48h-6.76zM234.59 1436.35h6.76v2.38h-6.76zM241.35 1437.48h6.76v1.19h-6.76zM248.11 1431.47h6.76v7.13h-6.76zM261.64 1426.59h6.76v11.89h-6.76zM268.4 1432.46h6.76v5.95h-6.76zM281.93 1424.72h6.76v13.57h-6.76zM288.69 1428.29h6.76v9.93h-6.76zM295.45 1426.58h6.76v11.58h-6.76zM308.98 1412.82h6.76v25.21h-6.76zM315.74 1426.19h6.76v11.78h-6.76zM322.5 1430.55h6.76v7.35h-6.76zM329.27 1406.17h6.76v31.67h-6.76zM336.03 1425.54h6.76v12.24h-6.76zM349.56 1427.43h6.76v10.22h-6.76zM363.08 1411.03h6.76v26.5h-6.76zM369.85 1425.08h6.76v12.39h-6.76zM376.61 1427.61h6.76v9.79h-6.76zM383.37 1407.83h6.76v29.36h-6.76zM390.13 1435.25h6.76v1.75h-6.76zM396.9 1411.33h6.76v25.46h-6.76zM410.42 1422.07h6.76v14.31h-6.76zM417.19 1426.87h6.76v9.31h-6.76zM423.95 1396.93h6.76v39.06h-6.76zM430.71 1479.17h6.76v7.13h-6.76zM437.48 1414.24h6.76v21.34h-6.76zM444.24 1400.19h6.76v35.19h-6.76zM451 1410.44h6.76v24.74h-6.76zM457.76 1400.94h6.76v34.03h-6.76zM464.53 1414.77h6.76v20h-6.76zM471.29 1424.85h6.76v9.71h-6.76zM478.05 1425.2h6.76v9.17h-6.76zM484.82 1399.16h6.76v35h-6.76zM491.58 1376.53h6.76v57.44h-6.76zM498.34 1398.67h6.76v35.09h-6.76zM505.11 1407.14h6.76v26.41h-6.76zM511.87 1377.34h6.76v56.02h-6.76zM518.63 1396.96h6.76v36.11h-6.76zM525.39 1398.29h6.76v34.49h-6.76zM532.16 1396.2h6.76v36.29h-6.76zM538.92 1400.49h6.76v31.71h-6.76zM545.68 1402.31h6.76v29.61h-6.76zM552.45 1415.4h6.76v16.23h-6.76zM559.21 1392.09h6.76v39.25h-6.76zM565.97 1398.89h6.76v32.16h-6.76zM572.74 1383.29h6.76v47.47h-6.76zM579.5 1391.38h6.76v28.9h-6.76zM586.26 1410.18h6.76v9.2h-6.76zM593.02 1389.23h6.76v29.25h-6.76zM599.79 1368.37h6.76v49.21h-6.76zM606.55 1393.66h6.76v23.02h-6.76zM613.31 1400.21h6.76v15.58h-6.76zM620.08 1404.35h6.76v10.54h-6.76zM626.84 1403.17h6.76v10.82h-6.76zM633.6 1394.78h6.76v18.31h-6.76zM640.37 1405.77h6.76v6.42h-6.76zM647.13 1374.46h6.76v36.83h-6.76zM653.89 1485.62h6.76v4.76h-6.76zM660.65 1390.13h6.76v19.36h-6.76zM667.42 1373.9h6.76v34.69h-6.76zM674.18 1372.7h6.76v34.99h-6.76zM680.94 1392.68h6.76v14.11h-6.76zM687.71 1385.78h6.76v20.12h-6.76zM694.47 1380.57h6.76v24.43h-6.76zM701.23 1391.18h6.76v12.92h-6.76zM714.76 1380.25h6.76v22.05h-6.76zM721.52 1376.74h6.76v24.66h-6.76zM728.28 1381.78h6.76v18.73h-6.76zM735.05 1397.03h6.76v2.57h-6.76zM741.81 1387.72h6.76v10.98h-6.76zM748.57 1391.76h6.76v6.05h-6.76zM755.34 1387.02h6.76v9.28h-6.76zM762.1 1366.77h6.76v28.02h-6.76zM768.86 1362.73h6.76v30.55h-6.76zM775.63 1371.69h6.76v20.08h-6.76zM782.39 1371.85h6.76v18.41h-6.76zM789.15 1367.71h6.76v21.04h-6.76zM795.91 1373.12h6.76v14.12h-6.76zM802.68 1371.15h6.76v14.58h-6.76zM809.44 1375.09h6.76v8.96h-6.76zM816.2 1362.38h6.76v19.98h-6.76zM822.97 1330.84h6.76v49.82h-6.76zM829.73 1340.84h6.76v38.14h-6.76zM836.49 1347.74h6.76v29.55h-6.76zM843.26 1342.66h6.76v32.94h-6.76zM850.02 1341.47h6.76v33.55h-6.76zM856.78 1319.07h6.76v55.08h-6.76zM863.54 1309.74h6.76v63.54h-6.76zM870.31 1325.08h6.76v44.91h-6.76zM877.07 1301.49h6.76v65.21h-6.76zM883.83 1308.54h6.76v54.88h-6.76zM890.6 1284.85h6.76v75.28h-6.76zM897.36 1293.86h6.76v62.97h-6.76zM904.12 1274.98h6.76v78.57h-6.76zM910.89 1287.5h6.76v62.96h-6.76zM917.65 1277.19h6.76v70.18h-6.76zM924.41 1262.97h6.76v81.3h-6.76zM931.17 1247.25h6.76v93.93h-6.76zM937.94 1243.25h6.76v94.84h-6.76zM944.7 1251.33h6.76v83.67h-6.76zM951.46 1229.57h6.76v102.34h-6.76zM958.23 1222.41h6.76v106.41h-6.76zM964.99 1217.88h6.76v107.85h-6.76zM971.75 1213.57h6.76v107.08h-6.76zM978.52 1187.9h6.76v129.82h-6.76zM985.28 1202.95h6.76v111.84h-6.76zM992.04 1202.84h6.76v109.02h-6.76zM998.8 1180.87h6.76v128.06h-6.76zM1005.57 1176.45h6.76v129.54h-6.76zM1012.33 1176.78h6.76v124.68h-6.76zM1019.09 1167.92h6.76v129.02h-6.76zM1025.86 1169h6.76v123.41h-6.76zM1032.62 1168.63h6.76v119.25h-6.76zM1039.38 1162.1h6.76v121.25h-6.76zM1046.15 1166.39h6.76v112.43h-6.76zM1052.91 1172.43h6.76v101.86h-6.76zM1059.67 1164.22h6.76v105.98h-6.76zM1066.43 1159.44h6.76v106.69h-6.76zM1073.2 1147.39h6.76v114.65h-6.76zM1079.96 1151.75h6.76v106.21h-6.76zM1086.72 1151.68h6.76v102.2h-6.76zM1093.49 1130.21h6.76v119.59h-6.76zM1100.25 1138.32h6.76v106.96h-6.76zM1107.01 1139.91h6.76v100.85h-6.76zM1113.78 1118.53h6.76v117.72h-6.76zM1120.54 1123.77h6.76v107.96h-6.76zM1127.3 1111.41h6.76v115.9h-6.76zM1134.06 1116.19h6.76v106.69h-6.76zM1140.83 1117.55h6.76v100.9h-6.76zM1147.59 1114.99h6.76v95.9h-6.76zM1154.35 1106.09h6.76v97.23h-6.76zM1161.12 1100.86h6.76v94.88h-6.76zM1167.88 1101.46h6.76v86.71h-6.76zM1174.64 1095.43h6.76v89.5h-6.76zM1181.41 1102.4h6.76v79.3h-6.76zM1188.17 1089.2h6.76v89.27h-6.76zM1194.93 1099.17h6.76v75.29h-6.76zM1201.69 1080.43h6.76v90.01h-6.76zM1208.46 1066.81h6.76v99.62h-6.76zM1215.22 1056.72h6.76v105.69h-6.76zM1221.98 1045.12h6.76v113.28h-6.76zM1228.75 1059.98h6.76v94.41h-6.76zM1235.51 1036.93h6.76v113.45h-6.76zM1242.27 1026.58h6.76v119.78h-6.76zM1249.04 1023.97h6.76v119.81h-6.76zM1255.8 1032.34h6.76v108.85h-6.76zM1262.56 1019.42h6.76v119.18h-6.76zM1269.32 1005.98h6.76v130.03h-6.76zM1276.09 1023.27h6.76v110.15h-6.76zM1282.85 1006.57h6.76v124.26h-6.76zM1289.61 998.45h6.76v129.79h-6.76zM1296.38 1005.53h6.76v120.13h-6.76zM1303.14 993.48h6.76v129.59h-6.76zM1309.9 1006.81h6.76v113.58h-6.76zM1316.67 1008.46h6.76v109.25h-6.76zM1323.43 1009.81h6.76v103.33h-6.76zM1330.19 1001.62h6.76v103.37h-6.76zM1336.95 1003.19h6.76v96.24h-6.76zM1343.72 997.06h6.76v96.81h-6.76zM1350.48 1007.83h6.76v80.47h-6.76zM1357.24 1003.12h6.76v79.62h-6.76zM1364.01 996.91h6.76v80.27h-6.76zM1370.77 1001.59h6.76v71.76h-6.76zM1377.53 1014.34h6.76v55.17h-6.76zM1384.3 1005.9h6.76v59.77h-6.76zM1391.06 1014.47h6.76v47.37h-6.76zM1397.82 1012.28h6.76v45.73h-6.76zM1404.58 1015.15h6.76v39.02h-6.76zM1411.35 1012.82h6.76v37.51h-6.76zM1418.11 1020.94h6.76v25.56h-6.76zM1424.87 1031.54h6.76v13.49h-6.76zM1431.64 1029.65h6.76v13.9h-6.76zM1438.4 1019.83h6.76v22.23h-6.76zM1445.16 1025.33h6.76v15.25h-6.76zM1451.93 1019.23h6.76v19.88h-6.76zM1458.69 1024.04h6.76v13.59h-6.76zM1465.45 1029.45h6.76v6.7h-6.76zM1472.21 1021.72h6.76v12.95h-6.76zM1478.98 1030.8h6.76v2.39h-6.76zM1485.74 1645.51h6.76v3.83h-6.76zM1492.5 1019.73h6.76v12.55h-6.76zM1499.27 1647.31h6.76v4.75h-6.76zM1506.03 1026.89h6.76v4.48h-6.76zM1512.79 1026.35h6.76v4.56h-6.76zM1519.56 1048.29h6.76v39.71h-6.76zM1526.32 1650.92h6.76v11.71h-6.76zM1533.08 1651.61h6.76v2.6h-6.76zM1539.84 1652.31h6.76v11.99h-6.76zM1546.61 1653.01h6.76v12.2h-6.76zM1553.37 1653.71h6.76v9.17h-6.76zM1560.13 1654.41h6.76v5.47h-6.76zM1566.9 1655.11h6.76v7.8h-6.76zM1573.66 1655.8h6.76v6.42h-6.76zM1580.42 1656.5h6.76v11.66h-6.76zM1587.19 1657.2h6.76v11.17h-6.76zM1593.95 1657.9h6.76v15.39h-6.76zM1600.71 1658.6h6.76v12.81h-6.76zM1607.47 1659.3h6.76v9.83h-6.76zM1614.24 1660h6.76v13.83h-6.76zM1621 1660.69h6.76v11.34h-6.76zM1627.76 1661.39h6.76v15.99h-6.76zM1634.53 1662.09h6.76v16.61h-6.76zM1641.29 1662.64h6.76v14.51h-6.76zM1648.05 1663.18h6.76v15.84h-6.76zM1654.82 1663.73h6.76v13.06h-6.76zM1661.58 1664.27h6.76v15.13h-6.76zM1668.34 1664.82h6.76v9.14h-6.76zM1675.1 1665.36h6.76v17.55h-6.76zM1681.87 1665.91h6.76v17.98h-6.76zM1688.63 1666.45h6.76v21.76h-6.76zM1695.39 1667h6.76v17.74h-6.76zM1702.16 1667.55h6.76v14.51h-6.76zM1708.92 1668.09h6.76v20.08h-6.76zM1715.68 1668.64h6.76v16.71h-6.76zM1722.45 1669.18h6.76v12.97h-6.76zM1729.21 1669.73h6.76v16.15h-6.76zM1735.97 1670.27h6.76v17.41h-6.76zM1742.73 1670.82h6.76v10.47h-6.76zM1749.5 1671.36h6.76v13.84h-6.76zM1756.26 1671.81h6.76v12.55h-6.76zM1763.02 1672.25h6.76v9.14h-6.76zM1769.79 1672.7h6.76v9.26h-6.76zM1776.55 1673.14h6.76v15.95h-6.76zM1783.31 1673.58h6.76v16.79h-6.76zM1790.08 1674.03h6.76v13.17h-6.76zM1796.84 1674.47h6.76v15.09h-6.76zM1803.6 1674.91h6.76v23.23h-6.76zM1810.36 1675.36h6.76v8.68h-6.76zM1817.13 1675.8h6.76v14.49h-6.76zM1823.89 1676.25h6.76v11.19h-6.76zM1830.65 1676.69h6.76v20.14h-6.76zM1837.42 1677.13h6.76v8.62h-6.76zM1844.18 1677.58h6.76v17.49h-6.76zM1850.94 1678.02h6.76v15.25h-6.76z"/>
<path fill="#46617f" stroke="#fff" stroke-width="0.9" d="M180.48 1439.3h6.76v0.03h-6.76zM187.24 1439.3h6.76v0.07h-6.76zM194.01 1439.3h6.76v0.1h-6.76zM200.77 1439.3h6.76v0.13h-6.76zM207.53 1439.3h6.76v0.17h-6.76zM214.3 1439.3h6.76v0.2h-6.76zM221.06 1439.3h6.76v0.23h-6.76zM227.82 1439.3h6.76v0.27h-6.76zM234.59 1439.3h6.76v0.3h-6.76zM241.35 1439.3h6.76v0.33h-6.76zM248.11 1439.3h6.76v0.37h-6.76zM254.87 1439.3h6.76v0.4h-6.76zM261.64 1439.3h6.76v0.43h-6.76zM268.4 1439.3h6.76v0.47h-6.76zM275.16 1439.3h6.76v0.5h-6.76zM281.93 1439.3h6.76v0.53h-6.76zM288.69 1439.3h6.76v0.57h-6.76zM295.45 1439.3h6.76v0.6h-6.76zM302.22 1439.3h6.76v0.63h-6.76zM308.98 1439.3h6.76v0.67h-6.76zM315.74 1439.3h6.76v0.7h-6.76zM322.5 1439.3h6.76v0.73h-6.76zM329.27 1439.3h6.76v0.77h-6.76zM336.03 1439.3h6.76v0.8h-6.76zM342.79 1439.3h6.76v0.83h-6.76zM349.56 1439.3h6.76v0.87h-6.76zM356.32 1439.3h6.76v0.9h-6.76zM363.08 1439.3h6.76v0.93h-6.76zM369.85 1439.3h6.76v0.97h-6.76zM376.61 1439.3h6.76v1h-6.76zM383.37 1439.3h6.76v1.03h-6.76zM390.13 1439.3h6.76v1.07h-6.76zM396.9 1439.3h6.76v1.1h-6.76zM403.66 1439.3h6.76v1.13h-6.76zM410.42 1439.3h6.76v1.17h-6.76zM417.19 1439.3h6.76v1.2h-6.76zM423.95 1439.3h6.76v1.23h-6.76zM430.71 1439.3h6.76v1.26h-6.76zM437.48 1439.3h6.76v1.3h-6.76zM444.24 1439.3h6.76v1.33h-6.76zM451 1439.3h6.76v1.36h-6.76zM457.76 1439.3h6.76v1.4h-6.76zM464.53 1439.3h6.76v1.43h-6.76zM471.29 1439.3h6.76v1.46h-6.76zM478.05 1439.3h6.76v1.5h-6.76zM484.82 1439.3h6.76v1.53h-6.76zM491.58 1439.3h6.76v1.56h-6.76zM498.34 1439.3h6.76v1.6h-6.76zM505.11 1439.3h6.76v1.63h-6.76zM511.87 1439.3h6.76v1.66h-6.76zM518.63 1439.3h6.76v1.94h-6.76zM525.39 1439.3h6.76v2.22h-6.76zM532.16 1439.3h6.76v2.51h-6.76zM538.92 1439.3h6.76v2.79h-6.76zM545.68 1439.3h6.76v3.07h-6.76zM552.45 1439.3h6.76v3.35h-6.76zM559.21 1439.3h6.76v3.63h-6.76zM565.97 1439.3h6.76v3.91h-6.76zM572.74 1439.3h6.76v4.19h-6.76zM579.5 1439.3h6.76v4.47h-6.76zM586.26 1439.3h6.76v4.75h-6.76zM593.02 1439.3h6.76v5.03h-6.76zM599.79 1439.3h6.76v5.31h-6.76zM606.55 1439.3h6.76v5.59h-6.76zM613.31 1439.3h6.76v5.87h-6.76zM620.08 1439.3h6.76v6.15h-6.76zM626.84 1439.3h6.76v6.43h-6.76zM633.6 1439.3h6.76v6.71h-6.76zM640.37 1439.3h6.76v6.99h-6.76zM647.13 1439.3h6.76v7.27h-6.76zM653.89 1439.3h6.76v7.55h-6.76zM660.65 1439.3h6.76v7.83h-6.76zM667.42 1439.3h6.76v8.11h-6.76zM674.18 1439.3h6.76v8.39h-6.76zM680.94 1439.3h6.76v8.67h-6.76zM687.71 1439.3h6.76v8.95h-6.76zM694.47 1439.3h6.76v9.23h-6.76zM701.23 1439.3h6.76v9.51h-6.76zM708 1439.3h6.76v9.81h-6.76zM714.76 1439.3h6.76v10.1h-6.76zM721.52 1439.3h6.76v10.39h-6.76zM728.28 1439.3h6.76v10.69h-6.76zM735.05 1439.3h6.76v10.98h-6.76zM741.81 1439.3h6.76v11.28h-6.76zM748.57 1439.3h6.76v11.57h-6.76zM755.34 1439.3h6.76v11.87h-6.76zM762.1 1439.3h6.76v12.16h-6.76zM768.86 1439.3h6.76v12.45h-6.76zM775.63 1439.3h6.76v12.75h-6.76zM782.39 1439.3h6.76v13.04h-6.76zM789.15 1439.3h6.76v13.34h-6.76zM795.91 1439.3h6.76v13.63h-6.76zM802.68 1439.3h6.76v13.93h-6.76zM809.44 1439.3h6.76v14.22h-6.76zM816.2 1439.3h6.76v14.52h-6.76zM822.97 1439.3h6.76v14.81h-6.76zM829.73 1439.3h6.76v15.1h-6.76zM836.49 1439.3h6.76v15.4h-6.76zM843.26 1439.3h6.76v15.69h-6.76zM850.02 1439.3h6.76v16.17h-6.76zM856.78 1439.3h6.76v16.64h-6.76zM863.54 1439.3h6.76v17.12h-6.76zM870.31 1439.3h6.76v17.59h-6.76zM877.07 1439.3h6.76v18.07h-6.76zM883.83 1439.3h6.76v18.55h-6.76zM890.6 1439.3h6.76v19.02h-6.76zM897.36 1439.3h6.76v19.5h-6.76zM904.12 1439.3h6.76v19.97h-6.76zM910.89 1439.3h6.76v20.4h-6.76zM917.65 1439.3h6.76v20.83h-6.76zM924.41 1439.3h6.76v21.26h-6.76zM931.17 1439.3h6.76v21.68h-6.76zM937.94 1439.3h6.76v22.11h-6.76zM944.7 1439.3h6.76v22.54h-6.76zM951.46 1439.3h6.76v22.97h-6.76zM958.23 1439.3h6.76v23.4h-6.76zM964.99 1439.3h6.76v23.82h-6.76zM971.75 1439.3h6.76v24.25h-6.76zM978.52 1439.3h6.76v25.31h-6.76zM985.28 1439.3h6.76v26.36h-6.76zM992.04 1439.3h6.76v27.41h-6.76zM998.8 1439.3h6.76v28.46h-6.76zM1005.57 1439.3h6.76v29.52h-6.76zM1012.33 1439.3h6.76v30.57h-6.76zM1019.09 1439.3h6.76v31.62h-6.76zM1025.86 1439.3h6.76v32.96h-6.76zM1032.62 1439.3h6.76v34.3h-6.76zM1039.38 1439.3h6.76v35.64h-6.76zM1046.15 1439.3h6.76v36.98h-6.76zM1052.91 1439.3h6.76v38.32h-6.76zM1059.67 1439.3h6.76v39.66h-6.76zM1066.43 1439.3h6.76v41h-6.76zM1073.2 1439.3h6.76v42.34h-6.76zM1079.96 1439.3h6.76v43.68h-6.76zM1086.72 1439.3h6.76v45.02h-6.76zM1093.49 1439.3h6.76v46.37h-6.76zM1100.25 1439.3h6.76v47.96h-6.76zM1107.01 1439.3h6.76v49.56h-6.76zM1113.78 1439.3h6.76v51.16h-6.76zM1120.54 1439.3h6.76v52.76h-6.76zM1127.3 1439.3h6.76v54.36h-6.76zM1134.06 1439.3h6.76v55.96h-6.76zM1140.83 1439.3h6.76v57.56h-6.76zM1147.59 1439.3h6.76v59.16h-6.76zM1154.35 1439.3h6.76v60.76h-6.76zM1161.12 1439.3h6.76v62.36h-6.76zM1167.88 1439.3h6.76v63.96h-6.76zM1174.64 1439.3h6.76v65.45h-6.76zM1181.41 1439.3h6.76v66.93h-6.76zM1188.17 1439.3h6.76v68.42h-6.76zM1194.93 1439.3h6.76v69.9h-6.76zM1201.69 1439.3h6.76v70.74h-6.76zM1208.46 1439.3h6.76v71.57h-6.76zM1215.22 1439.3h6.76v72.4h-6.76zM1221.98 1439.3h6.76v73.23h-6.76zM1228.75 1439.3h6.76v74.07h-6.76zM1235.51 1439.3h6.76v74.9h-6.76zM1242.27 1439.3h6.76v75.73h-6.76zM1249.04 1439.3h6.76v76.56h-6.76zM1255.8 1439.3h6.76v77.39h-6.76zM1262.56 1439.3h6.76v78.23h-6.76zM1269.32 1439.3h6.76v78.85h-6.76zM1276.09 1439.3h6.76v79.47h-6.76zM1282.85 1439.3h6.76v80.1h-6.76zM1289.61 1439.3h6.76v80.72h-6.76zM1296.38 1439.3h6.76v81.35h-6.76zM1303.14 1439.3h6.76v81.97h-6.76zM1309.9 1439.3h6.76v82.6h-6.76zM1316.67 1439.3h6.76v83.22h-6.76zM1323.43 1439.3h6.76v83.84h-6.76zM1330.19 1439.3h6.76v84.47h-6.76zM1336.95 1439.3h6.76v85.09h-6.76zM1343.72 1439.3h6.76v85.72h-6.76zM1350.48 1439.3h6.76v86.34h-6.76zM1357.24 1439.3h6.76v86.96h-6.76zM1364.01 1439.3h6.76v87.59h-6.76zM1370.77 1439.3h6.76v88.21h-6.76zM1377.53 1439.3h6.76v88.27h-6.76zM1384.3 1439.3h6.76v88.34h-6.76zM1391.06 1439.3h6.76v88.4h-6.76zM1397.82 1439.3h6.76v88.46h-6.76zM1404.58 1439.3h6.76v88.52h-6.76zM1411.35 1439.3h6.76v88.58h-6.76zM1418.11 1439.3h6.76v88.65h-6.76zM1424.87 1439.3h6.76v88.71h-6.76zM1431.64 1439.3h6.76v88.77h-6.76zM1438.4 1439.3h6.76v88.83h-6.76zM1445.16 1439.3h6.76v88.89h-6.76zM1451.93 1439.3h6.76v88.96h-6.76zM1458.69 1439.3h6.76v89.02h-6.76zM1465.45 1439.3h6.76v89.08h-6.76zM1472.21 1439.3h6.76v89.14h-6.76zM1478.98 1439.3h6.76v89.21h-6.76zM1485.74 1439.3h6.76v89.27h-6.76zM1492.5 1439.3h6.76v89.33h-6.76zM1499.27 1439.3h6.76v89.39h-6.76zM1506.03 1439.3h6.76v89.45h-6.76zM1512.79 1439.3h6.76v89.52h-6.76zM1519.56 1439.3h6.76v89.58h-6.76zM1526.32 1439.3h6.76v89.64h-6.76zM1533.08 1439.3h6.76v89.71h-6.76zM1539.84 1439.3h6.76v89.79h-6.76zM1546.61 1439.3h6.76v89.86h-6.76zM1553.37 1439.3h6.76v89.94h-6.76zM1560.13 1439.3h6.76v90.01h-6.76zM1566.9 1439.3h6.76v90.09h-6.76zM1573.66 1439.3h6.76v90.16h-6.76zM1580.42 1439.3h6.76v90.23h-6.76zM1587.19 1439.3h6.76v90.31h-6.76zM1593.95 1439.3h6.76v90.38h-6.76zM1600.71 1439.3h6.76v90.46h-6.76zM1607.47 1439.3h6.76v90.53h-6.76zM1614.24 1439.3h6.76v90.61h-6.76zM1621 1439.3h6.76v90.68h-6.76zM1627.76 1439.3h6.76v90.75h-6.76zM1634.53 1439.3h6.76v90.83h-6.76zM1641.29 1439.3h6.76v90.7h-6.76zM1648.05 1439.3h6.76v90.58h-6.76zM1654.82 1439.3h6.76v90.45h-6.76zM1661.58 1439.3h6.76v90.32h-6.76zM1668.34 1439.3h6.76v90.2h-6.76zM1675.1 1439.3h6.76v90.07h-6.76zM1681.87 1439.3h6.76v89.95h-6.76zM1688.63 1439.3h6.76v89.82h-6.76zM1695.39 1439.3h6.76v89.7h-6.76zM1702.16 1439.3h6.76v89.57h-6.76zM1708.92 1439.3h6.76v89.44h-6.76zM1715.68 1439.3h6.76v89.32h-6.76zM1722.45 1439.3h6.76v89.19h-6.76zM1729.21 1439.3h6.76v89.07h-6.76zM1735.97 1439.3h6.76v88.94h-6.76zM1742.73 1439.3h6.76v88.81h-6.76zM1749.5 1439.3h6.76v88.69h-6.76zM1756.26 1439.3h6.76v88.53h-6.76zM1763.02 1439.3h6.76v88.37h-6.76zM1769.79 1439.3h6.76v88.21h-6.76zM1776.55 1439.3h6.76v88.05h-6.76zM1783.31 1439.3h6.76v87.9h-6.76zM1790.08 1439.3h6.76v87.74h-6.76zM1796.84 1439.3h6.76v87.58h-6.76zM1803.6 1439.3h6.76v87.42h-6.76zM1810.36 1439.3h6.76v87.26h-6.76zM1817.13 1439.3h6.76v87.1h-6.76zM1823.89 1439.3h6.76v86.94h-6.76zM1830.65 1439.3h6.76v86.79h-6.76zM1837.42 1439.3h6.76v86.63h-6.76zM1844.18 1439.3h6.76v86.47h-6.76zM1850.94 1439.3h6.76v86.31h-6.76z"/>
<path fill="#4f8fcb" stroke="#fff" stroke-width="0.9" d="M180.48 1439.33h6.76v0.01h-6.76zM187.24 1439.37h6.76v0.02h-6.76zM194.01 1439.4h6.76v0.04h-6.76zM200.77 1439.43h6.76v0.05h-6.76zM207.53 1439.47h6.76v0.06h-6.76zM214.3 1439.5h6.76v0.07h-6.76zM221.06 1439.53h6.76v0.08h-6.76zM227.82 1439.57h6.76v0.1h-6.76zM234.59 1439.6h6.76v0.11h-6.76zM241.35 1439.63h6.76v0.12h-6.76zM248.11 1439.67h6.76v0.13h-6.76zM254.87 1439.7h6.76v0.14h-6.76zM261.64 1439.73h6.76v0.15h-6.76zM268.4 1439.77h6.76v0.17h-6.76zM275.16 1439.8h6.76v0.18h-6.76zM281.93 1439.83h6.76v0.19h-6.76zM288.69 1439.87h6.76v0.2h-6.76zM295.45 1439.9h6.76v0.21h-6.76zM302.22 1439.93h6.76v0.23h-6.76zM308.98 1439.97h6.76v0.24h-6.76zM315.74 1440h6.76v0.25h-6.76zM322.5 1440.03h6.76v0.26h-6.76zM329.27 1440.07h6.76v0.27h-6.76zM336.03 1440.1h6.76v0.29h-6.76zM342.79 1440.13h6.76v0.3h-6.76zM349.56 1440.17h6.76v0.31h-6.76zM356.32 1440.2h6.76v0.32h-6.76zM363.08 1440.23h6.76v0.33h-6.76zM369.85 1440.27h6.76v0.34h-6.76zM376.61 1440.3h6.76v0.36h-6.76zM383.37 1440.33h6.76v0.37h-6.76zM390.13 1440.37h6.76v0.38h-6.76zM396.9 1440.4h6.76v0.39h-6.76zM403.66 1440.43h6.76v0.4h-6.76zM410.42 1440.47h6.76v0.42h-6.76zM417.19 1440.5h6.76v0.43h-6.76zM423.95 1440.53h6.76v0.44h-6.76zM430.71 1440.56h6.76v0.45h-6.76zM437.48 1440.6h6.76v0.46h-6.76zM444.24 1440.63h6.76v0.48h-6.76zM451 1440.66h6.76v0.49h-6.76zM457.76 1440.7h6.76v0.5h-6.76zM464.53 1440.73h6.76v0.51h-6.76zM471.29 1440.76h6.76v0.52h-6.76zM478.05 1440.8h6.76v0.53h-6.76zM484.82 1440.83h6.76v0.55h-6.76zM491.58 1440.86h6.76v0.56h-6.76zM498.34 1440.9h6.76v0.57h-6.76zM505.11 1440.93h6.76v0.58h-6.76zM511.87 1440.96h6.76v0.59h-6.76zM518.63 1441.24h6.76v0.61h-6.76zM525.39 1441.52h6.76v0.62h-6.76zM532.16 1441.81h6.76v0.63h-6.76zM538.92 1442.09h6.76v0.64h-6.76zM545.68 1442.37h6.76v0.65h-6.76zM552.45 1442.65h6.76v0.67h-6.76zM559.21 1442.93h6.76v0.68h-6.76zM565.97 1443.21h6.76v0.69h-6.76zM572.74 1443.49h6.76v0.7h-6.76zM579.5 1443.77h6.76v0.71h-6.76zM586.26 1444.05h6.76v0.73h-6.76zM593.02 1444.33h6.76v0.74h-6.76zM599.79 1444.61h6.76v0.75h-6.76zM606.55 1444.89h6.76v0.76h-6.76zM613.31 1445.17h6.76v0.77h-6.76zM620.08 1445.45h6.76v0.78h-6.76zM626.84 1445.73h6.76v0.8h-6.76zM633.6 1446.01h6.76v0.81h-6.76zM640.37 1446.29h6.76v0.82h-6.76zM647.13 1446.57h6.76v0.83h-6.76zM653.89 1446.85h6.76v0.84h-6.76zM660.65 1447.13h6.76v0.86h-6.76zM667.42 1447.41h6.76v0.87h-6.76zM674.18 1447.69h6.76v0.88h-6.76zM680.94 1447.97h6.76v0.89h-6.76zM687.71 1448.25h6.76v0.9h-6.76zM694.47 1448.53h6.76v0.92h-6.76zM701.23 1448.81h6.76v0.93h-6.76zM708 1449.11h6.76v0.94h-6.76zM714.76 1449.4h6.76v0.95h-6.76zM721.52 1449.69h6.76v0.96h-6.76zM728.28 1449.99h6.76v0.97h-6.76zM735.05 1450.28h6.76v0.99h-6.76zM741.81 1450.58h6.76v1h-6.76zM748.57 1450.87h6.76v1.01h-6.76zM755.34 1451.17h6.76v1.02h-6.76zM762.1 1451.46h6.76v1.03h-6.76zM768.86 1451.75h6.76v1.05h-6.76zM775.63 1452.05h6.76v1.06h-6.76zM782.39 1452.34h6.76v1.07h-6.76zM789.15 1452.64h6.76v1.08h-6.76zM795.91 1452.93h6.76v1.09h-6.76zM802.68 1453.23h6.76v1.11h-6.76zM809.44 1453.52h6.76v1.12h-6.76zM816.2 1453.82h6.76v1.13h-6.76zM822.97 1454.11h6.76v1.14h-6.76zM829.73 1454.4h6.76v1.15h-6.76zM836.49 1454.7h6.76v1.17h-6.76zM843.26 1454.99h6.76v1.18h-6.76zM850.02 1455.47h6.76v1.19h-6.76zM856.78 1455.94h6.76v1.31h-6.76zM863.54 1456.42h6.76v1.43h-6.76zM870.31 1456.89h6.76v1.55h-6.76zM877.07 1457.37h6.76v1.66h-6.76zM883.83 1457.85h6.76v1.78h-6.76zM890.6 1458.32h6.76v1.9h-6.76zM897.36 1458.8h6.76v2.02h-6.76zM904.12 1459.27h6.76v2.14h-6.76zM910.89 1459.7h6.76v2.26h-6.76zM917.65 1460.13h6.76v2.38h-6.76zM924.41 1460.56h6.76v2.5h-6.76zM931.17 1460.98h6.76v2.62h-6.76zM937.94 1461.41h6.76v2.73h-6.76zM944.7 1461.84h6.76v2.85h-6.76zM951.46 1462.27h6.76v2.97h-6.76zM958.23 1462.7h6.76v3.09h-6.76zM964.99 1463.12h6.76v3.21h-6.76zM971.75 1463.55h6.76v3.33h-6.76zM978.52 1464.61h6.76v4.55h-6.76zM985.28 1465.66h6.76v5.77h-6.76zM992.04 1466.71h6.76v7h-6.76zM998.8 1467.76h6.76v8.22h-6.76zM1005.57 1468.82h6.76v9.44h-6.76zM1012.33 1469.87h6.76v10.67h-6.76zM1019.09 1470.92h6.76v11.89h-6.76zM1025.86 1472.26h6.76v12.69h-6.76zM1032.62 1473.6h6.76v13.49h-6.76zM1039.38 1474.94h6.76v14.29h-6.76zM1046.15 1476.28h6.76v15.09h-6.76zM1052.91 1477.62h6.76v15.89h-6.76zM1059.67 1478.96h6.76v16.69h-6.76zM1066.43 1480.3h6.76v17.49h-6.76zM1073.2 1481.64h6.76v18.29h-6.76zM1079.96 1482.98h6.76v19.09h-6.76zM1086.72 1484.32h6.76v19.89h-6.76zM1093.49 1485.67h6.76v20.69h-6.76zM1100.25 1487.26h6.76v21.46h-6.76zM1107.01 1488.86h6.76v22.24h-6.76zM1113.78 1490.46h6.76v23.02h-6.76zM1120.54 1492.06h6.76v23.8h-6.76zM1127.3 1493.66h6.76v24.58h-6.76zM1134.06 1495.26h6.76v25.35h-6.76zM1140.83 1496.86h6.76v26.13h-6.76zM1147.59 1498.46h6.76v26.91h-6.76zM1154.35 1500.06h6.76v27.69h-6.76zM1161.12 1501.66h6.76v28.47h-6.76zM1167.88 1503.26h6.76v29.25h-6.76zM1174.64 1504.75h6.76v30.02h-6.76zM1181.41 1506.23h6.76v30.79h-6.76zM1188.17 1507.72h6.76v31.56h-6.76zM1194.93 1509.2h6.76v32.34h-6.76zM1201.69 1510.04h6.76v33.55h-6.76zM1208.46 1510.87h6.76v34.76h-6.76zM1215.22 1511.7h6.76v35.97h-6.76zM1221.98 1512.53h6.76v37.19h-6.76zM1228.75 1513.37h6.76v38.4h-6.76zM1235.51 1514.2h6.76v39.61h-6.76zM1242.27 1515.03h6.76v40.83h-6.76zM1249.04 1515.86h6.76v42.04h-6.76zM1255.8 1516.69h6.76v43.25h-6.76zM1262.56 1517.53h6.76v44.46h-6.76zM1269.32 1518.15h6.76v46.28h-6.76zM1276.09 1518.77h6.76v48.09h-6.76zM1282.85 1519.4h6.76v49.91h-6.76zM1289.61 1520.02h6.76v51.73h-6.76zM1296.38 1520.65h6.76v53.54h-6.76zM1303.14 1521.27h6.76v55.36h-6.76zM1309.9 1521.9h6.76v57.17h-6.76zM1316.67 1522.52h6.76v58.99h-6.76zM1323.43 1523.14h6.76v60.8h-6.76zM1330.19 1523.77h6.76v62.62h-6.76zM1336.95 1524.39h6.76v64.44h-6.76zM1343.72 1525.02h6.76v65.45h-6.76zM1350.48 1525.64h6.76v66.47h-6.76zM1357.24 1526.26h6.76v67.48h-6.76zM1364.01 1526.89h6.76v68.5h-6.76zM1370.77 1527.51h6.76v69.52h-6.76zM1377.53 1527.57h6.76v70.53h-6.76zM1384.3 1527.64h6.76v71.55h-6.76zM1391.06 1527.7h6.76v72.56h-6.76zM1397.82 1527.76h6.76v73.58h-6.76zM1404.58 1527.82h6.76v74.59h-6.76zM1411.35 1527.88h6.76v75.61h-6.76zM1418.11 1527.95h6.76v76.11h-6.76zM1424.87 1528.01h6.76v76.62h-6.76zM1431.64 1528.07h6.76v77.12h-6.76zM1438.4 1528.13h6.76v77.62h-6.76zM1445.16 1528.19h6.76v78.13h-6.76zM1451.93 1528.26h6.76v78.63h-6.76zM1458.69 1528.32h6.76v79.14h-6.76zM1465.45 1528.38h6.76v79.64h-6.76zM1472.21 1528.44h6.76v80.14h-6.76zM1478.98 1528.51h6.76v80.65h-6.76zM1485.74 1528.57h6.76v81.15h-6.76zM1492.5 1528.63h6.76v81.65h-6.76zM1499.27 1528.69h6.76v82.16h-6.76zM1506.03 1528.75h6.76v82.66h-6.76zM1512.79 1528.82h6.76v83.16h-6.76zM1519.56 1528.88h6.76v83.67h-6.76zM1526.32 1528.94h6.76v84.17h-6.76zM1533.08 1529.01h6.76v84.41h-6.76zM1539.84 1529.09h6.76v84.65h-6.76zM1546.61 1529.16h6.76v84.88h-6.76zM1553.37 1529.24h6.76v85.12h-6.76zM1560.13 1529.31h6.76v85.36h-6.76zM1566.9 1529.39h6.76v85.6h-6.76zM1573.66 1529.46h6.76v85.83h-6.76zM1580.42 1529.53h6.76v86.07h-6.76zM1587.19 1529.61h6.76v86.31h-6.76zM1593.95 1529.68h6.76v86.55h-6.76zM1600.71 1529.76h6.76v86.79h-6.76zM1607.47 1529.83h6.76v87.02h-6.76zM1614.24 1529.91h6.76v87.26h-6.76zM1621 1529.98h6.76v87.5h-6.76zM1627.76 1530.05h6.76v87.74h-6.76zM1634.53 1530.13h6.76v87.97h-6.76zM1641.29 1530h6.76v88.31h-6.76zM1648.05 1529.88h6.76v88.65h-6.76zM1654.82 1529.75h6.76v88.98h-6.76zM1661.58 1529.62h6.76v89.32h-6.76zM1668.34 1529.5h6.76v89.65h-6.76zM1675.1 1529.37h6.76v89.99h-6.76zM1681.87 1529.25h6.76v90.32h-6.76zM1688.63 1529.12h6.76v90.66h-6.76zM1695.39 1529h6.76v91h-6.76zM1702.16 1528.87h6.76v91.33h-6.76zM1708.92 1528.74h6.76v91.67h-6.76zM1715.68 1528.62h6.76v92h-6.76zM1722.45 1528.49h6.76v92.34h-6.76zM1729.21 1528.37h6.76v92.67h-6.76zM1735.97 1528.24h6.76v93.01h-6.76zM1742.73 1528.11h6.76v93.35h-6.76zM1749.5 1527.99h6.76v93.68h-6.76zM1756.26 1527.83h6.76v93.9h-6.76zM1763.02 1527.67h6.76v94.13h-6.76zM1769.79 1527.51h6.76v94.35h-6.76zM1776.55 1527.35h6.76v94.57h-6.76zM1783.31 1527.2h6.76v94.79h-6.76zM1790.08 1527.04h6.76v95.01h-6.76zM1796.84 1526.88h6.76v95.23h-6.76zM1803.6 1526.72h6.76v95.46h-6.76zM1810.36 1526.56h6.76v95.68h-6.76zM1817.13 1526.4h6.76v95.9h-6.76zM1823.89 1526.24h6.76v96.12h-6.76zM1830.65 1526.09h6.76v96.34h-6.76zM1837.42 1525.93h6.76v96.57h-6.76zM1844.18 1525.77h6.76v96.79h-6.76zM1850.94 1525.61h6.76v97.01h-6.76z"/>
<path fill="#98efe4" stroke="#fff" stroke-width="0.9" d="M180.48 1439.35h6.76v0.06h-6.76zM187.24 1439.39h6.76v0.11h-6.76zM194.01 1439.44h6.76v0.17h-6.76zM200.77 1439.48h6.76v0.23h-6.76zM207.53 1439.53h6.76v0.29h-6.76zM214.3 1439.57h6.76v0.34h-6.76zM221.06 1439.62h6.76v0.4h-6.76zM227.82 1439.66h6.76v0.46h-6.76zM234.59 1439.71h6.76v0.51h-6.76zM241.35 1439.75h6.76v0.57h-6.76zM248.11 1439.8h6.76v0.63h-6.76zM254.87 1439.84h6.76v0.68h-6.76zM261.64 1439.89h6.76v0.74h-6.76zM268.4 1439.93h6.76v0.8h-6.76zM275.16 1439.98h6.76v0.86h-6.76zM281.93 1440.02h6.76v0.91h-6.76zM288.69 1440.07h6.76v0.97h-6.76zM295.45 1440.11h6.76v1.03h-6.76zM302.22 1440.16h6.76v1.08h-6.76zM308.98 1440.2h6.76v1.14h-6.76zM315.74 1440.25h6.76v1.2h-6.76zM322.5 1440.29h6.76v1.26h-6.76zM329.27 1440.34h6.76v1.31h-6.76zM336.03 1440.38h6.76v1.37h-6.76zM342.79 1440.43h6.76v1.43h-6.76zM349.56 1440.47h6.76v1.48h-6.76zM356.32 1440.52h6.76v1.54h-6.76zM363.08 1440.56h6.76v1.6h-6.76zM369.85 1440.61h6.76v1.65h-6.76zM376.61 1440.66h6.76v1.71h-6.76zM383.37 1440.7h6.76v1.77h-6.76zM390.13 1440.75h6.76v1.83h-6.76zM396.9 1440.79h6.76v1.88h-6.76zM403.66 1440.84h6.76v1.94h-6.76zM410.42 1440.88h6.76v2h-6.76zM417.19 1440.93h6.76v2.05h-6.76zM423.95 1440.97h6.76v2.11h-6.76zM430.71 1441.02h6.76v2.17h-6.76zM437.48 1441.06h6.76v2.23h-6.76zM444.24 1441.11h6.76v2.28h-6.76zM451 1441.15h6.76v2.34h-6.76zM457.76 1441.2h6.76v2.4h-6.76zM464.53 1441.24h6.76v2.45h-6.76zM471.29 1441.29h6.76v2.51h-6.76zM478.05 1441.33h6.76v2.57h-6.76zM484.82 1441.38h6.76v2.62h-6.76zM491.58 1441.42h6.76v2.68h-6.76zM498.34 1441.47h6.76v2.74h-6.76zM505.11 1441.51h6.76v2.8h-6.76zM511.87 1441.56h6.76v2.85h-6.76zM518.63 1441.85h6.76v2.94h-6.76zM525.39 1442.14h6.76v3.03h-6.76zM532.16 1442.44h6.76v3.12h-6.76zM538.92 1442.73h6.76v3.2h-6.76zM545.68 1443.02h6.76v3.29h-6.76zM552.45 1443.31h6.76v3.38h-6.76zM559.21 1443.6h6.76v3.46h-6.76zM565.97 1443.9h6.76v3.55h-6.76zM572.74 1444.19h6.76v3.64h-6.76zM579.5 1444.48h6.76v3.73h-6.76zM586.26 1444.77h6.76v3.81h-6.76zM593.02 1445.06h6.76v3.9h-6.76zM599.79 1445.36h6.76v3.99h-6.76zM606.55 1445.65h6.76v4.08h-6.76zM613.31 1445.94h6.76v4.16h-6.76zM620.08 1446.23h6.76v4.25h-6.76zM626.84 1446.52h6.76v4.34h-6.76zM633.6 1446.82h6.76v4.43h-6.76zM640.37 1447.11h6.76v4.51h-6.76zM647.13 1447.4h6.76v4.6h-6.76zM653.89 1447.69h6.76v4.69h-6.76zM660.65 1447.99h6.76v4.77h-6.76zM667.42 1448.28h6.76v4.86h-6.76zM674.18 1448.57h6.76v4.95h-6.76zM680.94 1448.86h6.76v5.04h-6.76zM687.71 1449.15h6.76v5.12h-6.76zM694.47 1449.45h6.76v5.21h-6.76zM701.23 1449.74h6.76v5.3h-6.76zM708 1450.04h6.76v5.39h-6.76zM714.76 1450.35h6.76v5.47h-6.76zM721.52 1450.66h6.76v5.56h-6.76zM728.28 1450.96h6.76v5.65h-6.76zM735.05 1451.27h6.76v5.74h-6.76zM741.81 1451.58h6.76v5.82h-6.76zM748.57 1451.88h6.76v5.91h-6.76zM755.34 1452.19h6.76v6h-6.76zM762.1 1452.49h6.76v6.08h-6.76zM768.86 1452.8h6.76v6.17h-6.76zM775.63 1453.11h6.76v6.26h-6.76zM782.39 1453.41h6.76v6.35h-6.76zM789.15 1453.72h6.76v6.43h-6.76zM795.91 1454.03h6.76v6.52h-6.76zM802.68 1454.33h6.76v6.61h-6.76zM809.44 1454.64h6.76v6.7h-6.76zM816.2 1454.94h6.76v6.78h-6.76zM822.97 1455.25h6.76v6.87h-6.76zM829.73 1455.56h6.76v6.96h-6.76zM836.49 1455.86h6.76v7.05h-6.76zM843.26 1456.17h6.76v7.13h-6.76zM850.02 1456.66h6.76v7.4h-6.76zM856.78 1457.25h6.76v7.66h-6.76zM863.54 1457.85h6.76v7.93h-6.76zM870.31 1458.44h6.76v8.19h-6.76zM877.07 1459.03h6.76v8.45h-6.76zM883.83 1459.63h6.76v8.72h-6.76zM890.6 1460.22h6.76v8.98h-6.76zM897.36 1460.82h6.76v9.25h-6.76zM904.12 1461.41h6.76v9.51h-6.76zM910.89 1461.96h6.76v10.44h-6.76zM917.65 1462.51h6.76v11.37h-6.76zM924.41 1463.05h6.76v12.29h-6.76zM931.17 1463.6h6.76v13.22h-6.76zM937.94 1464.15h6.76v14.15h-6.76zM944.7 1464.69h6.76v15.07h-6.76zM951.46 1465.24h6.76v16h-6.76zM958.23 1465.79h6.76v16.93h-6.76zM964.99 1466.33h6.76v17.86h-6.76zM971.75 1466.88h6.76v18.78h-6.76zM978.52 1469.16h6.76v18.61h-6.76zM985.28 1471.43h6.76v18.44h-6.76zM992.04 1473.71h6.76v18.27h-6.76zM998.8 1475.98h6.76v18.1h-6.76zM1005.57 1478.26h6.76v17.93h-6.76zM1012.33 1480.54h6.76v17.76h-6.76zM1019.09 1482.81h6.76v17.59h-6.76zM1025.86 1484.95h6.76v17.85h-6.76zM1032.62 1487.09h6.76v18.11h-6.76zM1039.38 1489.23h6.76v18.37h-6.76zM1046.15 1491.37h6.76v18.63h-6.76zM1052.91 1493.51h6.76v18.89h-6.76zM1059.67 1495.65h6.76v19.15h-6.76zM1066.43 1497.79h6.76v19.41h-6.76zM1073.2 1499.93h6.76v19.67h-6.76zM1079.96 1502.07h6.76v19.93h-6.76zM1086.72 1504.21h6.76v20.19h-6.76zM1093.49 1506.35h6.76v20.45h-6.76zM1100.25 1508.73h6.76v20.73h-6.76zM1107.01 1511.11h6.76v21.01h-6.76zM1113.78 1513.48h6.76v21.29h-6.76zM1120.54 1515.86h6.76v21.57h-6.76zM1127.3 1518.24h6.76v21.85h-6.76zM1134.06 1520.62h6.76v22.13h-6.76zM1140.83 1523h6.76v22.42h-6.76zM1147.59 1525.37h6.76v22.7h-6.76zM1154.35 1527.75h6.76v22.98h-6.76zM1161.12 1530.13h6.76v23.26h-6.76zM1167.88 1532.51h6.76v23.54h-6.76zM1174.64 1534.76h6.76v23.3h-6.76zM1181.41 1537.02h6.76v23.06h-6.76zM1188.17 1539.28h6.76v22.83h-6.76zM1194.93 1541.54h6.76v22.59h-6.76zM1201.69 1543.59h6.76v22.97h-6.76zM1208.46 1545.63h6.76v23.35h-6.76zM1215.22 1547.68h6.76v23.73h-6.76zM1221.98 1549.72h6.76v24.11h-6.76zM1228.75 1551.77h6.76v24.49h-6.76zM1235.51 1553.81h6.76v24.87h-6.76zM1242.27 1555.85h6.76v25.25h-6.76zM1249.04 1557.9h6.76v25.63h-6.76zM1255.8 1559.94h6.76v26.01h-6.76zM1262.56 1561.99h6.76v26.39h-6.76zM1269.32 1564.43h6.76v26.74h-6.76zM1276.09 1566.87h6.76v27.08h-6.76zM1282.85 1569.31h6.76v27.43h-6.76zM1289.61 1571.75h6.76v27.78h-6.76zM1296.38 1574.19h6.76v28.12h-6.76zM1303.14 1576.63h6.76v28.47h-6.76zM1309.9 1579.07h6.76v28.81h-6.76zM1316.67 1581.51h6.76v29.16h-6.76zM1323.43 1583.95h6.76v29.51h-6.76zM1330.19 1586.39h6.76v29.85h-6.76zM1336.95 1588.83h6.76v30.2h-6.76zM1343.72 1590.47h6.76v30.37h-6.76zM1350.48 1592.11h6.76v30.54h-6.76zM1357.24 1593.75h6.76v30.72h-6.76zM1364.01 1595.39h6.76v30.89h-6.76zM1370.77 1597.03h6.76v31.06h-6.76zM1377.53 1598.11h6.76v31.23h-6.76zM1384.3 1599.18h6.76v31.41h-6.76zM1391.06 1600.26h6.76v31.58h-6.76zM1397.82 1601.34h6.76v31.75h-6.76zM1404.58 1602.42h6.76v31.93h-6.76zM1411.35 1603.5h6.76v32.1h-6.76zM1418.11 1604.06h6.76v32.43h-6.76zM1424.87 1604.63h6.76v32.77h-6.76zM1431.64 1605.19h6.76v33.11h-6.76zM1438.4 1605.76h6.76v33.44h-6.76zM1445.16 1606.32h6.76v33.78h-6.76zM1451.93 1606.89h6.76v34.11h-6.76zM1458.69 1607.45h6.76v34.45h-6.76zM1465.45 1608.02h6.76v34.78h-6.76zM1472.21 1608.59h6.76v35.12h-6.76zM1478.98 1609.15h6.76v35.46h-6.76zM1485.74 1609.72h6.76v35.79h-6.76zM1492.5 1610.28h6.76v36.13h-6.76zM1499.27 1610.85h6.76v36.46h-6.76zM1506.03 1611.41h6.76v36.8h-6.76zM1512.79 1611.98h6.76v37.13h-6.76zM1519.56 1612.54h6.76v37.47h-6.76zM1526.32 1613.11h6.76v37.81h-6.76zM1533.08 1613.42h6.76v38.19h-6.76zM1539.84 1613.73h6.76v38.58h-6.76zM1546.61 1614.05h6.76v38.96h-6.76zM1553.37 1614.36h6.76v39.35h-6.76zM1560.13 1614.67h6.76v39.74h-6.76zM1566.9 1614.98h6.76v40.12h-6.76zM1573.66 1615.29h6.76v40.51h-6.76zM1580.42 1615.61h6.76v40.9h-6.76zM1587.19 1615.92h6.76v41.28h-6.76zM1593.95 1616.23h6.76v41.67h-6.76zM1600.71 1616.54h6.76v42.06h-6.76zM1607.47 1616.85h6.76v42.44h-6.76zM1614.24 1617.17h6.76v42.83h-6.76zM1621 1617.48h6.76v43.21h-6.76zM1627.76 1617.79h6.76v43.6h-6.76zM1634.53 1618.1h6.76v43.99h-6.76zM1641.29 1618.31h6.76v44.32h-6.76zM1648.05 1618.52h6.76v44.66h-6.76zM1654.82 1618.73h6.76v44.99h-6.76zM1661.58 1618.94h6.76v45.33h-6.76zM1668.34 1619.15h6.76v45.67h-6.76zM1675.1 1619.36h6.76v46h-6.76zM1681.87 1619.57h6.76v46.34h-6.76zM1688.63 1619.78h6.76v46.67h-6.76zM1695.39 1619.99h6.76v47.01h-6.76zM1702.16 1620.2h6.76v47.34h-6.76zM1708.92 1620.41h6.76v47.68h-6.76zM1715.68 1620.62h6.76v48.02h-6.76zM1722.45 1620.83h6.76v48.35h-6.76zM1729.21 1621.04h6.76v48.69h-6.76zM1735.97 1621.25h6.76v49.02h-6.76zM1742.73 1621.46h6.76v49.36h-6.76zM1749.5 1621.67h6.76v49.69h-6.76zM1756.26 1621.73h6.76v50.07h-6.76zM1763.02 1621.8h6.76v50.45h-6.76zM1769.79 1621.86h6.76v50.84h-6.76zM1776.55 1621.92h6.76v51.22h-6.76zM1783.31 1621.99h6.76v51.6h-6.76zM1790.08 1622.05h6.76v51.98h-6.76zM1796.84 1622.11h6.76v52.36h-6.76zM1803.6 1622.18h6.76v52.74h-6.76zM1810.36 1622.24h6.76v53.12h-6.76zM1817.13 1622.3h6.76v53.5h-6.76zM1823.89 1622.37h6.76v53.88h-6.76zM1830.65 1622.43h6.76v54.26h-6.76zM1837.42 1622.49h6.76v54.64h-6.76zM1844.18 1622.56h6.76v55.02h-6.76zM1850.94 1622.62h6.76v55.4h-6.76z"/>
<path fill="url(#hatch)" stroke="#000" stroke-width="2.1" stroke-opacity="0.92" d="M173.72 1439.3h6.76v0h-6.76zM180.48 1439.02h6.76v0.28h-6.76zM187.24 1439.3h6.76v1.81h-6.76zM194.01 1423.7h6.76v15.6h-6.76zM200.77 1439.3h6.76v1.24h-6.76zM207.53 1439.3h6.76v4.52h-6.76zM214.3 1439.3h6.76v1.86h-6.76zM221.06 1439.3h6.76v3.95h-6.76zM227.82 1412.06h6.76v27.24h-6.76zM234.59 1439.3h6.76v5.76h-6.76zM241.35 1439.3h6.76v7.85h-6.76zM248.11 1439.3h6.76v2.81h-6.76zM254.87 1439.3h6.76v10.85h-6.76zM261.64 1439.17h6.76v0.13h-6.76zM268.4 1439.3h6.76v6.71h-6.76zM275.16 1439.3h6.76v13.56h-6.76zM281.93 1439.3h6.76v0.9h-6.76zM288.69 1439.3h6.76v5.44h-6.76zM295.45 1439.3h6.76v4.7h-6.76zM302.22 1439.3h6.76v17.18h-6.76zM308.98 1432.18h6.76v7.12h-6.76zM315.74 1439.3h6.76v7.21h-6.76zM322.5 1439.3h6.76v12.54h-6.76zM329.27 1428.43h6.76v10.87h-6.76zM336.03 1439.3h6.76v9.47h-6.76zM342.79 1439.3h6.76v22.61h-6.76zM349.56 1439.3h6.76v13.53h-6.76zM356.32 1439.3h6.76v24.89h-6.76zM363.08 1438.84h6.76v0.46h-6.76zM369.85 1439.3h6.76v14.79h-6.76zM376.61 1439.3h6.76v18.54h-6.76zM383.37 1439.26h6.76v0.04h-6.76zM390.13 1439.3h6.76v28.58h-6.76zM396.9 1439.3h6.76v5.88h-6.76zM403.66 1439.3h6.76v32.34h-6.76zM410.42 1439.3h6.76v19.03h-6.76zM417.19 1439.3h6.76v25.04h-6.76zM423.95 1435.59h6.76v3.71h-6.76zM430.71 1439.3h6.76v43.49h-6.76zM437.48 1439.3h6.76v16.02h-6.76zM444.24 1439.3h6.76v2.93h-6.76zM451 1439.3h6.76v14.13h-6.76zM457.76 1439.3h6.76v5.59h-6.76zM464.53 1439.3h6.76v20.38h-6.76zM471.29 1439.3h6.76v31.42h-6.76zM478.05 1439.3h6.76v32.73h-6.76zM484.82 1439.3h6.76v7.65h-6.76zM491.58 1425.27h6.76v14.03h-6.76zM498.34 1439.3h6.76v9.07h-6.76zM505.11 1439.3h6.76v18.51h-6.76zM511.87 1428.81h6.76v10.49h-6.76zM518.63 1439.3h6.76v10.23h-6.76zM525.39 1439.3h6.76v12.65h-6.76zM532.16 1439.3h6.76v11.66h-6.76zM538.92 1439.3h6.76v17.04h-6.76zM545.68 1439.3h6.76v19.95h-6.76zM552.45 1439.3h6.76v34.13h-6.76zM559.21 1439.3h6.76v11.92h-6.76zM565.97 1439.3h6.76v19.81h-6.76zM572.74 1439.3h6.76v5.3h-6.76zM579.5 1439.3h6.76v11.77h-6.76zM586.26 1439.3h6.76v28.96h-6.76zM593.02 1439.3h6.76v6.39h-6.76zM599.79 1423.21h6.76v16.09h-6.76zM606.55 1439.3h6.76v7.58h-6.76zM613.31 1439.3h6.76v12.51h-6.76zM620.08 1439.3h6.76v15.04h-6.76zM626.84 1439.3h6.76v12.24h-6.76zM633.6 1439.3h6.76v2.23h-6.76zM640.37 1439.3h6.76v11.6h-6.76zM647.13 1420.19h6.76v19.11h-6.76zM653.89 1439.3h6.76v22.16h-6.76zM660.65 1437.04h6.76v2.26h-6.76zM667.42 1421.4h6.76v17.9h-6.76zM674.18 1420.79h6.76v18.51h-6.76zM680.94 1439.3h6.76v2.06h-6.76zM687.71 1435.05h6.76v4.25h-6.76zM694.47 1430.43h6.76v8.87h-6.76zM701.23 1439.3h6.76v2.33h-6.76zM708 1439.3h6.76v14.54h-6.76zM714.76 1431.07h6.76v8.23h-6.76zM721.52 1427.74h6.76v11.56h-6.76zM728.28 1432.96h6.76v6.34h-6.76zM735.05 1439.3h6.76v9.1h-6.76zM741.81 1439.27h6.76v0.03h-6.76zM748.57 1439.3h6.76v4.18h-6.76zM755.34 1438.93h6.76v0.37h-6.76zM762.1 1418.86h6.76v20.44h-6.76zM768.86 1415.69h6.76v23.61h-6.76zM775.63 1425.52h6.76v13.78h-6.76zM782.39 1426.55h6.76v12.75h-6.76zM789.15 1423.28h6.76v16.02h-6.76zM795.91 1429.55h6.76v9.75h-6.76zM802.68 1428.45h6.76v10.85h-6.76zM809.44 1433.22h6.76v6.08h-6.76zM816.2 1421.34h6.76v17.96h-6.76zM822.97 1390.64h6.76v48.66h-6.76zM829.73 1401.46h6.76v37.84h-6.76zM836.49 1409.2h6.76v30.1h-6.76zM843.26 1404.95h6.76v34.35h-6.76zM850.02 1406.81h6.76v32.49h-6.76zM856.78 1387.56h6.76v51.74h-6.76zM863.54 1381.39h6.76v57.91h-6.76zM870.31 1400.75h6.76v38.55h-6.76zM877.07 1381.2h6.76v58.1h-6.76zM883.83 1392.27h6.76v47.03h-6.76zM890.6 1372.61h6.76v66.69h-6.76zM897.36 1385.65h6.76v53.65h-6.76zM904.12 1370.8h6.76v68.5h-6.76zM910.89 1388.36h6.76v50.94h-6.76zM917.65 1383.09h6.76v56.21h-6.76zM924.41 1373.92h6.76v65.38h-6.76zM931.17 1363.24h6.76v76.06h-6.76zM937.94 1363.88h6.76v75.42h-6.76zM944.7 1376.6h6.76v62.7h-6.76zM951.46 1359.48h6.76v79.82h-6.76zM958.23 1357.37h6.76v81.93h-6.76zM964.99 1357.87h6.76v81.43h-6.76zM971.75 1359.8h6.76v79.5h-6.76zM978.52 1282.03h6.76v157.27h-6.76zM985.28 1298.43h6.76v140.87h-6.76zM992.04 1299.67h6.76v139.63h-6.76zM998.8 1279.05h6.76v160.25h-6.76zM1005.57 1275.99h6.76v163.31h-6.76zM1012.33 1277.67h6.76v161.63h-6.76zM1019.09 1270.16h6.76v169.14h-6.76zM1025.86 1273.36h6.76v165.94h-6.76zM1032.62 1275.11h6.76v164.19h-6.76zM1039.38 1270.69h6.76v168.61h-6.76zM1046.15 1277.1h6.76v162.2h-6.76zM1052.91 1285.26h6.76v154.04h-6.76zM1059.67 1279.17h6.76v160.13h-6.76zM1066.43 1276.51h6.76v162.79h-6.76zM1073.2 1266.58h6.76v172.72h-6.76zM1079.96 1273.06h6.76v166.24h-6.76zM1086.72 1275.1h6.76v164.2h-6.76zM1093.49 1255.75h6.76v183.55h-6.76zM1100.25 1264.92h6.76v174.38h-6.76zM1107.01 1267.57h6.76v171.73h-6.76zM1113.78 1247.25h6.76v192.05h-6.76zM1120.54 1253.55h6.76v185.75h-6.76zM1127.3 1242.25h6.76v197.05h-6.76zM1134.06 1248.09h6.76v191.21h-6.76zM1140.83 1250.51h6.76v188.79h-6.76zM1147.59 1249h6.76v190.3h-6.76zM1154.35 1241.16h6.76v198.14h-6.76zM1161.12 1237h6.76v202.3h-6.76zM1167.88 1238.65h6.76v200.65h-6.76zM1174.64 1234.17h6.76v205.13h-6.76zM1181.41 1242.68h6.76v196.62h-6.76zM1188.17 1231.03h6.76v208.27h-6.76zM1194.93 1242.54h6.76v196.76h-6.76zM1201.69 1224.98h6.76v214.32h-6.76zM1208.46 1212.54h6.76v226.76h-6.76zM1215.22 1203.63h6.76v235.67h-6.76zM1221.98 1193.21h6.76v246.09h-6.76zM1228.75 1209.81h6.76v229.49h-6.76zM1235.51 1188.51h6.76v250.79h-6.76zM1242.27 1179.92h6.76v259.38h-6.76zM1249.04 1179.06h6.76v260.24h-6.76zM1255.8 1189.18h6.76v250.12h-6.76zM1262.56 1178.02h6.76v261.28h-6.76zM1269.32 1167.36h6.76v271.94h-6.76zM1276.09 1205.5h6.76v233.8h-6.76zM1282.85 1185.41h6.76v253.89h-6.76zM1289.61 1175.32h6.76v263.98h-6.76zM1296.38 1180.43h6.76v258.87h-6.76zM1303.14 1168.79h6.76v270.51h-6.76zM1309.9 1182.52h6.76v256.78h-6.76zM1316.67 1182.21h6.76v257.09h-6.76zM1323.43 1183.96h6.76v255.34h-6.76zM1330.19 1178.56h6.76v260.74h-6.76zM1336.95 1182.91h6.76v256.39h-6.76zM1343.72 1178.6h6.76v260.7h-6.76zM1350.48 1191.19h6.76v248.11h-6.76zM1357.24 1188.28h6.76v251.02h-6.76zM1364.01 1183.89h6.76v255.41h-6.76zM1370.77 1190.38h6.76v248.92h-6.76zM1377.53 1204.38h6.76v234.92h-6.76zM1384.3 1197.19h6.76v242.11h-6.76zM1391.06 1207.01h6.76v232.29h-6.76zM1397.82 1206.07h6.76v233.23h-6.76zM1404.58 1210.19h6.76v229.11h-6.76zM1411.35 1209.12h6.76v230.18h-6.76zM1418.11 1218.14h6.76v221.16h-6.76zM1424.87 1229.64h6.76v209.66h-6.76zM1431.64 1228.64h6.76v210.66h-6.76zM1438.4 1219.73h6.76v219.57h-6.76zM1445.16 1226.13h6.76v213.17h-6.76zM1451.93 1220.93h6.76v218.37h-6.76zM1458.69 1226.65h6.76v212.65h-6.76zM1465.45 1232.95h6.76v206.35h-6.76zM1472.21 1226.13h6.76v213.17h-6.76zM1478.98 1236.1h6.76v203.2h-6.76zM1485.74 1242.77h6.76v196.53h-6.76zM1492.5 1226.84h6.76v212.46h-6.76zM1499.27 1244.58h6.76v194.72h-6.76zM1506.03 1235.8h6.76v203.5h-6.76zM1512.79 1236.16h6.76v203.14h-6.76zM1519.56 1264.95h6.76v174.35h-6.76zM1526.32 1253.1h6.76v186.2h-6.76zM1533.08 1244h6.76v195.3h-6.76zM1539.84 1253.32h6.76v185.98h-6.76zM1546.61 1253.46h6.76v185.84h-6.76zM1553.37 1250.35h6.76v188.95h-6.76zM1560.13 1246.58h6.76v192.72h-6.76zM1566.9 1248.83h6.76v190.47h-6.76zM1573.66 1247.38h6.76v191.92h-6.76zM1580.42 1252.54h6.76v186.76h-6.76zM1587.19 1252.59h6.76v186.71h-6.76zM1593.95 1257.34h6.76v181.96h-6.76zM1600.71 1255.28h6.76v184.02h-6.76zM1607.47 1252.84h6.76v186.46h-6.76zM1614.24 1257.37h6.76v181.93h-6.76zM1621 1255.41h6.76v183.89h-6.76zM1627.76 1260.59h6.76v178.71h-6.76zM1634.53 1261.75h6.76v177.55h-6.76zM1641.29 1260.02h6.76v179.28h-6.76zM1648.05 1261.74h6.76v177.56h-6.76zM1654.82 1259.69h6.76v179.61h-6.76zM1661.58 1262.49h6.76v176.81h-6.76zM1668.34 1257.24h6.76v182.06h-6.76zM1675.1 1266.38h6.76v172.92h-6.76zM1681.87 1267.55h6.76v171.75h-6.76zM1688.63 1272.07h6.76v167.23h-6.76zM1695.39 1268.78h6.76v170.52h-6.76zM1702.16 1266.29h6.76v173.01h-6.76zM1708.92 1272.59h6.76v166.71h-6.76zM1715.68 1269.96h6.76v169.34h-6.76zM1722.45 1267.4h6.76v171.9h-6.76zM1729.21 1271.76h6.76v167.54h-6.76zM1735.97 1274.2h6.76v165.1h-6.76zM1742.73 1268.44h6.76v170.86h-6.76zM1749.5 1272.99h6.76v166.31h-6.76zM1756.26 1272.78h6.76v166.52h-6.76zM1763.02 1270.44h6.76v168.86h-6.76zM1769.79 1271.64h6.76v167.66h-6.76zM1776.55 1279.41h6.76v159.89h-6.76zM1783.31 1281.61h6.76v157.69h-6.76zM1790.08 1279.33h6.76v159.97h-6.76zM1796.84 1282.61h6.76v156.69h-6.76zM1803.6 1292.09h6.76v147.21h-6.76zM1810.36 1278.9h6.76v160.4h-6.76zM1817.13 1286.06h6.76v153.24h-6.76zM1823.89 1284.11h6.76v155.19h-6.76zM1830.65 1294.41h6.76v144.89h-6.76zM1837.42 1284.24h6.76v155.06h-6.76zM1844.18 1294.47h6.76v144.83h-6.76zM1850.94 1293.58h6.76v145.72h-6.76z"/>
<line x1="171.8" y1="1439.3" x2="1866.6" y2="1439.3" stroke="#000" stroke-width="2.1"/>
<polyline points="174.9,1439.6 184.6,1435.7 199.1,1437.7 208.8,1435.7 224.4,1430.3 238,1438.7 247.7,1434.8 261.3,1434.8 267.1,1437.7 278.8,1443.5 286.5,1441.6 294.3,1437.7 306,1434.8 313.7,1441.6 321.5,1439.2 329.3,1441.2 339,1436.7 354.5,1422.1 372,1423.1 379.8,1428 391.4,1435.7 407,1436.7 416.7,1445.5 428.3,1457.1 441.9,1441.6 453.5,1419.2 467.1,1416.3 476.9,1428 482.7,1425.1 488.5,1431.9 496.3,1426 509.9,1443.5 519.6,1434.8 536,1425.8 544,1427.8 552,1423.8 564,1424.8 575.9,1421.8 587.9,1428.8 601.9,1440.8 609.9,1425.8 617.9,1423.8 629.9,1409.8 637.8,1408.8 649.8,1415.8 677.8,1434.8 703.8,1421.8 717.8,1432.8 729.7,1434.8 737.7,1421.8 751.7,1405.8 761.7,1412.8 771.7,1414.8 779.7,1423.8 793.7,1425.8 813.6,1415.8 829.6,1403.8 839.6,1405.8 849.6,1387.8 867.6,1359.5 891.1,1340.4 902.8,1341.9 917.5,1350.7 935.1,1368.3 949.8,1356.5 967.4,1341.9 990.9,1271.4 1008.5,1243.5 1017.4,1247.9 1040.8,1278.7 1049.6,1271.4 1061.4,1272.9 1090.8,1228.8 1105.4,1231.8 1123.1,1227.4 1143.6,1230.3 1155.3,1220 1165.6,1214.1 1181.8,1236.2 1198.8,1249 1219.4,1228.4 1242.8,1215.2 1266.3,1209.3 1286.9,1216.6 1292.8,1215 1313.3,1226.9 1319.2,1225.5 1342.7,1238.6 1360.3,1241.6 1380.8,1253.3 1424.9,1275.3 1454.2,1287.1 1483.6,1293 1504.2,1304.7 1515.9,1304.7 1527.6,1312 1542,1309.3 1559.6,1313.7 1570.6,1311.5 1577.2,1314.8 1586,1311.5 1612.4,1315.9 1623.5,1315.9 1638.9,1321.4 1645.5,1321.4 1652.1,1326.9 1658.7,1323.6 1674.1,1331.3 1687.3,1335.7 1702.7,1336.8 1722.5,1342.3 1740.1,1344.5 1753.3,1348.9 1762.1,1345.6 1773.1,1346.7 1797.4,1350 1812.8,1354.4 1832.6,1354.4 1848,1357.7 1856.8,1354.4" fill="none" stroke="#fff" stroke-width="8.5" stroke-linejoin="round"/>
<polyline points="174.9,1439.6 184.6,1435.7 199.1,1437.7 208.8,1435.7 224.4,1430.3 238,1438.7 247.7,1434.8 261.3,1434.8 267.1,1437.7 278.8,1443.5 286.5,1441.6 294.3,1437.7 306,1434.8 313.7,1441.6 321.5,1439.2 329.3,1441.2 339,1436.7 354.5,1422.1 372,1423.1 379.8,1428 391.4,1435.7 407,1436.7 416.7,1445.5 428.3,1457.1 441.9,1441.6 453.5,1419.2 467.1,1416.3 476.9,1428 482.7,1425.1 488.5,1431.9 496.3,1426 509.9,1443.5 519.6,1434.8 536,1425.8 544,1427.8 552,1423.8 564,1424.8 575.9,1421.8 587.9,1428.8 601.9,1440.8 609.9,1425.8 617.9,1423.8 629.9,1409.8 637.8,1408.8 649.8,1415.8 677.8,1434.8 703.8,1421.8 717.8,1432.8 729.7,1434.8 737.7,1421.8 751.7,1405.8 761.7,1412.8 771.7,1414.8 779.7,1423.8 793.7,1425.8 813.6,1415.8 829.6,1403.8 839.6,1405.8 849.6,1387.8 867.6,1359.5 891.1,1340.4 902.8,1341.9 917.5,1350.7 935.1,1368.3 949.8,1356.5 967.4,1341.9 990.9,1271.4 1008.5,1243.5 1017.4,1247.9 1040.8,1278.7 1049.6,1271.4 1061.4,1272.9 1090.8,1228.8 1105.4,1231.8 1123.1,1227.4 1143.6,1230.3 1155.3,1220 1165.6,1214.1 1181.8,1236.2 1198.8,1249 1219.4,1228.4 1242.8,1215.2 1266.3,1209.3 1286.9,1216.6 1292.8,1215 1313.3,1226.9 1319.2,1225.5 1342.7,1238.6 1360.3,1241.6 1380.8,1253.3 1424.9,1275.3 1454.2,1287.1 1483.6,1293 1504.2,1304.7 1515.9,1304.7 1527.6,1312 1542,1309.3 1559.6,1313.7 1570.6,1311.5 1577.2,1314.8 1586,1311.5 1612.4,1315.9 1623.5,1315.9 1638.9,1321.4 1645.5,1321.4 1652.1,1326.9 1658.7,1323.6 1674.1,1331.3 1687.3,1335.7 1702.7,1336.8 1722.5,1342.3 1740.1,1344.5 1753.3,1348.9 1762.1,1345.6 1773.1,1346.7 1797.4,1350 1812.8,1354.4 1832.6,1354.4 1848,1357.7 1856.8,1354.4" fill="none" stroke="#8a40c8" stroke-width="5.6" stroke-linejoin="round"/>
</g>
<line x1="171.8" y1="963.8" x2="1866.6" y2="963.8" stroke="#1a1a1a" stroke-width="1.6"/>
<line x1="171.8" y1="1796" x2="1866.6" y2="1796" stroke="#1a1a1a" stroke-width="1.6"/>
<line x1="171.8" y1="963.8" x2="171.8" y2="1796" stroke="#1a1a1a" stroke-width="1.6"/>
<line x1="1866.6" y1="963.8" x2="1866.6" y2="1796" stroke="#8a40c8" stroke-width="1.6"/>
<line x1="156.8" y1="963.76" x2="171.8" y2="963.76" stroke="#1a1a1a" stroke-width="1.6"/>
<text x="152.4" y="975.87" font-size="32.3" text-anchor="end">0.20</text>
<line x1="156.8" y1="1082.64" x2="171.8" y2="1082.64" stroke="#1a1a1a" stroke-width="1.6"/>
<text x="152.4" y="1094.76" font-size="32.3" text-anchor="end">0.15</text>
<line x1="156.8" y1="1201.53" x2="171.8" y2="1201.53" stroke="#1a1a1a" stroke-width="1.6"/>
<text x="152.4" y="1213.64" font-size="32.3" text-anchor="end">0.10</text>
<line x1="156.8" y1="1320.41" x2="171.8" y2="1320.41" stroke="#1a1a1a" stroke-width="1.6"/>
<text x="152.4" y="1332.53" font-size="32.3" text-anchor="end">0.05</text>
<line x1="156.8" y1="1439.3" x2="171.8" y2="1439.3" stroke="#1a1a1a" stroke-width="1.6"/>
<text x="152.4" y="1451.41" font-size="32.3" text-anchor="end">0.00</text>
<line x1="156.8" y1="1558.18" x2="171.8" y2="1558.18" stroke="#1a1a1a" stroke-width="1.6"/>
<text x="152.4" y="1570.3" font-size="32.3" text-anchor="end">−0.05</text>
<line x1="156.8" y1="1677.07" x2="171.8" y2="1677.07" stroke="#1a1a1a" stroke-width="1.6"/>
<text x="152.4" y="1689.18" font-size="32.3" text-anchor="end">−0.10</text>
<line x1="156.8" y1="1795.95" x2="171.8" y2="1795.95" stroke="#1a1a1a" stroke-width="1.6"/>
<text x="152.4" y="1808.07" font-size="32.3" text-anchor="end">−0.15</text>
<line x1="1866.6" y1="963.76" x2="1881.2" y2="963.76" stroke="#8a40c8" stroke-width="1.6"/>
<text x="1886.7" y="978.01" font-size="38" fill="#8a40c8">0.20</text>
<line x1="1866.6" y1="1082.64" x2="1881.2" y2="1082.64" stroke="#8a40c8" stroke-width="1.6"/>
<text x="1886.7" y="1096.89" font-size="38" fill="#8a40c8">0.15</text>
<line x1="1866.6" y1="1201.53" x2="1881.2" y2="1201.53" stroke="#8a40c8" stroke-width="1.6"/>
<text x="1886.7" y="1215.78" font-size="38" fill="#8a40c8">0.10</text>
<line x1="1866.6" y1="1320.41" x2="1881.2" y2="1320.41" stroke="#8a40c8" stroke-width="1.6"/>
<text x="1886.7" y="1334.66" font-size="38" fill="#8a40c8">0.05</text>
<line x1="1866.6" y1="1439.3" x2="1881.2" y2="1439.3" stroke="#8a40c8" stroke-width="1.6"/>
<text x="1886.7" y="1453.55" font-size="38" fill="#8a40c8">0.00</text>
<line x1="1866.6" y1="1558.18" x2="1881.2" y2="1558.18" stroke="#8a40c8" stroke-width="1.6"/>
<text x="1886.7" y="1572.43" font-size="38" fill="#8a40c8">−0.05</text>
<line x1="1866.6" y1="1677.07" x2="1881.2" y2="1677.07" stroke="#8a40c8" stroke-width="1.6"/>
<text x="1886.7" y="1691.32" font-size="38" fill="#8a40c8">−0.10</text>
<line x1="1866.6" y1="1795.95" x2="1881.2" y2="1795.95" stroke="#8a40c8" stroke-width="1.6"/>
<text x="1886.7" y="1810.2" font-size="38" fill="#8a40c8">−0.15</text>
<line x1="177.1" y1="1796" x2="177.1" y2="1810.5" stroke="#1a1a1a" stroke-width="1.6"/>
<text x="174.7" y="1869.61" font-size="32.3" text-anchor="middle" transform="rotate(-45 174.7 1857.5)">1850</text>
<line x1="346.17" y1="1796" x2="346.17" y2="1810.5" stroke="#1a1a1a" stroke-width="1.6"/>
<text x="343.77" y="1869.61" font-size="32.3" text-anchor="middle" transform="rotate(-45 343.77 1857.5)">1875</text>
<line x1="515.25" y1="1796" x2="515.25" y2="1810.5" stroke="#1a1a1a" stroke-width="1.6"/>
<text x="512.85" y="1869.61" font-size="32.3" text-anchor="middle" transform="rotate(-45 512.85 1857.5)">1900</text>
<line x1="684.32" y1="1796" x2="684.32" y2="1810.5" stroke="#1a1a1a" stroke-width="1.6"/>
<text x="681.92" y="1869.61" font-size="32.3" text-anchor="middle" transform="rotate(-45 681.92 1857.5)">1925</text>
<line x1="853.4" y1="1796" x2="853.4" y2="1810.5" stroke="#1a1a1a" stroke-width="1.6"/>
<text x="851" y="1869.61" font-size="32.3" text-anchor="middle" transform="rotate(-45 851 1857.5)">1950</text>
<line x1="1022.48" y1="1796" x2="1022.48" y2="1810.5" stroke="#1a1a1a" stroke-width="1.6"/>
<text x="1020.08" y="1869.61" font-size="32.3" text-anchor="middle" transform="rotate(-45 1020.08 1857.5)">1975</text>
<line x1="1191.55" y1="1796" x2="1191.55" y2="1810.5" stroke="#1a1a1a" stroke-width="1.6"/>
<text x="1189.15" y="1869.61" font-size="32.3" text-anchor="middle" transform="rotate(-45 1189.15 1857.5)">2000</text>
<line x1="1360.62" y1="1796" x2="1360.62" y2="1810.5" stroke="#1a1a1a" stroke-width="1.6"/>
<text x="1358.22" y="1869.61" font-size="32.3" text-anchor="middle" transform="rotate(-45 1358.22 1857.5)">2025</text>
<line x1="1529.7" y1="1796" x2="1529.7" y2="1810.5" stroke="#1a1a1a" stroke-width="1.6"/>
<text x="1527.3" y="1869.61" font-size="32.3" text-anchor="middle" transform="rotate(-45 1527.3 1857.5)">2050</text>
<line x1="1698.77" y1="1796" x2="1698.77" y2="1810.5" stroke="#1a1a1a" stroke-width="1.6"/>
<text x="1696.37" y="1869.61" font-size="32.3" text-anchor="middle" transform="rotate(-45 1696.37 1857.5)">2075</text>
<text x="1892.1" y="1918.81" font-size="32.3" text-anchor="middle" transform="rotate(-45 1892.1 1906.7)">2100</text>
<text x="1018.7" y="1931.5" font-size="38.2" text-anchor="middle">Time (year)</text>
<text x="87.5" y="927" font-size="37">(d)</text>
<text x="1026.5" y="953.5" font-size="41" text-anchor="middle">no plumes −  plumes</text>
<text x="38.8" y="1376" font-size="38.2" text-anchor="middle" transform="rotate(-90 38.8 1376)">Δ atmospheric radiative burden (W m<tspan font-size="26.74" dy="-15">−2</tspan><tspan dy="15">)</tspan></text>
<text x="2021" y="1380.5" font-size="38.2" text-anchor="middle" fill="#8a40c8" transform="rotate(90 2021 1380.5)">Δ Temperature (<tspan font-size="26.74" dy="-15">∘</tspan><tspan dy="15">C)</tspan></text>
<rect x="203" y="2050.65" width="71" height="24.5" fill="#98efe4"/>
<text x="301.3" y="2054.2" font-size="35.5">Land use</text>
<text x="301.3" y="2091.5" font-size="35.5"> emissions forcing</text>
<rect x="203" y="2162.75" width="71" height="24.5" fill="#4f8fcb"/>
<text x="301.3" y="2165.5" font-size="35.5">Fossil fuel</text>
<text x="301.3" y="2203.8" font-size="35.5"> emissions forcing</text>
<rect x="203" y="2273.75" width="71" height="24.5" fill="#46617f"/>
<text x="301.3" y="2276.3" font-size="35.5">Ocean carbon</text>
<text x="301.3" y="2315" font-size="35.5"> uptake forcing</text>
<rect x="690.5" y="2050.65" width="71" height="24.5" fill="#62d5e2"/>
<text x="788.9" y="2054.2" font-size="35.5">Land carbon</text>
<text x="788.9" y="2091.5" font-size="35.5"> uptake forcing</text>
<rect x="690.5" y="2162.75" width="71" height="24.5" fill="#c0f2f4"/>
<text x="788.9" y="2165.5" font-size="35.5">Permafrost</text>
<text x="788.9" y="2203.8" font-size="35.5">uptake forcing</text>
<rect x="1123.7" y="2050.75" width="71" height="24.5" fill="#ee8b4f"/>
<text x="1221.8" y="2074.8" font-size="35.5">Sulphate aerosols</text>
<rect x="1123.7" y="2146.65" width="71" height="24.5" fill="#98fb98"/>
<text x="1221.8" y="2148.1" font-size="35.5">Ocean heat</text>
<text x="1221.8" y="2186.1" font-size="35.5"> uptake</text>
<rect x="1606.1" y="2050.6" width="71.2" height="24.8" fill="url(#hatch)" stroke="#000" stroke-width="1.1"/>
<text x="1705.9" y="2074.8" font-size="35.5">ARB</text>
<line x1="1604.5" y1="2136.5" x2="1680" y2="2136.5" stroke="#fff" stroke-width="7.5"/>
<line x1="1604.5" y1="2136.5" x2="1680" y2="2136.5" stroke="#8a40c8" stroke-width="4.7"/>
<text x="1706.3" y="2148.1" font-size="35.5">Temperature</text>
</svg>
</body></html>
